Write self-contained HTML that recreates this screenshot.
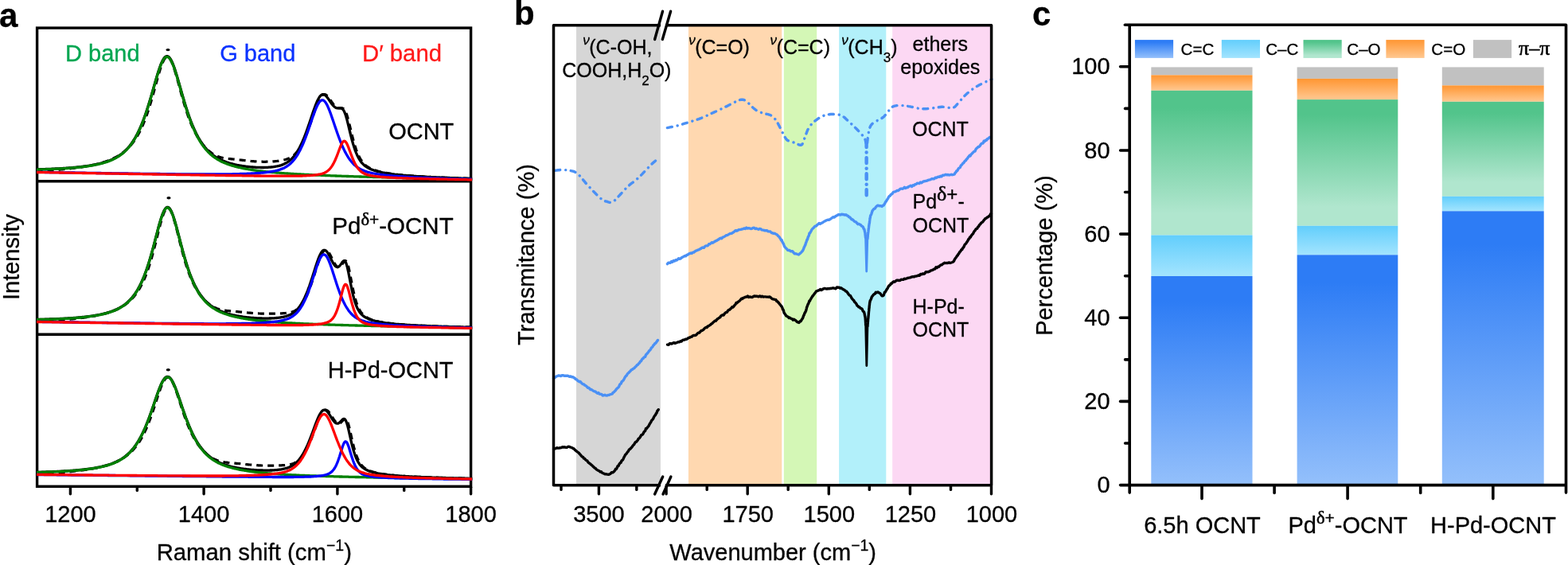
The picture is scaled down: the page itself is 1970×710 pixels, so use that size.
<!DOCTYPE html>
<html lang="en"><head><meta charset="utf-8"><title>Figure</title>
<style>
html,body{margin:0;padding:0;background:#fff;}
body{width:1970px;height:710px;overflow:hidden;}
svg{display:block;font-family:"Liberation Sans", sans-serif;}
svg text{fill:currentColor;stroke:currentColor;stroke-width:0.3px;stroke-linejoin:round;}

</style></head><body>
<svg width="1970" height="710" viewBox="0 0 1970 710">
<rect width="1970" height="710" fill="#fff"/>
<g id="panel-a">
<clipPath id="clipA"><rect x="46.0" y="35.1" width="547.3" height="576.1999999999999"/></clipPath>
<rect x="46.6" y="35.1" width="545.0" height="576.1999999999999" fill="none" stroke="#000" stroke-width="3.4"/>
<line x1="46.6" x2="591.6" y1="227.8" y2="227.8" stroke="#000" stroke-width="3.4"/>
<line x1="46.6" x2="591.6" y1="420.3" y2="420.3" stroke="#000" stroke-width="3.4"/>
<g clip-path="url(#clipA)">
<path d="M45.6,214.7 L46.6,214.7 L47.6,214.6 L48.6,214.6 L49.6,214.6 L50.6,214.5 L51.6,214.5 L52.6,214.5 L53.6,214.4 L54.6,214.4 L55.6,214.3 L56.6,214.3 L57.6,214.3 L58.6,214.2 L59.6,214.2 L60.6,214.1 L61.6,214.0 L62.6,214.0 L63.6,213.9 L64.6,213.9 L65.6,213.8 L66.6,213.7 L67.6,213.7 L68.6,213.6 L69.6,213.5 L70.6,213.5 L71.6,213.4 L72.6,213.3 L73.6,213.2 L74.6,213.1 L75.6,213.1 L76.6,213.0 L77.6,212.9 L78.6,212.8 L79.6,212.7 L80.6,212.6 L81.6,212.5 L82.6,212.4 L83.6,212.3 L84.6,212.2 L85.6,212.1 L86.6,212.0 L87.6,211.9 L88.6,211.8 L89.6,211.6 L90.6,211.5 L91.6,211.4 L92.6,211.3 L93.6,211.2 L94.6,211.0 L95.6,210.9 L96.6,210.8 L97.6,210.6 L98.6,210.5 L99.6,210.4 L100.6,210.2 L101.6,210.1 L102.6,209.9 L103.6,209.8 L104.6,209.6 L105.6,209.4 L106.6,209.3 L107.6,209.1 L108.6,208.9 L109.6,208.8 L110.6,208.6 L111.6,208.4 L112.6,208.2 L113.6,208.0 L114.6,207.8 L115.6,207.6 L116.6,207.4 L117.6,207.2 L118.6,207.0 L119.6,206.7 L120.6,206.5 L121.6,206.3 L122.6,206.0 L123.6,205.8 L124.6,205.5 L125.6,205.2 L126.6,204.9 L127.6,204.7 L128.6,204.4 L129.6,204.1 L130.6,203.7 L131.6,203.4 L132.6,203.1 L133.6,202.7 L134.6,202.4 L135.6,202.0 L136.6,201.6 L137.6,201.2 L138.6,200.8 L139.6,200.4 L140.6,200.0 L141.6,199.5 L142.6,199.0 L143.6,198.5 L144.6,198.0 L145.6,197.5 L146.6,197.0 L147.6,196.4 L148.6,195.8 L149.6,195.2 L150.6,194.6 L151.6,193.9 L152.6,193.2 L153.6,192.5 L154.6,191.7 L155.6,190.9 L156.6,190.1 L157.6,189.3 L158.6,188.4 L159.6,187.5 L160.6,186.5 L161.6,185.5 L162.6,184.4 L163.6,183.3 L164.6,182.2 L165.6,181.0 L166.6,179.7 L167.6,178.4 L168.6,177.0 L169.6,175.5 L170.6,174.0 L171.6,172.4 L172.6,170.8 L173.6,169.0 L174.6,167.2 L175.6,165.3 L176.6,163.3 L177.6,161.3 L178.6,159.1 L179.6,156.8 L180.6,154.4 L181.6,151.9 L182.6,149.4 L183.6,146.7 L184.6,143.9 L185.6,140.9 L186.6,137.9 L187.6,134.8 L188.6,131.6 L189.6,128.2 L190.6,124.8 L191.6,121.3 L192.6,117.8 L193.6,114.1 L194.6,110.5 L195.6,106.8 L196.6,103.2 L197.6,99.5 L198.6,96.0 L199.6,92.5 L200.6,89.2 L201.6,86.1 L202.6,83.1 L203.6,80.5 L204.6,78.1 L205.6,76.0 L206.6,74.3 L207.6,73.0 L208.6,72.1 L209.6,71.7 L210.6,71.6 L211.6,72.0 L212.6,72.9 L213.6,74.1 L214.6,75.7 L215.6,77.7 L216.6,80.1 L217.6,82.7 L218.6,85.6 L219.6,88.7 L220.6,92.0 L221.6,95.5 L222.6,99.0 L223.6,102.7 L224.6,106.4 L225.6,110.0 L226.6,113.7 L227.6,117.4 L228.6,121.0 L229.6,124.5 L230.6,127.9 L231.6,131.3 L232.6,134.6 L233.6,137.7 L234.6,140.8 L235.6,143.8 L236.6,146.6 L237.6,149.3 L238.6,152.0 L239.6,154.5 L240.6,156.9 L241.6,159.2 L242.6,161.4 L243.6,163.5 L244.6,165.6 L245.6,167.5 L246.6,169.3 L247.6,171.1 L248.6,172.8 L249.6,174.4 L250.6,176.0 L251.6,177.4 L252.6,178.8 L253.6,180.2 L254.6,181.4 L255.6,182.7 L256.6,183.8 L257.6,184.9 L258.6,186.0 L259.6,187.0 L260.6,188.0 L261.6,188.9 L262.6,189.7 L263.6,190.6 L264.6,191.3 L265.6,192.1 L266.6,192.8 L267.6,193.4 L268.6,194.0 L269.6,194.6 L270.6,195.1 L271.6,195.6 L272.6,196.0 L273.6,196.5 L274.6,196.8 L275.6,197.2 L276.6,197.5 L277.6,197.8 L278.6,198.0 L279.6,198.3 L280.6,198.5 L281.6,198.7 L282.6,198.9 L283.6,199.0 L284.6,199.2 L285.6,199.3 L286.6,199.4 L287.6,199.5 L288.6,199.6 L289.6,199.7 L290.6,199.8 L291.6,199.9 L292.6,200.0 L293.6,200.1 L294.6,200.2 L295.6,200.3 L296.6,200.4 L297.6,200.5 L298.6,200.6 L299.6,200.7 L300.6,200.9 L301.6,201.0 L302.6,201.1 L303.6,201.2 L304.6,201.3 L305.6,201.4 L306.6,201.5 L307.6,201.6 L308.6,201.7 L309.6,201.9 L310.6,202.0 L311.6,202.1 L312.6,202.2 L313.6,202.3 L314.6,202.4 L315.6,202.5 L316.6,202.6 L317.6,202.6 L318.6,202.7 L319.6,202.8 L320.6,202.9 L321.6,202.9 L322.6,203.0 L323.6,203.0 L324.6,203.1 L325.6,203.1 L326.6,203.2 L327.6,203.2 L328.6,203.2 L329.6,203.2 L330.6,203.3 L331.6,203.3 L332.6,203.3 L333.6,203.3 L334.6,203.2 L335.6,203.2 L336.6,203.2 L337.6,203.2 L338.6,203.1 L339.6,203.1 L340.6,203.0 L341.6,203.0 L342.6,202.9 L343.6,202.8 L344.6,202.8 L345.6,202.7 L346.6,202.6 L347.6,202.5 L348.6,202.4 L349.6,202.3 L350.6,202.1 L351.6,202.0 L352.6,201.8 L353.6,201.7 L354.6,201.5 L355.6,201.3 L356.6,201.0 L357.6,200.8 L358.6,200.5 L359.6,200.2 L360.6,199.9 L361.6,199.5 L362.6,199.1 L363.6,198.6 L364.6,198.1 L365.6,197.6 L366.6,196.9 L367.6,196.2 L368.6,195.5 L369.6,194.6 L370.6,193.7 L371.6,192.7 L372.6,191.6 L373.6,190.4 L374.6,189.1 L375.6,187.7 L376.6,186.2 L377.6,184.6 L378.6,182.8 L379.6,181.0 L380.6,179.0 L381.6,176.9 L382.6,174.7 L383.6,172.4 L384.6,170.0 L385.6,167.5 L386.6,164.8 L387.6,162.1 L388.6,159.3 L389.6,156.5 L390.6,153.6 L391.6,150.6 L392.6,147.6 L393.6,144.7 L394.6,141.7 L395.6,138.8 L396.6,136.0 L397.6,133.3 L398.6,130.7 L399.6,128.3 L400.6,126.1 L401.6,124.1 L402.6,122.4 L403.6,121.0 L404.6,119.9 L405.6,119.1 L406.6,118.7 L407.6,118.5 L408.6,118.7 L409.6,119.2 L410.6,120.0 L411.6,120.9 L412.6,122.1 L413.6,123.5 L414.6,124.9 L415.6,126.4 L416.6,127.9 L417.6,129.3 L418.6,130.7 L419.6,131.9 L420.6,133.1 L421.6,134.0 L422.6,134.7 L423.6,135.3 L424.6,135.6 L425.6,135.8 L426.6,135.9 L427.6,135.8 L428.6,135.8 L429.6,135.8 L430.6,136.1 L431.6,136.6 L432.6,137.6 L433.6,139.1 L434.6,141.2 L435.6,143.8 L436.6,147.0 L437.6,150.7 L438.6,154.6 L439.6,158.7 L440.6,162.9 L441.6,167.1 L442.6,171.1 L443.6,175.0 L444.6,178.6 L445.6,182.1 L446.6,185.2 L447.6,188.2 L448.6,190.9 L449.6,193.3 L450.6,195.6 L451.6,197.6 L452.6,199.4 L453.6,201.0 L454.6,202.5 L455.6,203.8 L456.6,205.0 L457.6,206.1 L458.6,207.0 L459.6,207.9 L460.6,208.7 L461.6,209.4 L462.6,210.1 L463.6,210.6 L464.6,211.2 L465.6,211.7 L466.6,212.2 L467.6,212.6 L468.6,213.0 L469.6,213.4 L470.6,213.8 L471.6,214.1 L472.6,214.4 L473.6,214.7 L474.6,215.0 L475.6,215.3 L476.6,215.5 L477.6,215.8 L478.6,216.0 L479.6,216.3 L480.6,216.5 L481.6,216.7 L482.6,216.9 L483.6,217.1 L484.6,217.3 L485.6,217.4 L486.6,217.6 L487.6,217.8 L488.6,217.9 L489.6,218.1 L490.6,218.2 L491.6,218.4 L492.6,218.5 L493.6,218.7 L494.6,218.8 L495.6,218.9 L496.6,219.0 L497.6,219.2 L498.6,219.3 L499.6,219.4 L500.6,219.5 L501.6,219.6 L502.6,219.7 L503.6,219.8 L504.6,219.9 L505.6,220.0 L506.6,220.1 L507.6,220.2 L508.6,220.3 L509.6,220.4 L510.6,220.5 L511.6,220.5 L512.6,220.6 L513.6,220.7 L514.6,220.8 L515.6,220.9 L516.6,220.9 L517.6,221.0 L518.6,221.1 L519.6,221.2 L520.6,221.2 L521.6,221.3 L522.6,221.4 L523.6,221.4 L524.6,221.5 L525.6,221.6 L526.6,221.6 L527.6,221.7 L528.6,221.7 L529.6,221.8 L530.6,221.9 L531.6,221.9 L532.6,222.0 L533.6,222.0 L534.6,222.1 L535.6,222.1 L536.6,222.2 L537.6,222.3 L538.6,222.3 L539.6,222.4 L540.6,222.4 L541.6,222.5 L542.6,222.5 L543.6,222.6 L544.6,222.6 L545.6,222.7 L546.6,222.7 L547.6,222.7 L548.6,222.8 L549.6,222.8 L550.6,222.9 L551.6,222.9 L552.6,223.0 L553.6,223.0 L554.6,223.1 L555.6,223.1 L556.6,223.1 L557.6,223.2 L558.6,223.2 L559.6,223.3 L560.6,223.3 L561.6,223.3 L562.6,223.4 L563.6,223.4 L564.6,223.5 L565.6,223.5 L566.6,223.5 L567.6,223.6 L568.6,223.6 L569.6,223.6 L570.6,223.7 L571.6,223.7 L572.6,223.8 L573.6,223.8 L574.6,223.8 L575.6,223.9 L576.6,223.9 L577.6,223.9 L578.6,224.0 L579.6,224.0 L580.6,224.0 L581.6,224.1 L582.6,224.1 L583.6,224.1 L584.6,224.2 L585.6,224.2 L586.6,224.2 L587.6,224.3 L588.6,224.3 L589.6,224.3 L590.6,224.4 L591.6,224.4 L592.6,224.4 L593.6,224.5" fill="none" stroke="#000" stroke-width="3.2" stroke-dasharray="8 6" stroke-linejoin="round"/>
<path d="M45.6,212.9 L46.6,212.8 L47.6,212.8 L48.6,212.8 L49.6,212.8 L50.6,212.7 L51.6,212.7 L52.6,212.7 L53.6,212.6 L54.6,212.6 L55.6,212.6 L56.6,212.6 L57.6,212.5 L58.6,212.5 L59.6,212.5 L60.6,212.4 L61.6,212.4 L62.6,212.3 L63.6,212.3 L64.6,212.3 L65.6,212.2 L66.6,212.2 L67.6,212.1 L68.6,212.1 L69.6,212.0 L70.6,212.0 L71.6,211.9 L72.6,211.9 L73.6,211.8 L74.6,211.8 L75.6,211.7 L76.6,211.7 L77.6,211.6 L78.6,211.6 L79.6,211.5 L80.6,211.4 L81.6,211.4 L82.6,211.3 L83.6,211.2 L84.6,211.2 L85.6,211.1 L86.6,211.0 L87.6,210.9 L88.6,210.9 L89.6,210.8 L90.6,210.7 L91.6,210.6 L92.6,210.5 L93.6,210.4 L94.6,210.3 L95.6,210.2 L96.6,210.1 L97.6,210.0 L98.6,209.9 L99.6,209.8 L100.6,209.7 L101.6,209.6 L102.6,209.5 L103.6,209.4 L104.6,209.2 L105.6,209.1 L106.6,209.0 L107.6,208.8 L108.6,208.7 L109.6,208.6 L110.6,208.4 L111.6,208.3 L112.6,208.1 L113.6,207.9 L114.6,207.8 L115.6,207.6 L116.6,207.4 L117.6,207.2 L118.6,207.0 L119.6,206.8 L120.6,206.6 L121.6,206.4 L122.6,206.2 L123.6,206.0 L124.6,205.7 L125.6,205.5 L126.6,205.2 L127.6,205.0 L128.6,204.7 L129.6,204.4 L130.6,204.1 L131.6,203.8 L132.6,203.5 L133.6,203.2 L134.6,202.9 L135.6,202.5 L136.6,202.1 L137.6,201.8 L138.6,201.4 L139.6,200.9 L140.6,200.5 L141.6,200.1 L142.6,199.6 L143.6,199.1 L144.6,198.6 L145.6,198.0 L146.6,197.5 L147.6,196.9 L148.6,196.3 L149.6,195.6 L150.6,194.9 L151.6,194.2 L152.6,193.5 L153.6,192.7 L154.6,191.9 L155.6,191.0 L156.6,190.1 L157.6,189.2 L158.6,188.2 L159.6,187.1 L160.6,186.0 L161.6,184.9 L162.6,183.7 L163.6,182.4 L164.6,181.1 L165.6,179.7 L166.6,178.3 L167.6,176.7 L168.6,175.1 L169.6,173.5 L170.6,171.7 L171.6,169.9 L172.6,168.0 L173.6,166.0 L174.6,163.9 L175.6,161.7 L176.6,159.5 L177.6,157.1 L178.6,154.7 L179.6,152.2 L180.6,149.5 L181.6,146.8 L182.6,144.0 L183.6,141.1 L184.6,138.1 L185.6,135.0 L186.6,131.8 L187.6,128.6 L188.6,125.2 L189.6,121.9 L190.6,118.4 L191.6,115.0 L192.6,111.5 L193.6,108.0 L194.6,104.5 L195.6,101.0 L196.6,97.6 L197.6,94.3 L198.6,91.0 L199.6,87.9 L200.6,85.0 L201.6,82.2 L202.6,79.7 L203.6,77.5 L204.6,75.5 L205.6,73.8 L206.6,72.5 L207.6,71.5 L208.6,70.8 L209.6,70.6 L210.6,70.7 L211.6,71.2 L212.6,72.1 L213.6,73.3 L214.6,74.9 L215.6,76.7 L216.6,78.9 L217.6,81.4 L218.6,84.0 L219.6,86.9 L220.6,90.0 L221.6,93.2 L222.6,96.5 L223.6,99.9 L224.6,103.4 L225.6,106.9 L226.6,110.4 L227.6,113.9 L228.6,117.4 L229.6,120.9 L230.6,124.3 L231.6,127.7 L232.6,131.0 L233.6,134.2 L234.6,137.3 L235.6,140.4 L236.6,143.3 L237.6,146.2 L238.6,149.0 L239.6,151.7 L240.6,154.3 L241.6,156.8 L242.6,159.2 L243.6,161.5 L244.6,163.7 L245.6,165.8 L246.6,167.9 L247.6,169.8 L248.6,171.7 L249.6,173.5 L250.6,175.2 L251.6,176.8 L252.6,178.4 L253.6,179.9 L254.6,181.3 L255.6,182.7 L256.6,184.0 L257.6,185.2 L258.6,186.4 L259.6,187.6 L260.6,188.6 L261.6,189.7 L262.6,190.6 L263.6,191.6 L264.6,192.5 L265.6,193.3 L266.6,194.1 L267.6,194.9 L268.6,195.6 L269.6,196.3 L270.6,197.0 L271.6,197.6 L272.6,198.2 L273.6,198.8 L274.6,199.4 L275.6,199.9 L276.6,200.4 L277.6,200.9 L278.6,201.4 L279.6,201.8 L280.6,202.2 L281.6,202.6 L282.6,203.0 L283.6,203.4 L284.6,203.8 L285.6,204.1 L286.6,204.4 L287.6,204.8 L288.6,205.1 L289.6,205.4 L290.6,205.6 L291.6,205.9 L292.6,206.2 L293.6,206.4 L294.6,206.7 L295.6,206.9 L296.6,207.1 L297.6,207.3 L298.6,207.5 L299.6,207.7 L300.6,207.9 L301.6,208.1 L302.6,208.2 L303.6,208.4 L304.6,208.6 L305.6,208.7 L306.6,208.9 L307.6,209.0 L308.6,209.1 L309.6,209.3 L310.6,209.4 L311.6,209.5 L312.6,209.6 L313.6,209.7 L314.6,209.8 L315.6,209.9 L316.6,210.0 L317.6,210.0 L318.6,210.1 L319.6,210.2 L320.6,210.2 L321.6,210.3 L322.6,210.3 L323.6,210.4 L324.6,210.4 L325.6,210.4 L326.6,210.4 L327.6,210.5 L328.6,210.5 L329.6,210.5 L330.6,210.5 L331.6,210.5 L332.6,210.4 L333.6,210.4 L334.6,210.4 L335.6,210.3 L336.6,210.3 L337.6,210.2 L338.6,210.2 L339.6,210.1 L340.6,210.0 L341.6,209.9 L342.6,209.8 L343.6,209.7 L344.6,209.5 L345.6,209.4 L346.6,209.2 L347.6,209.0 L348.6,208.8 L349.6,208.6 L350.6,208.4 L351.6,208.1 L352.6,207.8 L353.6,207.5 L354.6,207.1 L355.6,206.7 L356.6,206.3 L357.6,205.8 L358.6,205.3 L359.6,204.8 L360.6,204.2 L361.6,203.5 L362.6,202.8 L363.6,202.1 L364.6,201.2 L365.6,200.3 L366.6,199.4 L367.6,198.3 L368.6,197.2 L369.6,196.0 L370.6,194.7 L371.6,193.3 L372.6,191.9 L373.6,190.3 L374.6,188.6 L375.6,186.9 L376.6,185.0 L377.6,183.0 L378.6,180.9 L379.6,178.8 L380.6,176.5 L381.6,174.1 L382.6,171.6 L383.6,169.0 L384.6,166.4 L385.6,163.6 L386.6,160.8 L387.6,157.9 L388.6,155.0 L389.6,152.0 L390.6,149.0 L391.6,146.0 L392.6,143.0 L393.6,140.1 L394.6,137.2 L395.6,134.5 L396.6,131.8 L397.6,129.3 L398.6,127.0 L399.6,125.0 L400.6,123.2 L401.6,121.6 L402.6,120.4 L403.6,119.5 L404.6,118.9 L405.6,118.6 L406.6,118.7 L407.6,119.1 L408.6,119.7 L409.6,120.6 L410.6,121.7 L411.6,123.0 L412.6,124.4 L413.6,125.8 L414.6,127.3 L415.6,128.8 L416.6,130.2 L417.6,131.5 L418.6,132.7 L419.6,133.7 L420.6,134.5 L421.6,135.2 L422.6,135.6 L423.6,135.8 L424.6,135.9 L425.6,135.9 L426.6,135.9 L427.6,135.9 L428.6,136.0 L429.6,136.4 L430.6,137.2 L431.6,138.5 L432.6,140.3 L433.6,142.8 L434.6,145.8 L435.6,149.2 L436.6,153.1 L437.6,157.1 L438.6,161.3 L439.6,165.5 L440.6,169.5 L441.6,173.5 L442.6,177.2 L443.6,180.8 L444.6,184.0 L445.6,187.1 L446.6,189.9 L447.6,192.4 L448.6,194.7 L449.6,196.8 L450.6,198.7 L451.6,200.4 L452.6,202.0 L453.6,203.4 L454.6,204.6 L455.6,205.7 L456.6,206.7 L457.6,207.6 L458.6,208.4 L459.6,209.2 L460.6,209.8 L461.6,210.5 L462.6,211.0 L463.6,211.5 L464.6,212.0 L465.6,212.5 L466.6,212.9 L467.6,213.3 L468.6,213.7 L469.6,214.0 L470.6,214.3 L471.6,214.6 L472.6,214.9 L473.6,215.2 L474.6,215.5 L475.6,215.7 L476.6,216.0 L477.6,216.2 L478.6,216.4 L479.6,216.6 L480.6,216.8 L481.6,217.0 L482.6,217.2 L483.6,217.4 L484.6,217.6 L485.6,217.7 L486.6,217.9 L487.6,218.1 L488.6,218.2 L489.6,218.3 L490.6,218.5 L491.6,218.6 L492.6,218.8 L493.6,218.9 L494.6,219.0 L495.6,219.1 L496.6,219.3 L497.6,219.4 L498.6,219.5 L499.6,219.6 L500.6,219.7 L501.6,219.8 L502.6,219.9 L503.6,220.0 L504.6,220.1 L505.6,220.2 L506.6,220.3 L507.6,220.4 L508.6,220.4 L509.6,220.5 L510.6,220.6 L511.6,220.7 L512.6,220.8 L513.6,220.9 L514.6,220.9 L515.6,221.0 L516.6,221.1 L517.6,221.2 L518.6,221.2 L519.6,221.3 L520.6,221.4 L521.6,221.4 L522.6,221.5 L523.6,221.6 L524.6,221.6 L525.6,221.7 L526.6,221.7 L527.6,221.8 L528.6,221.9 L529.6,221.9 L530.6,222.0 L531.6,222.0 L532.6,222.1 L533.6,222.1 L534.6,222.2 L535.6,222.2 L536.6,222.3 L537.6,222.4 L538.6,222.4 L539.6,222.5 L540.6,222.5 L541.6,222.6 L542.6,222.6 L543.6,222.6 L544.6,222.7 L545.6,222.7 L546.6,222.8 L547.6,222.8 L548.6,222.9 L549.6,222.9 L550.6,223.0 L551.6,223.0 L552.6,223.0 L553.6,223.1 L554.6,223.1 L555.6,223.2 L556.6,223.2 L557.6,223.3 L558.6,223.3 L559.6,223.3 L560.6,223.4 L561.6,223.4 L562.6,223.5 L563.6,223.5 L564.6,223.5 L565.6,223.6 L566.6,223.6 L567.6,223.6 L568.6,223.7 L569.6,223.7 L570.6,223.7 L571.6,223.8 L572.6,223.8 L573.6,223.9 L574.6,223.9 L575.6,223.9 L576.6,224.0 L577.6,224.0 L578.6,224.0 L579.6,224.1 L580.6,224.1 L581.6,224.1 L582.6,224.2 L583.6,224.2 L584.6,224.2 L585.6,224.3 L586.6,224.3 L587.6,224.3 L588.6,224.4 L589.6,224.4 L590.6,224.4 L591.6,224.4 L592.6,224.5 L593.6,224.5" fill="none" stroke="#000" stroke-width="3.3" stroke-linejoin="round"/>
<path d="M45.6,213.1 L46.6,213.1 L47.6,213.1 L48.6,213.0 L49.6,213.0 L50.6,213.0 L51.6,212.9 L52.6,212.9 L53.6,212.9 L54.6,212.9 L55.6,212.8 L56.6,212.8 L57.6,212.8 L58.6,212.7 L59.6,212.7 L60.6,212.7 L61.6,212.6 L62.6,212.6 L63.6,212.6 L64.6,212.5 L65.6,212.5 L66.6,212.4 L67.6,212.4 L68.6,212.4 L69.6,212.3 L70.6,212.3 L71.6,212.2 L72.6,212.2 L73.6,212.1 L74.6,212.1 L75.6,212.0 L76.6,212.0 L77.6,211.9 L78.6,211.8 L79.6,211.8 L80.6,211.7 L81.6,211.7 L82.6,211.6 L83.6,211.5 L84.6,211.5 L85.6,211.4 L86.6,211.3 L87.6,211.2 L88.6,211.2 L89.6,211.1 L90.6,211.0 L91.6,210.9 L92.6,210.8 L93.6,210.7 L94.6,210.6 L95.6,210.6 L96.6,210.5 L97.6,210.4 L98.6,210.3 L99.6,210.1 L100.6,210.0 L101.6,209.9 L102.6,209.8 L103.6,209.7 L104.6,209.6 L105.6,209.4 L106.6,209.3 L107.6,209.2 L108.6,209.0 L109.6,208.9 L110.6,208.8 L111.6,208.6 L112.6,208.4 L113.6,208.3 L114.6,208.1 L115.6,207.9 L116.6,207.8 L117.6,207.6 L118.6,207.4 L119.6,207.2 L120.6,207.0 L121.6,206.8 L122.6,206.6 L123.6,206.4 L124.6,206.1 L125.6,205.9 L126.6,205.6 L127.6,205.4 L128.6,205.1 L129.6,204.8 L130.6,204.5 L131.6,204.2 L132.6,203.9 L133.6,203.6 L134.6,203.3 L135.6,202.9 L136.6,202.6 L137.6,202.2 L138.6,201.8 L139.6,201.4 L140.6,200.9 L141.6,200.5 L142.6,200.0 L143.6,199.5 L144.6,199.0 L145.6,198.5 L146.6,197.9 L147.6,197.3 L148.6,196.7 L149.6,196.1 L150.6,195.4 L151.6,194.7 L152.6,193.9 L153.6,193.2 L154.6,192.4 L155.6,191.5 L156.6,190.6 L157.6,189.7 L158.6,188.7 L159.6,187.6 L160.6,186.5 L161.6,185.4 L162.6,184.2 L163.6,182.9 L164.6,181.6 L165.6,180.2 L166.6,178.8 L167.6,177.3 L168.6,175.7 L169.6,174.0 L170.6,172.3 L171.6,170.4 L172.6,168.5 L173.6,166.5 L174.6,164.5 L175.6,162.3 L176.6,160.1 L177.6,157.7 L178.6,155.3 L179.6,152.7 L180.6,150.1 L181.6,147.4 L182.6,144.6 L183.6,141.7 L184.6,138.7 L185.6,135.6 L186.6,132.4 L187.6,129.2 L188.6,125.9 L189.6,122.5 L190.6,119.1 L191.6,115.6 L192.6,112.1 L193.6,108.6 L194.6,105.1 L195.6,101.7 L196.6,98.3 L197.6,94.9 L198.6,91.7 L199.6,88.6 L200.6,85.7 L201.6,83.0 L202.6,80.4 L203.6,78.2 L204.6,76.2 L205.6,74.5 L206.6,73.2 L207.6,72.2 L208.6,71.6 L209.6,71.3 L210.6,71.5 L211.6,72.0 L212.6,72.9 L213.6,74.1 L214.6,75.7 L215.6,77.6 L216.6,79.7 L217.6,82.2 L218.6,84.9 L219.6,87.8 L220.6,90.8 L221.6,94.0 L222.6,97.4 L223.6,100.8 L224.6,104.3 L225.6,107.8 L226.6,111.3 L227.6,114.8 L228.6,118.4 L229.6,121.8 L230.6,125.3 L231.6,128.6 L232.6,131.9 L233.6,135.2 L234.6,138.3 L235.6,141.4 L236.6,144.4 L237.6,147.3 L238.6,150.0 L239.6,152.7 L240.6,155.3 L241.6,157.9 L242.6,160.3 L243.6,162.6 L244.6,164.8 L245.6,167.0 L246.6,169.0 L247.6,171.0 L248.6,172.9 L249.6,174.7 L250.6,176.4 L251.6,178.1 L252.6,179.7 L253.6,181.2 L254.6,182.6 L255.6,184.0 L256.6,185.3 L257.6,186.6 L258.6,187.8 L259.6,188.9 L260.6,190.0 L261.6,191.1 L262.6,192.1 L263.6,193.0 L264.6,193.9 L265.6,194.8 L266.6,195.6 L267.6,196.4 L268.6,197.2 L269.6,197.9 L270.6,198.6 L271.6,199.2 L272.6,199.9 L273.6,200.5 L274.6,201.1 L275.6,201.6 L276.6,202.2 L277.6,202.7 L278.6,203.2 L279.6,203.6 L280.6,204.1 L281.6,204.5 L282.6,204.9 L283.6,205.3 L284.6,205.7 L285.6,206.1 L286.6,206.5 L287.6,206.8 L288.6,207.2 L289.6,207.5 L290.6,207.8 L291.6,208.1 L292.6,208.4 L293.6,208.7 L294.6,209.0 L295.6,209.3 L296.6,209.5 L297.6,209.8 L298.6,210.0 L299.6,210.3 L300.6,210.5 L301.6,210.7 L302.6,210.9 L303.6,211.1 L304.6,211.4 L305.6,211.6 L306.6,211.8 L307.6,212.0 L308.6,212.1 L309.6,212.3 L310.6,212.5 L311.6,212.7 L312.6,212.8 L313.6,213.0 L314.6,213.2 L315.6,213.3 L316.6,213.5 L317.6,213.6 L318.6,213.8 L319.6,213.9 L320.6,214.1 L321.6,214.2 L322.6,214.3 L323.6,214.5 L324.6,214.6 L325.6,214.7 L326.6,214.9 L327.6,215.0 L328.6,215.1 L329.6,215.2 L330.6,215.3 L331.6,215.5 L332.6,215.6 L333.6,215.7 L334.6,215.8 L335.6,215.9 L336.6,216.0 L337.6,216.1 L338.6,216.2 L339.6,216.3 L340.6,216.4 L341.6,216.5 L342.6,216.6 L343.6,216.6 L344.6,216.7 L345.6,216.8 L346.6,216.9 L347.6,217.0 L348.6,217.1 L349.6,217.2 L350.6,217.2 L351.6,217.3 L352.6,217.4 L353.6,217.5 L354.6,217.6 L355.6,217.6 L356.6,217.7 L357.6,217.8 L358.6,217.8 L359.6,217.9 L360.6,218.0 L361.6,218.0 L362.6,218.1 L363.6,218.2 L364.6,218.2 L365.6,218.3 L366.6,218.4 L367.6,218.4 L368.6,218.5 L369.6,218.6 L370.6,218.6 L371.6,218.7 L372.6,218.7 L373.6,218.8 L374.6,218.9 L375.6,218.9 L376.6,219.0 L377.6,219.0 L378.6,219.1 L379.6,219.1 L380.6,219.2 L381.6,219.2 L382.6,219.3 L383.6,219.3 L384.6,219.4 L385.6,219.4 L386.6,219.5 L387.6,219.5 L388.6,219.6 L389.6,219.6 L390.6,219.7 L391.6,219.7 L392.6,219.8 L393.6,219.8 L394.6,219.9 L395.6,219.9 L396.6,220.0 L397.6,220.0 L398.6,220.1 L399.6,220.1 L400.6,220.1 L401.6,220.2 L402.6,220.2 L403.6,220.3 L404.6,220.3 L405.6,220.4 L406.6,220.4 L407.6,220.4 L408.6,220.5 L409.6,220.5 L410.6,220.6 L411.6,220.6 L412.6,220.6 L413.6,220.7 L414.6,220.7 L415.6,220.8 L416.6,220.8 L417.6,220.8 L418.6,220.9 L419.6,220.9 L420.6,220.9 L421.6,221.0 L422.6,221.0 L423.6,221.1 L424.6,221.1 L425.6,221.1 L426.6,221.2 L427.6,221.2 L428.6,221.2 L429.6,221.3 L430.6,221.3 L431.6,221.3 L432.6,221.4 L433.6,221.4 L434.6,221.4 L435.6,221.5 L436.6,221.5 L437.6,221.5 L438.6,221.6 L439.6,221.6 L440.6,221.6 L441.6,221.7 L442.6,221.7 L443.6,221.7 L444.6,221.8 L445.6,221.8 L446.6,221.8 L447.6,221.9 L448.6,221.9 L449.6,221.9 L450.6,221.9 L451.6,222.0 L452.6,222.0 L453.6,222.0 L454.6,222.1 L455.6,222.1 L456.6,222.1 L457.6,222.2 L458.6,222.2 L459.6,222.2 L460.6,222.2 L461.6,222.3 L462.6,222.3 L463.6,222.3 L464.6,222.4 L465.6,222.4 L466.6,222.4 L467.6,222.4 L468.6,222.5 L469.6,222.5 L470.6,222.5 L471.6,222.6 L472.6,222.6 L473.6,222.6 L474.6,222.6 L475.6,222.7 L476.6,222.7 L477.6,222.7 L478.6,222.7 L479.6,222.8 L480.6,222.8 L481.6,222.8 L482.6,222.9 L483.6,222.9 L484.6,222.9 L485.6,222.9 L486.6,223.0 L487.6,223.0 L488.6,223.0 L489.6,223.0 L490.6,223.1 L491.6,223.1 L492.6,223.1 L493.6,223.1 L494.6,223.2 L495.6,223.2 L496.6,223.2 L497.6,223.2 L498.6,223.3 L499.6,223.3 L500.6,223.3 L501.6,223.3 L502.6,223.4 L503.6,223.4 L504.6,223.4 L505.6,223.4 L506.6,223.5 L507.6,223.5 L508.6,223.5 L509.6,223.5 L510.6,223.6 L511.6,223.6 L512.6,223.6 L513.6,223.6 L514.6,223.7 L515.6,223.7 L516.6,223.7 L517.6,223.7 L518.6,223.8 L519.6,223.8 L520.6,223.8 L521.6,223.8 L522.6,223.8 L523.6,223.9 L524.6,223.9 L525.6,223.9 L526.6,223.9 L527.6,224.0 L528.6,224.0 L529.6,224.0 L530.6,224.0 L531.6,224.1 L532.6,224.1 L533.6,224.1 L534.6,224.1 L535.6,224.1 L536.6,224.2 L537.6,224.2 L538.6,224.2 L539.6,224.2 L540.6,224.3 L541.6,224.3 L542.6,224.3 L543.6,224.3 L544.6,224.3 L545.6,224.4 L546.6,224.4 L547.6,224.4 L548.6,224.4 L549.6,224.5 L550.6,224.5 L551.6,224.5 L552.6,224.5 L553.6,224.5 L554.6,224.6 L555.6,224.6 L556.6,224.6 L557.6,224.6 L558.6,224.7 L559.6,224.7 L560.6,224.7 L561.6,224.7 L562.6,224.7 L563.6,224.8 L564.6,224.8 L565.6,224.8 L566.6,224.8 L567.6,224.9 L568.6,224.9 L569.6,224.9 L570.6,224.9 L571.6,224.9 L572.6,225.0 L573.6,225.0 L574.6,225.0 L575.6,225.0 L576.6,225.0 L577.6,225.1 L578.6,225.1 L579.6,225.1 L580.6,225.1 L581.6,225.2 L582.6,225.2 L583.6,225.2 L584.6,225.2 L585.6,225.2 L586.6,225.3 L587.6,225.3 L588.6,225.3 L589.6,225.3 L590.6,225.3 L591.6,225.4 L592.6,225.4 L593.6,225.4" fill="none" stroke="#008000" stroke-width="3.3" stroke-linejoin="round"/>
<path d="M45.6,216.3 L46.6,216.3 L47.6,216.3 L48.6,216.3 L49.6,216.3 L50.6,216.4 L51.6,216.4 L52.6,216.4 L53.6,216.4 L54.6,216.4 L55.6,216.4 L56.6,216.5 L57.6,216.5 L58.6,216.5 L59.6,216.5 L60.6,216.5 L61.6,216.5 L62.6,216.6 L63.6,216.6 L64.6,216.6 L65.6,216.6 L66.6,216.6 L67.6,216.6 L68.6,216.6 L69.6,216.7 L70.6,216.7 L71.6,216.7 L72.6,216.7 L73.6,216.7 L74.6,216.7 L75.6,216.8 L76.6,216.8 L77.6,216.8 L78.6,216.8 L79.6,216.8 L80.6,216.8 L81.6,216.9 L82.6,216.9 L83.6,216.9 L84.6,216.9 L85.6,216.9 L86.6,216.9 L87.6,216.9 L88.6,217.0 L89.6,217.0 L90.6,217.0 L91.6,217.0 L92.6,217.0 L93.6,217.0 L94.6,217.1 L95.6,217.1 L96.6,217.1 L97.6,217.1 L98.6,217.1 L99.6,217.1 L100.6,217.2 L101.6,217.2 L102.6,217.2 L103.6,217.2 L104.6,217.2 L105.6,217.2 L106.6,217.2 L107.6,217.3 L108.6,217.3 L109.6,217.3 L110.6,217.3 L111.6,217.3 L112.6,217.3 L113.6,217.4 L114.6,217.4 L115.6,217.4 L116.6,217.4 L117.6,217.4 L118.6,217.4 L119.6,217.4 L120.6,217.5 L121.6,217.5 L122.6,217.5 L123.6,217.5 L124.6,217.5 L125.6,217.5 L126.6,217.5 L127.6,217.6 L128.6,217.6 L129.6,217.6 L130.6,217.6 L131.6,217.6 L132.6,217.6 L133.6,217.7 L134.6,217.7 L135.6,217.7 L136.6,217.7 L137.6,217.7 L138.6,217.7 L139.6,217.7 L140.6,217.8 L141.6,217.8 L142.6,217.8 L143.6,217.8 L144.6,217.8 L145.6,217.8 L146.6,217.8 L147.6,217.9 L148.6,217.9 L149.6,217.9 L150.6,217.9 L151.6,217.9 L152.6,217.9 L153.6,217.9 L154.6,218.0 L155.6,218.0 L156.6,218.0 L157.6,218.0 L158.6,218.0 L159.6,218.0 L160.6,218.0 L161.6,218.1 L162.6,218.1 L163.6,218.1 L164.6,218.1 L165.6,218.1 L166.6,218.1 L167.6,218.1 L168.6,218.1 L169.6,218.2 L170.6,218.2 L171.6,218.2 L172.6,218.2 L173.6,218.2 L174.6,218.2 L175.6,218.2 L176.6,218.3 L177.6,218.3 L178.6,218.3 L179.6,218.3 L180.6,218.3 L181.6,218.3 L182.6,218.3 L183.6,218.3 L184.6,218.4 L185.6,218.4 L186.6,218.4 L187.6,218.4 L188.6,218.4 L189.6,218.4 L190.6,218.4 L191.6,218.4 L192.6,218.5 L193.6,218.5 L194.6,218.5 L195.6,218.5 L196.6,218.5 L197.6,218.5 L198.6,218.5 L199.6,218.5 L200.6,218.5 L201.6,218.6 L202.6,218.6 L203.6,218.6 L204.6,218.6 L205.6,218.6 L206.6,218.6 L207.6,218.6 L208.6,218.6 L209.6,218.6 L210.6,218.7 L211.6,218.7 L212.6,218.7 L213.6,218.7 L214.6,218.7 L215.6,218.7 L216.6,218.7 L217.6,218.7 L218.6,218.7 L219.6,218.7 L220.6,218.8 L221.6,218.8 L222.6,218.8 L223.6,218.8 L224.6,218.8 L225.6,218.8 L226.6,218.8 L227.6,218.8 L228.6,218.8 L229.6,218.8 L230.6,218.8 L231.6,218.8 L232.6,218.9 L233.6,218.9 L234.6,218.9 L235.6,218.9 L236.6,218.9 L237.6,218.9 L238.6,218.9 L239.6,218.9 L240.6,218.9 L241.6,218.9 L242.6,218.9 L243.6,218.9 L244.6,218.9 L245.6,218.9 L246.6,218.9 L247.6,218.9 L248.6,218.9 L249.6,218.9 L250.6,218.9 L251.6,219.0 L252.6,219.0 L253.6,219.0 L254.6,219.0 L255.6,219.0 L256.6,219.0 L257.6,219.0 L258.6,219.0 L259.6,219.0 L260.6,219.0 L261.6,219.0 L262.6,219.0 L263.6,219.0 L264.6,219.0 L265.6,219.0 L266.6,219.0 L267.6,219.0 L268.6,219.0 L269.6,219.0 L270.6,219.0 L271.6,218.9 L272.6,218.9 L273.6,218.9 L274.6,218.9 L275.6,218.9 L276.6,218.9 L277.6,218.9 L278.6,218.9 L279.6,218.9 L280.6,218.9 L281.6,218.9 L282.6,218.9 L283.6,218.9 L284.6,218.9 L285.6,218.8 L286.6,218.8 L287.6,218.8 L288.6,218.8 L289.6,218.8 L290.6,218.8 L291.6,218.8 L292.6,218.7 L293.6,218.7 L294.6,218.7 L295.6,218.7 L296.6,218.7 L297.6,218.6 L298.6,218.6 L299.6,218.6 L300.6,218.6 L301.6,218.5 L302.6,218.5 L303.6,218.5 L304.6,218.4 L305.6,218.4 L306.6,218.4 L307.6,218.3 L308.6,218.3 L309.6,218.3 L310.6,218.2 L311.6,218.2 L312.6,218.1 L313.6,218.1 L314.6,218.1 L315.6,218.0 L316.6,218.0 L317.6,217.9 L318.6,217.8 L319.6,217.8 L320.6,217.7 L321.6,217.7 L322.6,217.6 L323.6,217.5 L324.6,217.5 L325.6,217.4 L326.6,217.3 L327.6,217.2 L328.6,217.1 L329.6,217.0 L330.6,217.0 L331.6,216.9 L332.6,216.8 L333.6,216.6 L334.6,216.5 L335.6,216.4 L336.6,216.3 L337.6,216.2 L338.6,216.0 L339.6,215.9 L340.6,215.7 L341.6,215.5 L342.6,215.4 L343.6,215.2 L344.6,215.0 L345.6,214.8 L346.6,214.5 L347.6,214.3 L348.6,214.1 L349.6,213.8 L350.6,213.5 L351.6,213.2 L352.6,212.8 L353.6,212.4 L354.6,212.0 L355.6,211.6 L356.6,211.2 L357.6,210.7 L358.6,210.1 L359.6,209.5 L360.6,208.9 L361.6,208.2 L362.6,207.5 L363.6,206.7 L364.6,205.8 L365.6,204.9 L366.6,203.9 L367.6,202.9 L368.6,201.7 L369.6,200.5 L370.6,199.2 L371.6,197.8 L372.6,196.3 L373.6,194.8 L374.6,193.1 L375.6,191.3 L376.6,189.5 L377.6,187.5 L378.6,185.4 L379.6,183.3 L380.6,181.0 L381.6,178.6 L382.6,176.2 L383.6,173.6 L384.6,171.0 L385.6,168.3 L386.6,165.5 L387.6,162.6 L388.6,159.7 L389.6,156.8 L390.6,153.9 L391.6,151.0 L392.6,148.0 L393.6,145.2 L394.6,142.4 L395.6,139.7 L396.6,137.2 L397.6,134.8 L398.6,132.7 L399.6,130.8 L400.6,129.1 L401.6,127.8 L402.6,126.8 L403.6,126.1 L404.6,125.8 L405.6,125.8 L406.6,126.2 L407.6,127.0 L408.6,128.1 L409.6,129.6 L410.6,131.3 L411.6,133.3 L412.6,135.6 L413.6,138.0 L414.6,140.6 L415.6,143.3 L416.6,146.2 L417.6,149.1 L418.6,152.0 L419.6,155.0 L420.6,158.0 L421.6,160.9 L422.6,163.8 L423.6,166.7 L424.6,169.5 L425.6,172.2 L426.6,174.9 L427.6,177.5 L428.6,179.9 L429.6,182.3 L430.6,184.6 L431.6,186.8 L432.6,188.9 L433.6,190.9 L434.6,192.7 L435.6,194.5 L436.6,196.2 L437.6,197.8 L438.6,199.3 L439.6,200.7 L440.6,202.0 L441.6,203.2 L442.6,204.4 L443.6,205.5 L444.6,206.5 L445.6,207.4 L446.6,208.3 L447.6,209.1 L448.6,209.9 L449.6,210.6 L450.6,211.2 L451.6,211.8 L452.6,212.4 L453.6,212.9 L454.6,213.4 L455.6,213.9 L456.6,214.3 L457.6,214.7 L458.6,215.1 L459.6,215.4 L460.6,215.8 L461.6,216.1 L462.6,216.4 L463.6,216.6 L464.6,216.9 L465.6,217.1 L466.6,217.4 L467.6,217.6 L468.6,217.8 L469.6,218.0 L470.6,218.2 L471.6,218.4 L472.6,218.5 L473.6,218.7 L474.6,218.9 L475.6,219.0 L476.6,219.2 L477.6,219.3 L478.6,219.4 L479.6,219.6 L480.6,219.7 L481.6,219.8 L482.6,219.9 L483.6,220.1 L484.6,220.2 L485.6,220.3 L486.6,220.4 L487.6,220.5 L488.6,220.6 L489.6,220.7 L490.6,220.8 L491.6,220.9 L492.6,221.0 L493.6,221.1 L494.6,221.1 L495.6,221.2 L496.6,221.3 L497.6,221.4 L498.6,221.5 L499.6,221.5 L500.6,221.6 L501.6,221.7 L502.6,221.8 L503.6,221.8 L504.6,221.9 L505.6,222.0 L506.6,222.0 L507.6,222.1 L508.6,222.2 L509.6,222.2 L510.6,222.3 L511.6,222.3 L512.6,222.4 L513.6,222.4 L514.6,222.5 L515.6,222.6 L516.6,222.6 L517.6,222.7 L518.6,222.7 L519.6,222.8 L520.6,222.8 L521.6,222.9 L522.6,222.9 L523.6,223.0 L524.6,223.0 L525.6,223.1 L526.6,223.1 L527.6,223.1 L528.6,223.2 L529.6,223.2 L530.6,223.3 L531.6,223.3 L532.6,223.4 L533.6,223.4 L534.6,223.4 L535.6,223.5 L536.6,223.5 L537.6,223.6 L538.6,223.6 L539.6,223.6 L540.6,223.7 L541.6,223.7 L542.6,223.8 L543.6,223.8 L544.6,223.8 L545.6,223.9 L546.6,223.9 L547.6,223.9 L548.6,224.0 L549.6,224.0 L550.6,224.0 L551.6,224.1 L552.6,224.1 L553.6,224.1 L554.6,224.2 L555.6,224.2 L556.6,224.2 L557.6,224.3 L558.6,224.3 L559.6,224.3 L560.6,224.4 L561.6,224.4 L562.6,224.4 L563.6,224.5 L564.6,224.5 L565.6,224.5 L566.6,224.6 L567.6,224.6 L568.6,224.6 L569.6,224.6 L570.6,224.7 L571.6,224.7 L572.6,224.7 L573.6,224.8 L574.6,224.8 L575.6,224.8 L576.6,224.8 L577.6,224.9 L578.6,224.9 L579.6,224.9 L580.6,224.9 L581.6,225.0 L582.6,225.0 L583.6,225.0 L584.6,225.1 L585.6,225.1 L586.6,225.1 L587.6,225.1 L588.6,225.2 L589.6,225.2 L590.6,225.2 L591.6,225.2 L592.6,225.3 L593.6,225.3" fill="none" stroke="#0000ff" stroke-width="3.3" stroke-linejoin="round"/>
<path d="M45.6,216.5 L46.6,216.5 L47.6,216.5 L48.6,216.5 L49.6,216.5 L50.6,216.5 L51.6,216.6 L52.6,216.6 L53.6,216.6 L54.6,216.6 L55.6,216.6 L56.6,216.6 L57.6,216.7 L58.6,216.7 L59.6,216.7 L60.6,216.7 L61.6,216.7 L62.6,216.8 L63.6,216.8 L64.6,216.8 L65.6,216.8 L66.6,216.8 L67.6,216.8 L68.6,216.9 L69.6,216.9 L70.6,216.9 L71.6,216.9 L72.6,216.9 L73.6,216.9 L74.6,217.0 L75.6,217.0 L76.6,217.0 L77.6,217.0 L78.6,217.0 L79.6,217.0 L80.6,217.1 L81.6,217.1 L82.6,217.1 L83.6,217.1 L84.6,217.1 L85.6,217.1 L86.6,217.2 L87.6,217.2 L88.6,217.2 L89.6,217.2 L90.6,217.2 L91.6,217.3 L92.6,217.3 L93.6,217.3 L94.6,217.3 L95.6,217.3 L96.6,217.3 L97.6,217.4 L98.6,217.4 L99.6,217.4 L100.6,217.4 L101.6,217.4 L102.6,217.4 L103.6,217.5 L104.6,217.5 L105.6,217.5 L106.6,217.5 L107.6,217.5 L108.6,217.5 L109.6,217.6 L110.6,217.6 L111.6,217.6 L112.6,217.6 L113.6,217.6 L114.6,217.6 L115.6,217.7 L116.6,217.7 L117.6,217.7 L118.6,217.7 L119.6,217.7 L120.6,217.7 L121.6,217.8 L122.6,217.8 L123.6,217.8 L124.6,217.8 L125.6,217.8 L126.6,217.9 L127.6,217.9 L128.6,217.9 L129.6,217.9 L130.6,217.9 L131.6,217.9 L132.6,218.0 L133.6,218.0 L134.6,218.0 L135.6,218.0 L136.6,218.0 L137.6,218.0 L138.6,218.1 L139.6,218.1 L140.6,218.1 L141.6,218.1 L142.6,218.1 L143.6,218.1 L144.6,218.2 L145.6,218.2 L146.6,218.2 L147.6,218.2 L148.6,218.2 L149.6,218.2 L150.6,218.3 L151.6,218.3 L152.6,218.3 L153.6,218.3 L154.6,218.3 L155.6,218.3 L156.6,218.4 L157.6,218.4 L158.6,218.4 L159.6,218.4 L160.6,218.4 L161.6,218.5 L162.6,218.5 L163.6,218.5 L164.6,218.5 L165.6,218.5 L166.6,218.5 L167.6,218.6 L168.6,218.6 L169.6,218.6 L170.6,218.6 L171.6,218.6 L172.6,218.6 L173.6,218.7 L174.6,218.7 L175.6,218.7 L176.6,218.7 L177.6,218.7 L178.6,218.7 L179.6,218.8 L180.6,218.8 L181.6,218.8 L182.6,218.8 L183.6,218.8 L184.6,218.8 L185.6,218.9 L186.6,218.9 L187.6,218.9 L188.6,218.9 L189.6,218.9 L190.6,218.9 L191.6,219.0 L192.6,219.0 L193.6,219.0 L194.6,219.0 L195.6,219.0 L196.6,219.0 L197.6,219.1 L198.6,219.1 L199.6,219.1 L200.6,219.1 L201.6,219.1 L202.6,219.1 L203.6,219.2 L204.6,219.2 L205.6,219.2 L206.6,219.2 L207.6,219.2 L208.6,219.2 L209.6,219.3 L210.6,219.3 L211.6,219.3 L212.6,219.3 L213.6,219.3 L214.6,219.3 L215.6,219.4 L216.6,219.4 L217.6,219.4 L218.6,219.4 L219.6,219.4 L220.6,219.4 L221.6,219.5 L222.6,219.5 L223.6,219.5 L224.6,219.5 L225.6,219.5 L226.6,219.5 L227.6,219.6 L228.6,219.6 L229.6,219.6 L230.6,219.6 L231.6,219.6 L232.6,219.6 L233.6,219.7 L234.6,219.7 L235.6,219.7 L236.6,219.7 L237.6,219.7 L238.6,219.7 L239.6,219.8 L240.6,219.8 L241.6,219.8 L242.6,219.8 L243.6,219.8 L244.6,219.8 L245.6,219.9 L246.6,219.9 L247.6,219.9 L248.6,219.9 L249.6,219.9 L250.6,219.9 L251.6,220.0 L252.6,220.0 L253.6,220.0 L254.6,220.0 L255.6,220.0 L256.6,220.0 L257.6,220.1 L258.6,220.1 L259.6,220.1 L260.6,220.1 L261.6,220.1 L262.6,220.1 L263.6,220.1 L264.6,220.2 L265.6,220.2 L266.6,220.2 L267.6,220.2 L268.6,220.2 L269.6,220.2 L270.6,220.3 L271.6,220.3 L272.6,220.3 L273.6,220.3 L274.6,220.3 L275.6,220.3 L276.6,220.3 L277.6,220.4 L278.6,220.4 L279.6,220.4 L280.6,220.4 L281.6,220.4 L282.6,220.4 L283.6,220.5 L284.6,220.5 L285.6,220.5 L286.6,220.5 L287.6,220.5 L288.6,220.5 L289.6,220.5 L290.6,220.6 L291.6,220.6 L292.6,220.6 L293.6,220.6 L294.6,220.6 L295.6,220.6 L296.6,220.6 L297.6,220.7 L298.6,220.7 L299.6,220.7 L300.6,220.7 L301.6,220.7 L302.6,220.7 L303.6,220.7 L304.6,220.8 L305.6,220.8 L306.6,220.8 L307.6,220.8 L308.6,220.8 L309.6,220.8 L310.6,220.8 L311.6,220.9 L312.6,220.9 L313.6,220.9 L314.6,220.9 L315.6,220.9 L316.6,220.9 L317.6,220.9 L318.6,220.9 L319.6,221.0 L320.6,221.0 L321.6,221.0 L322.6,221.0 L323.6,221.0 L324.6,221.0 L325.6,221.0 L326.6,221.0 L327.6,221.0 L328.6,221.1 L329.6,221.1 L330.6,221.1 L331.6,221.1 L332.6,221.1 L333.6,221.1 L334.6,221.1 L335.6,221.1 L336.6,221.1 L337.6,221.1 L338.6,221.2 L339.6,221.2 L340.6,221.2 L341.6,221.2 L342.6,221.2 L343.6,221.2 L344.6,221.2 L345.6,221.2 L346.6,221.2 L347.6,221.2 L348.6,221.2 L349.6,221.2 L350.6,221.2 L351.6,221.2 L352.6,221.2 L353.6,221.2 L354.6,221.2 L355.6,221.2 L356.6,221.2 L357.6,221.2 L358.6,221.2 L359.6,221.2 L360.6,221.2 L361.6,221.2 L362.6,221.2 L363.6,221.2 L364.6,221.2 L365.6,221.2 L366.6,221.2 L367.6,221.2 L368.6,221.2 L369.6,221.2 L370.6,221.2 L371.6,221.2 L372.6,221.1 L373.6,221.1 L374.6,221.1 L375.6,221.1 L376.6,221.1 L377.6,221.0 L378.6,221.0 L379.6,221.0 L380.6,220.9 L381.6,220.9 L382.6,220.9 L383.6,220.8 L384.6,220.8 L385.6,220.7 L386.6,220.7 L387.6,220.6 L388.6,220.6 L389.6,220.5 L390.6,220.4 L391.6,220.4 L392.6,220.3 L393.6,220.2 L394.6,220.1 L395.6,220.0 L396.6,219.8 L397.6,219.7 L398.6,219.6 L399.6,219.4 L400.6,219.2 L401.6,219.0 L402.6,218.8 L403.6,218.6 L404.6,218.3 L405.6,218.0 L406.6,217.6 L407.6,217.2 L408.6,216.7 L409.6,216.2 L410.6,215.5 L411.6,214.8 L412.6,214.0 L413.6,213.1 L414.6,212.0 L415.6,210.8 L416.6,209.4 L417.6,207.9 L418.6,206.2 L419.6,204.3 L420.6,202.3 L421.6,200.0 L422.6,197.6 L423.6,195.1 L424.6,192.5 L425.6,189.8 L426.6,187.1 L427.6,184.5 L428.6,182.1 L429.6,180.1 L430.6,178.5 L431.6,177.6 L432.6,177.2 L433.6,177.6 L434.6,178.6 L435.6,180.2 L436.6,182.3 L437.6,184.7 L438.6,187.3 L439.6,190.0 L440.6,192.7 L441.6,195.4 L442.6,198.0 L443.6,200.4 L444.6,202.7 L445.6,204.8 L446.6,206.7 L447.6,208.4 L448.6,210.0 L449.6,211.4 L450.6,212.6 L451.6,213.7 L452.6,214.7 L453.6,215.6 L454.6,216.3 L455.6,217.0 L456.6,217.5 L457.6,218.1 L458.6,218.5 L459.6,218.9 L460.6,219.3 L461.6,219.6 L462.6,219.9 L463.6,220.1 L464.6,220.3 L465.6,220.6 L466.6,220.8 L467.6,220.9 L468.6,221.1 L469.6,221.3 L470.6,221.4 L471.6,221.5 L472.6,221.7 L473.6,221.8 L474.6,221.9 L475.6,222.0 L476.6,222.1 L477.6,222.2 L478.6,222.3 L479.6,222.4 L480.6,222.5 L481.6,222.5 L482.6,222.6 L483.6,222.7 L484.6,222.8 L485.6,222.8 L486.6,222.9 L487.6,222.9 L488.6,223.0 L489.6,223.1 L490.6,223.1 L491.6,223.2 L492.6,223.2 L493.6,223.3 L494.6,223.3 L495.6,223.4 L496.6,223.4 L497.6,223.5 L498.6,223.5 L499.6,223.6 L500.6,223.6 L501.6,223.6 L502.6,223.7 L503.6,223.7 L504.6,223.7 L505.6,223.8 L506.6,223.8 L507.6,223.9 L508.6,223.9 L509.6,223.9 L510.6,224.0 L511.6,224.0 L512.6,224.0 L513.6,224.1 L514.6,224.1 L515.6,224.1 L516.6,224.1 L517.6,224.2 L518.6,224.2 L519.6,224.2 L520.6,224.3 L521.6,224.3 L522.6,224.3 L523.6,224.4 L524.6,224.4 L525.6,224.4 L526.6,224.4 L527.6,224.5 L528.6,224.5 L529.6,224.5 L530.6,224.5 L531.6,224.6 L532.6,224.6 L533.6,224.6 L534.6,224.6 L535.6,224.7 L536.6,224.7 L537.6,224.7 L538.6,224.7 L539.6,224.8 L540.6,224.8 L541.6,224.8 L542.6,224.8 L543.6,224.9 L544.6,224.9 L545.6,224.9 L546.6,224.9 L547.6,224.9 L548.6,225.0 L549.6,225.0 L550.6,225.0 L551.6,225.0 L552.6,225.1 L553.6,225.1 L554.6,225.1 L555.6,225.1 L556.6,225.1 L557.6,225.2 L558.6,225.2 L559.6,225.2 L560.6,225.2 L561.6,225.2 L562.6,225.3 L563.6,225.3 L564.6,225.3 L565.6,225.3 L566.6,225.3 L567.6,225.4 L568.6,225.4 L569.6,225.4 L570.6,225.4 L571.6,225.5 L572.6,225.5 L573.6,225.5 L574.6,225.5 L575.6,225.5 L576.6,225.6 L577.6,225.6 L578.6,225.6 L579.6,225.6 L580.6,225.6 L581.6,225.7 L582.6,225.7 L583.6,225.7 L584.6,225.7 L585.6,225.7 L586.6,225.7 L587.6,225.8 L588.6,225.8 L589.6,225.8 L590.6,225.8 L591.6,225.8 L592.6,225.9 L593.6,225.9" fill="none" stroke="#ff0000" stroke-width="3.3" stroke-linejoin="round"/>
<ellipse cx="211" cy="62.6" rx="2.6" ry="1.7" fill="#000"/>
<path d="M45.6,403.5 L46.6,403.5 L47.6,403.5 L48.6,403.4 L49.6,403.4 L50.6,403.4 L51.6,403.4 L52.6,403.3 L53.6,403.3 L54.6,403.3 L55.6,403.2 L56.6,403.2 L57.6,403.2 L58.6,403.1 L59.6,403.1 L60.6,403.0 L61.6,403.0 L62.6,402.9 L63.6,402.9 L64.6,402.8 L65.6,402.8 L66.6,402.7 L67.6,402.7 L68.6,402.6 L69.6,402.5 L70.6,402.5 L71.6,402.4 L72.6,402.4 L73.6,402.3 L74.6,402.2 L75.6,402.1 L76.6,402.1 L77.6,402.0 L78.6,401.9 L79.6,401.8 L80.6,401.8 L81.6,401.7 L82.6,401.6 L83.6,401.5 L84.6,401.4 L85.6,401.3 L86.6,401.3 L87.6,401.2 L88.6,401.1 L89.6,401.0 L90.6,400.9 L91.6,400.8 L92.6,400.7 L93.6,400.6 L94.6,400.5 L95.6,400.4 L96.6,400.2 L97.6,400.1 L98.6,400.0 L99.6,399.9 L100.6,399.8 L101.6,399.7 L102.6,399.5 L103.6,399.4 L104.6,399.3 L105.6,399.1 L106.6,399.0 L107.6,398.9 L108.6,398.7 L109.6,398.6 L110.6,398.4 L111.6,398.3 L112.6,398.1 L113.6,398.0 L114.6,397.8 L115.6,397.6 L116.6,397.5 L117.6,397.3 L118.6,397.1 L119.6,396.9 L120.6,396.7 L121.6,396.5 L122.6,396.3 L123.6,396.1 L124.6,395.9 L125.6,395.7 L126.6,395.5 L127.6,395.2 L128.6,395.0 L129.6,394.8 L130.6,394.5 L131.6,394.2 L132.6,394.0 L133.6,393.7 L134.6,393.4 L135.6,393.1 L136.6,392.8 L137.6,392.5 L138.6,392.1 L139.6,391.8 L140.6,391.4 L141.6,391.1 L142.6,390.7 L143.6,390.3 L144.6,389.9 L145.6,389.4 L146.6,389.0 L147.6,388.5 L148.6,388.0 L149.6,387.5 L150.6,387.0 L151.6,386.5 L152.6,385.9 L153.6,385.3 L154.6,384.7 L155.6,384.0 L156.6,383.3 L157.6,382.6 L158.6,381.9 L159.6,381.1 L160.6,380.3 L161.6,379.5 L162.6,378.6 L163.6,377.6 L164.6,376.7 L165.6,375.6 L166.6,374.6 L167.6,373.4 L168.6,372.3 L169.6,371.0 L170.6,369.7 L171.6,368.3 L172.6,366.9 L173.6,365.4 L174.6,363.8 L175.6,362.1 L176.6,360.3 L177.6,358.5 L178.6,356.5 L179.6,354.4 L180.6,352.3 L181.6,350.0 L182.6,347.6 L183.6,345.1 L184.6,342.4 L185.6,339.7 L186.6,336.8 L187.6,333.7 L188.6,330.6 L189.6,327.3 L190.6,323.8 L191.6,320.3 L192.6,316.6 L193.6,312.8 L194.6,308.9 L195.6,305.0 L196.6,301.0 L197.6,296.9 L198.6,292.9 L199.6,288.9 L200.6,285.0 L201.6,281.2 L202.6,277.7 L203.6,274.3 L204.6,271.2 L205.6,268.5 L206.6,266.1 L207.6,264.2 L208.6,262.8 L209.6,261.8 L210.6,261.4 L211.6,261.5 L212.6,262.2 L213.6,263.3 L214.6,265.0 L215.6,267.1 L216.6,269.6 L217.6,272.5 L218.6,275.7 L219.6,279.2 L220.6,282.9 L221.6,286.8 L222.6,290.7 L223.6,294.8 L224.6,298.8 L225.6,302.8 L226.6,306.9 L227.6,310.8 L228.6,314.7 L229.6,318.4 L230.6,322.1 L231.6,325.6 L232.6,329.0 L233.6,332.2 L234.6,335.4 L235.6,338.4 L236.6,341.2 L237.6,344.0 L238.6,346.6 L239.6,349.1 L240.6,351.4 L241.6,353.7 L242.6,355.8 L243.6,357.9 L244.6,359.8 L245.6,361.6 L246.6,363.4 L247.6,365.1 L248.6,366.6 L249.6,368.1 L250.6,369.6 L251.6,370.9 L252.6,372.2 L253.6,373.4 L254.6,374.6 L255.6,375.7 L256.6,376.8 L257.6,377.8 L258.6,378.7 L259.6,379.7 L260.6,380.5 L261.6,381.3 L262.6,382.1 L263.6,382.8 L264.6,383.5 L265.6,384.2 L266.6,384.8 L267.6,385.3 L268.6,385.9 L269.6,386.4 L270.6,386.8 L271.6,387.3 L272.6,387.7 L273.6,388.0 L274.6,388.4 L275.6,388.7 L276.6,388.9 L277.6,389.2 L278.6,389.4 L279.6,389.6 L280.6,389.8 L281.6,390.0 L282.6,390.1 L283.6,390.3 L284.6,390.4 L285.6,390.5 L286.6,390.6 L287.6,390.7 L288.6,390.8 L289.6,390.9 L290.6,391.0 L291.6,391.1 L292.6,391.2 L293.6,391.2 L294.6,391.3 L295.6,391.4 L296.6,391.5 L297.6,391.6 L298.6,391.7 L299.6,391.8 L300.6,391.9 L301.6,392.0 L302.6,392.1 L303.6,392.2 L304.6,392.3 L305.6,392.4 L306.6,392.5 L307.6,392.6 L308.6,392.7 L309.6,392.8 L310.6,392.9 L311.6,393.0 L312.6,393.1 L313.6,393.1 L314.6,393.2 L315.6,393.3 L316.6,393.4 L317.6,393.5 L318.6,393.6 L319.6,393.6 L320.6,393.7 L321.6,393.8 L322.6,393.8 L323.6,393.9 L324.6,393.9 L325.6,394.0 L326.6,394.0 L327.6,394.1 L328.6,394.1 L329.6,394.1 L330.6,394.2 L331.6,394.2 L332.6,394.2 L333.6,394.2 L334.6,394.2 L335.6,394.2 L336.6,394.2 L337.6,394.2 L338.6,394.2 L339.6,394.2 L340.6,394.2 L341.6,394.2 L342.6,394.2 L343.6,394.2 L344.6,394.1 L345.6,394.1 L346.6,394.1 L347.6,394.1 L348.6,394.0 L349.6,394.0 L350.6,394.0 L351.6,393.9 L352.6,393.9 L353.6,393.8 L354.6,393.8 L355.6,393.7 L356.6,393.6 L357.6,393.6 L358.6,393.5 L359.6,393.4 L360.6,393.3 L361.6,393.1 L362.6,393.0 L363.6,392.8 L364.6,392.6 L365.6,392.3 L366.6,392.0 L367.6,391.7 L368.6,391.3 L369.6,390.9 L370.6,390.4 L371.6,389.8 L372.6,389.2 L373.6,388.4 L374.6,387.6 L375.6,386.7 L376.6,385.7 L377.6,384.6 L378.6,383.3 L379.6,382.0 L380.6,380.5 L381.6,378.9 L382.6,377.1 L383.6,375.3 L384.6,373.3 L385.6,371.1 L386.6,368.8 L387.6,366.4 L388.6,363.9 L389.6,361.2 L390.6,358.5 L391.6,355.6 L392.6,352.6 L393.6,349.6 L394.6,346.4 L395.6,343.3 L396.6,340.1 L397.6,337.0 L398.6,333.9 L399.6,330.8 L400.6,327.9 L401.6,325.2 L402.6,322.7 L403.6,320.4 L404.6,318.5 L405.6,316.8 L406.6,315.6 L407.6,314.8 L408.6,314.4 L409.6,314.4 L410.6,314.8 L411.6,315.6 L412.6,316.7 L413.6,318.2 L414.6,319.8 L415.6,321.7 L416.6,323.7 L417.6,325.7 L418.6,327.7 L419.6,329.6 L420.6,331.4 L421.6,332.9 L422.6,334.1 L423.6,335.0 L424.6,335.6 L425.6,335.7 L426.6,335.5 L427.6,334.8 L428.6,333.8 L429.6,332.5 L430.6,331.1 L431.6,329.6 L432.6,328.4 L433.6,327.7 L434.6,327.8 L435.6,328.9 L436.6,331.1 L437.6,334.4 L438.6,338.7 L439.6,343.5 L440.6,348.7 L441.6,353.9 L442.6,359.0 L443.6,363.8 L444.6,368.3 L445.6,372.4 L446.6,376.2 L447.6,379.5 L448.6,382.4 L449.6,385.0 L450.6,387.3 L451.6,389.2 L452.6,390.9 L453.6,392.4 L454.6,393.7 L455.6,394.8 L456.6,395.8 L457.6,396.7 L458.6,397.5 L459.6,398.2 L460.6,398.8 L461.6,399.3 L462.6,399.9 L463.6,400.3 L464.6,400.8 L465.6,401.2 L466.6,401.5 L467.6,401.9 L468.6,402.2 L469.6,402.5 L470.6,402.8 L471.6,403.1 L472.6,403.4 L473.6,403.6 L474.6,403.8 L475.6,404.0 L476.6,404.3 L477.6,404.5 L478.6,404.6 L479.6,404.8 L480.6,405.0 L481.6,405.2 L482.6,405.3 L483.6,405.5 L484.6,405.6 L485.6,405.8 L486.6,405.9 L487.6,406.0 L488.6,406.2 L489.6,406.3 L490.6,406.4 L491.6,406.5 L492.6,406.6 L493.6,406.7 L494.6,406.8 L495.6,407.0 L496.6,407.0 L497.6,407.1 L498.6,407.2 L499.6,407.3 L500.6,407.4 L501.6,407.5 L502.6,407.6 L503.6,407.7 L504.6,407.7 L505.6,407.8 L506.6,407.9 L507.6,408.0 L508.6,408.0 L509.6,408.1 L510.6,408.2 L511.6,408.2 L512.6,408.3 L513.6,408.4 L514.6,408.4 L515.6,408.5 L516.6,408.6 L517.6,408.6 L518.6,408.7 L519.6,408.7 L520.6,408.8 L521.6,408.8 L522.6,408.9 L523.6,408.9 L524.6,409.0 L525.6,409.0 L526.6,409.1 L527.6,409.1 L528.6,409.2 L529.6,409.2 L530.6,409.3 L531.6,409.3 L532.6,409.4 L533.6,409.4 L534.6,409.5 L535.6,409.5 L536.6,409.5 L537.6,409.6 L538.6,409.6 L539.6,409.7 L540.6,409.7 L541.6,409.7 L542.6,409.8 L543.6,409.8 L544.6,409.9 L545.6,409.9 L546.6,409.9 L547.6,410.0 L548.6,410.0 L549.6,410.0 L550.6,410.1 L551.6,410.1 L552.6,410.1 L553.6,410.2 L554.6,410.2 L555.6,410.2 L556.6,410.3 L557.6,410.3 L558.6,410.3 L559.6,410.4 L560.6,410.4 L561.6,410.4 L562.6,410.5 L563.6,410.5 L564.6,410.5 L565.6,410.6 L566.6,410.6 L567.6,410.6 L568.6,410.7 L569.6,410.7 L570.6,410.7 L571.6,410.7 L572.6,410.8 L573.6,410.8 L574.6,410.8 L575.6,410.9 L576.6,410.9 L577.6,410.9 L578.6,410.9 L579.6,411.0 L580.6,411.0 L581.6,411.0 L582.6,411.0 L583.6,411.1 L584.6,411.1 L585.6,411.1 L586.6,411.2 L587.6,411.2 L588.6,411.2 L589.6,411.2 L590.6,411.3 L591.6,411.3 L592.6,411.3 L593.6,411.3" fill="none" stroke="#000" stroke-width="3.2" stroke-dasharray="8 6" stroke-linejoin="round"/>
<path d="M45.6,401.5 L46.6,401.5 L47.6,401.4 L48.6,401.4 L49.6,401.4 L50.6,401.4 L51.6,401.4 L52.6,401.3 L53.6,401.3 L54.6,401.3 L55.6,401.3 L56.6,401.2 L57.6,401.2 L58.6,401.2 L59.6,401.1 L60.6,401.1 L61.6,401.1 L62.6,401.0 L63.6,401.0 L64.6,401.0 L65.6,400.9 L66.6,400.9 L67.6,400.9 L68.6,400.8 L69.6,400.8 L70.6,400.8 L71.6,400.7 L72.6,400.7 L73.6,400.6 L74.6,400.6 L75.6,400.5 L76.6,400.5 L77.6,400.4 L78.6,400.4 L79.6,400.3 L80.6,400.3 L81.6,400.2 L82.6,400.2 L83.6,400.1 L84.6,400.1 L85.6,400.0 L86.6,399.9 L87.6,399.9 L88.6,399.8 L89.6,399.7 L90.6,399.7 L91.6,399.6 L92.6,399.5 L93.6,399.4 L94.6,399.4 L95.6,399.3 L96.6,399.2 L97.6,399.1 L98.6,399.0 L99.6,398.9 L100.6,398.8 L101.6,398.7 L102.6,398.6 L103.6,398.5 L104.6,398.4 L105.6,398.3 L106.6,398.2 L107.6,398.1 L108.6,398.0 L109.6,397.9 L110.6,397.7 L111.6,397.6 L112.6,397.5 L113.6,397.3 L114.6,397.2 L115.6,397.1 L116.6,396.9 L117.6,396.7 L118.6,396.6 L119.6,396.4 L120.6,396.2 L121.6,396.1 L122.6,395.9 L123.6,395.7 L124.6,395.5 L125.6,395.3 L126.6,395.1 L127.6,394.9 L128.6,394.6 L129.6,394.4 L130.6,394.2 L131.6,393.9 L132.6,393.6 L133.6,393.4 L134.6,393.1 L135.6,392.8 L136.6,392.5 L137.6,392.2 L138.6,391.8 L139.6,391.5 L140.6,391.2 L141.6,390.8 L142.6,390.4 L143.6,390.0 L144.6,389.6 L145.6,389.1 L146.6,388.7 L147.6,388.2 L148.6,387.7 L149.6,387.2 L150.6,386.6 L151.6,386.1 L152.6,385.5 L153.6,384.8 L154.6,384.2 L155.6,383.5 L156.6,382.8 L157.6,382.0 L158.6,381.2 L159.6,380.4 L160.6,379.5 L161.6,378.5 L162.6,377.6 L163.6,376.5 L164.6,375.5 L165.6,374.3 L166.6,373.1 L167.6,371.8 L168.6,370.5 L169.6,369.1 L170.6,367.6 L171.6,366.1 L172.6,364.5 L173.6,362.7 L174.6,360.9 L175.6,359.0 L176.6,357.1 L177.6,355.0 L178.6,352.8 L179.6,350.5 L180.6,348.1 L181.6,345.6 L182.6,342.9 L183.6,340.2 L184.6,337.3 L185.6,334.3 L186.6,331.2 L187.6,328.0 L188.6,324.7 L189.6,321.3 L190.6,317.8 L191.6,314.1 L192.6,310.4 L193.6,306.7 L194.6,302.8 L195.6,299.0 L196.6,295.1 L197.6,291.3 L198.6,287.5 L199.6,283.8 L200.6,280.3 L201.6,276.9 L202.6,273.7 L203.6,270.7 L204.6,268.1 L205.6,265.8 L206.6,263.8 L207.6,262.3 L208.6,261.2 L209.6,260.5 L210.6,260.4 L211.6,260.7 L212.6,261.4 L213.6,262.6 L214.6,264.3 L215.6,266.3 L216.6,268.7 L217.6,271.4 L218.6,274.4 L219.6,277.7 L220.6,281.2 L221.6,284.8 L222.6,288.5 L223.6,292.3 L224.6,296.2 L225.6,300.0 L226.6,303.9 L227.6,307.7 L228.6,311.5 L229.6,315.2 L230.6,318.8 L231.6,322.4 L232.6,325.8 L233.6,329.1 L234.6,332.3 L235.6,335.4 L236.6,338.4 L237.6,341.2 L238.6,344.0 L239.6,346.6 L240.6,349.1 L241.6,351.5 L242.6,353.8 L243.6,356.0 L244.6,358.1 L245.6,360.1 L246.6,361.9 L247.6,363.7 L248.6,365.5 L249.6,367.1 L250.6,368.6 L251.6,370.1 L252.6,371.5 L253.6,372.9 L254.6,374.1 L255.6,375.3 L256.6,376.5 L257.6,377.6 L258.6,378.6 L259.6,379.6 L260.6,380.5 L261.6,381.4 L262.6,382.2 L263.6,383.1 L264.6,383.8 L265.6,384.5 L266.6,385.2 L267.6,385.9 L268.6,386.5 L269.6,387.1 L270.6,387.7 L271.6,388.3 L272.6,388.8 L273.6,389.3 L274.6,389.8 L275.6,390.3 L276.6,390.7 L277.6,391.1 L278.6,391.5 L279.6,391.9 L280.6,392.3 L281.6,392.7 L282.6,393.0 L283.6,393.3 L284.6,393.6 L285.6,394.0 L286.6,394.3 L287.6,394.5 L288.6,394.8 L289.6,395.1 L290.6,395.3 L291.6,395.6 L292.6,395.8 L293.6,396.0 L294.6,396.2 L295.6,396.5 L296.6,396.7 L297.6,396.8 L298.6,397.0 L299.6,397.2 L300.6,397.4 L301.6,397.6 L302.6,397.7 L303.6,397.9 L304.6,398.0 L305.6,398.2 L306.6,398.3 L307.6,398.4 L308.6,398.6 L309.6,398.7 L310.6,398.8 L311.6,398.9 L312.6,399.0 L313.6,399.1 L314.6,399.2 L315.6,399.3 L316.6,399.4 L317.6,399.5 L318.6,399.5 L319.6,399.6 L320.6,399.7 L321.6,399.7 L322.6,399.8 L323.6,399.8 L324.6,399.9 L325.6,399.9 L326.6,400.0 L327.6,400.0 L328.6,400.0 L329.6,400.1 L330.6,400.1 L331.6,400.1 L332.6,400.1 L333.6,400.1 L334.6,400.1 L335.6,400.1 L336.6,400.1 L337.6,400.1 L338.6,400.0 L339.6,400.0 L340.6,400.0 L341.6,399.9 L342.6,399.9 L343.6,399.8 L344.6,399.8 L345.6,399.7 L346.6,399.6 L347.6,399.5 L348.6,399.4 L349.6,399.3 L350.6,399.2 L351.6,399.1 L352.6,398.9 L353.6,398.7 L354.6,398.6 L355.6,398.4 L356.6,398.2 L357.6,397.9 L358.6,397.7 L359.6,397.4 L360.6,397.0 L361.6,396.7 L362.6,396.3 L363.6,395.9 L364.6,395.4 L365.6,394.9 L366.6,394.4 L367.6,393.7 L368.6,393.1 L369.6,392.3 L370.6,391.5 L371.6,390.6 L372.6,389.7 L373.6,388.6 L374.6,387.5 L375.6,386.2 L376.6,384.9 L377.6,383.5 L378.6,381.9 L379.6,380.2 L380.6,378.4 L381.6,376.5 L382.6,374.5 L383.6,372.3 L384.6,370.0 L385.6,367.6 L386.6,365.1 L387.6,362.4 L388.6,359.7 L389.6,356.8 L390.6,353.8 L391.6,350.8 L392.6,347.7 L393.6,344.5 L394.6,341.4 L395.6,338.2 L396.6,335.0 L397.6,332.0 L398.6,329.0 L399.6,326.2 L400.6,323.6 L401.6,321.2 L402.6,319.2 L403.6,317.4 L404.6,316.0 L405.6,315.0 L406.6,314.4 L407.6,314.3 L408.6,314.5 L409.6,315.2 L410.6,316.2 L411.6,317.5 L412.6,319.1 L413.6,320.9 L414.6,322.8 L415.6,324.9 L416.6,326.9 L417.6,328.8 L418.6,330.6 L419.6,332.3 L420.6,333.6 L421.6,334.7 L422.6,335.3 L423.6,335.7 L424.6,335.6 L425.6,335.1 L426.6,334.2 L427.6,333.0 L428.6,331.6 L429.6,330.1 L430.6,328.8 L431.6,327.8 L432.6,327.6 L433.6,328.3 L434.6,330.0 L435.6,333.0 L436.6,336.8 L437.6,341.5 L438.6,346.5 L439.6,351.7 L440.6,356.9 L441.6,361.9 L442.6,366.5 L443.6,370.8 L444.6,374.7 L445.6,378.2 L446.6,381.2 L447.6,384.0 L448.6,386.4 L449.6,388.4 L450.6,390.2 L451.6,391.8 L452.6,393.2 L453.6,394.4 L454.6,395.4 L455.6,396.3 L456.6,397.1 L457.6,397.9 L458.6,398.5 L459.6,399.1 L460.6,399.6 L461.6,400.1 L462.6,400.6 L463.6,401.0 L464.6,401.4 L465.6,401.7 L466.6,402.1 L467.6,402.4 L468.6,402.7 L469.6,402.9 L470.6,403.2 L471.6,403.5 L472.6,403.7 L473.6,403.9 L474.6,404.1 L475.6,404.3 L476.6,404.5 L477.6,404.7 L478.6,404.9 L479.6,405.1 L480.6,405.2 L481.6,405.4 L482.6,405.5 L483.6,405.7 L484.6,405.8 L485.6,406.0 L486.6,406.1 L487.6,406.2 L488.6,406.3 L489.6,406.4 L490.6,406.6 L491.6,406.7 L492.6,406.8 L493.6,406.9 L494.6,407.0 L495.6,407.1 L496.6,407.2 L497.6,407.3 L498.6,407.3 L499.6,407.4 L500.6,407.5 L501.6,407.6 L502.6,407.7 L503.6,407.8 L504.6,407.8 L505.6,407.9 L506.6,408.0 L507.6,408.0 L508.6,408.1 L509.6,408.2 L510.6,408.2 L511.6,408.3 L512.6,408.4 L513.6,408.4 L514.6,408.5 L515.6,408.6 L516.6,408.6 L517.6,408.7 L518.6,408.7 L519.6,408.8 L520.6,408.8 L521.6,408.9 L522.6,408.9 L523.6,409.0 L524.6,409.0 L525.6,409.1 L526.6,409.1 L527.6,409.2 L528.6,409.2 L529.6,409.3 L530.6,409.3 L531.6,409.4 L532.6,409.4 L533.6,409.5 L534.6,409.5 L535.6,409.5 L536.6,409.6 L537.6,409.6 L538.6,409.7 L539.6,409.7 L540.6,409.7 L541.6,409.8 L542.6,409.8 L543.6,409.9 L544.6,409.9 L545.6,409.9 L546.6,410.0 L547.6,410.0 L548.6,410.0 L549.6,410.1 L550.6,410.1 L551.6,410.1 L552.6,410.2 L553.6,410.2 L554.6,410.2 L555.6,410.3 L556.6,410.3 L557.6,410.3 L558.6,410.4 L559.6,410.4 L560.6,410.4 L561.6,410.5 L562.6,410.5 L563.6,410.5 L564.6,410.6 L565.6,410.6 L566.6,410.6 L567.6,410.6 L568.6,410.7 L569.6,410.7 L570.6,410.7 L571.6,410.8 L572.6,410.8 L573.6,410.8 L574.6,410.8 L575.6,410.9 L576.6,410.9 L577.6,410.9 L578.6,411.0 L579.6,411.0 L580.6,411.0 L581.6,411.0 L582.6,411.1 L583.6,411.1 L584.6,411.1 L585.6,411.1 L586.6,411.2 L587.6,411.2 L588.6,411.2 L589.6,411.2 L590.6,411.3 L591.6,411.3 L592.6,411.3 L593.6,411.3" fill="none" stroke="#000" stroke-width="3.3" stroke-linejoin="round"/>
<path d="M45.6,401.6 L46.6,401.6 L47.6,401.6 L48.6,401.6 L49.6,401.6 L50.6,401.5 L51.6,401.5 L52.6,401.5 L53.6,401.5 L54.6,401.5 L55.6,401.4 L56.6,401.4 L57.6,401.4 L58.6,401.3 L59.6,401.3 L60.6,401.3 L61.6,401.3 L62.6,401.2 L63.6,401.2 L64.6,401.2 L65.6,401.1 L66.6,401.1 L67.6,401.1 L68.6,401.0 L69.6,401.0 L70.6,400.9 L71.6,400.9 L72.6,400.9 L73.6,400.8 L74.6,400.8 L75.6,400.7 L76.6,400.7 L77.6,400.6 L78.6,400.6 L79.6,400.5 L80.6,400.5 L81.6,400.4 L82.6,400.4 L83.6,400.3 L84.6,400.3 L85.6,400.2 L86.6,400.1 L87.6,400.1 L88.6,400.0 L89.6,399.9 L90.6,399.9 L91.6,399.8 L92.6,399.7 L93.6,399.7 L94.6,399.6 L95.6,399.5 L96.6,399.4 L97.6,399.3 L98.6,399.3 L99.6,399.2 L100.6,399.1 L101.6,399.0 L102.6,398.9 L103.6,398.8 L104.6,398.7 L105.6,398.6 L106.6,398.5 L107.6,398.3 L108.6,398.2 L109.6,398.1 L110.6,398.0 L111.6,397.9 L112.6,397.7 L113.6,397.6 L114.6,397.4 L115.6,397.3 L116.6,397.2 L117.6,397.0 L118.6,396.8 L119.6,396.7 L120.6,396.5 L121.6,396.3 L122.6,396.1 L123.6,396.0 L124.6,395.8 L125.6,395.6 L126.6,395.3 L127.6,395.1 L128.6,394.9 L129.6,394.7 L130.6,394.4 L131.6,394.2 L132.6,393.9 L133.6,393.7 L134.6,393.4 L135.6,393.1 L136.6,392.8 L137.6,392.5 L138.6,392.1 L139.6,391.8 L140.6,391.5 L141.6,391.1 L142.6,390.7 L143.6,390.3 L144.6,389.9 L145.6,389.5 L146.6,389.0 L147.6,388.5 L148.6,388.0 L149.6,387.5 L150.6,387.0 L151.6,386.4 L152.6,385.8 L153.6,385.2 L154.6,384.5 L155.6,383.8 L156.6,383.1 L157.6,382.3 L158.6,381.5 L159.6,380.7 L160.6,379.8 L161.6,378.9 L162.6,377.9 L163.6,376.9 L164.6,375.8 L165.6,374.7 L166.6,373.5 L167.6,372.2 L168.6,370.9 L169.6,369.5 L170.6,368.0 L171.6,366.5 L172.6,364.8 L173.6,363.1 L174.6,361.3 L175.6,359.4 L176.6,357.5 L177.6,355.4 L178.6,353.2 L179.6,350.9 L180.6,348.5 L181.6,346.0 L182.6,343.3 L183.6,340.6 L184.6,337.7 L185.6,334.8 L186.6,331.7 L187.6,328.5 L188.6,325.2 L189.6,321.7 L190.6,318.2 L191.6,314.6 L192.6,310.9 L193.6,307.1 L194.6,303.3 L195.6,299.5 L196.6,295.6 L197.6,291.8 L198.6,288.0 L199.6,284.3 L200.6,280.8 L201.6,277.4 L202.6,274.2 L203.6,271.2 L204.6,268.6 L205.6,266.3 L206.6,264.4 L207.6,262.8 L208.6,261.7 L209.6,261.1 L210.6,260.9 L211.6,261.2 L212.6,262.0 L213.6,263.2 L214.6,264.8 L215.6,266.9 L216.6,269.3 L217.6,272.0 L218.6,275.0 L219.6,278.3 L220.6,281.8 L221.6,285.4 L222.6,289.1 L223.6,292.9 L224.6,296.8 L225.6,300.7 L226.6,304.5 L227.6,308.4 L228.6,312.2 L229.6,315.9 L230.6,319.5 L231.6,323.0 L232.6,326.5 L233.6,329.8 L234.6,333.0 L235.6,336.1 L236.6,339.1 L237.6,342.0 L238.6,344.7 L239.6,347.3 L240.6,349.9 L241.6,352.3 L242.6,354.6 L243.6,356.8 L244.6,358.9 L245.6,360.9 L246.6,362.8 L247.6,364.6 L248.6,366.3 L249.6,367.9 L250.6,369.5 L251.6,371.0 L252.6,372.4 L253.6,373.7 L254.6,375.0 L255.6,376.2 L256.6,377.4 L257.6,378.5 L258.6,379.5 L259.6,380.5 L260.6,381.5 L261.6,382.4 L262.6,383.2 L263.6,384.1 L264.6,384.8 L265.6,385.6 L266.6,386.3 L267.6,387.0 L268.6,387.6 L269.6,388.2 L270.6,388.8 L271.6,389.4 L272.6,389.9 L273.6,390.5 L274.6,391.0 L275.6,391.5 L276.6,391.9 L277.6,392.4 L278.6,392.8 L279.6,393.2 L280.6,393.6 L281.6,394.0 L282.6,394.3 L283.6,394.7 L284.6,395.0 L285.6,395.3 L286.6,395.7 L287.6,396.0 L288.6,396.3 L289.6,396.6 L290.6,396.8 L291.6,397.1 L292.6,397.4 L293.6,397.6 L294.6,397.9 L295.6,398.1 L296.6,398.3 L297.6,398.5 L298.6,398.8 L299.6,399.0 L300.6,399.2 L301.6,399.4 L302.6,399.6 L303.6,399.8 L304.6,399.9 L305.6,400.1 L306.6,400.3 L307.6,400.5 L308.6,400.6 L309.6,400.8 L310.6,400.9 L311.6,401.1 L312.6,401.3 L313.6,401.4 L314.6,401.5 L315.6,401.7 L316.6,401.8 L317.6,401.9 L318.6,402.1 L319.6,402.2 L320.6,402.3 L321.6,402.4 L322.6,402.6 L323.6,402.7 L324.6,402.8 L325.6,402.9 L326.6,403.0 L327.6,403.1 L328.6,403.2 L329.6,403.3 L330.6,403.4 L331.6,403.5 L332.6,403.6 L333.6,403.7 L334.6,403.8 L335.6,403.9 L336.6,404.0 L337.6,404.1 L338.6,404.1 L339.6,404.2 L340.6,404.3 L341.6,404.4 L342.6,404.5 L343.6,404.6 L344.6,404.6 L345.6,404.7 L346.6,404.8 L347.6,404.9 L348.6,404.9 L349.6,405.0 L350.6,405.1 L351.6,405.1 L352.6,405.2 L353.6,405.3 L354.6,405.3 L355.6,405.4 L356.6,405.5 L357.6,405.5 L358.6,405.6 L359.6,405.6 L360.6,405.7 L361.6,405.8 L362.6,405.8 L363.6,405.9 L364.6,405.9 L365.6,406.0 L366.6,406.0 L367.6,406.1 L368.6,406.1 L369.6,406.2 L370.6,406.2 L371.6,406.3 L372.6,406.4 L373.6,406.4 L374.6,406.4 L375.6,406.5 L376.6,406.5 L377.6,406.6 L378.6,406.6 L379.6,406.7 L380.6,406.7 L381.6,406.8 L382.6,406.8 L383.6,406.9 L384.6,406.9 L385.6,407.0 L386.6,407.0 L387.6,407.0 L388.6,407.1 L389.6,407.1 L390.6,407.2 L391.6,407.2 L392.6,407.2 L393.6,407.3 L394.6,407.3 L395.6,407.4 L396.6,407.4 L397.6,407.4 L398.6,407.5 L399.6,407.5 L400.6,407.5 L401.6,407.6 L402.6,407.6 L403.6,407.7 L404.6,407.7 L405.6,407.7 L406.6,407.8 L407.6,407.8 L408.6,407.8 L409.6,407.9 L410.6,407.9 L411.6,407.9 L412.6,408.0 L413.6,408.0 L414.6,408.0 L415.6,408.1 L416.6,408.1 L417.6,408.1 L418.6,408.2 L419.6,408.2 L420.6,408.2 L421.6,408.3 L422.6,408.3 L423.6,408.3 L424.6,408.4 L425.6,408.4 L426.6,408.4 L427.6,408.4 L428.6,408.5 L429.6,408.5 L430.6,408.5 L431.6,408.6 L432.6,408.6 L433.6,408.6 L434.6,408.6 L435.6,408.7 L436.6,408.7 L437.6,408.7 L438.6,408.8 L439.6,408.8 L440.6,408.8 L441.6,408.8 L442.6,408.9 L443.6,408.9 L444.6,408.9 L445.6,408.9 L446.6,409.0 L447.6,409.0 L448.6,409.0 L449.6,409.1 L450.6,409.1 L451.6,409.1 L452.6,409.1 L453.6,409.2 L454.6,409.2 L455.6,409.2 L456.6,409.2 L457.6,409.3 L458.6,409.3 L459.6,409.3 L460.6,409.3 L461.6,409.4 L462.6,409.4 L463.6,409.4 L464.6,409.4 L465.6,409.4 L466.6,409.5 L467.6,409.5 L468.6,409.5 L469.6,409.5 L470.6,409.6 L471.6,409.6 L472.6,409.6 L473.6,409.6 L474.6,409.7 L475.6,409.7 L476.6,409.7 L477.6,409.7 L478.6,409.8 L479.6,409.8 L480.6,409.8 L481.6,409.8 L482.6,409.8 L483.6,409.9 L484.6,409.9 L485.6,409.9 L486.6,409.9 L487.6,410.0 L488.6,410.0 L489.6,410.0 L490.6,410.0 L491.6,410.0 L492.6,410.1 L493.6,410.1 L494.6,410.1 L495.6,410.1 L496.6,410.1 L497.6,410.2 L498.6,410.2 L499.6,410.2 L500.6,410.2 L501.6,410.3 L502.6,410.3 L503.6,410.3 L504.6,410.3 L505.6,410.3 L506.6,410.4 L507.6,410.4 L508.6,410.4 L509.6,410.4 L510.6,410.4 L511.6,410.5 L512.6,410.5 L513.6,410.5 L514.6,410.5 L515.6,410.5 L516.6,410.6 L517.6,410.6 L518.6,410.6 L519.6,410.6 L520.6,410.6 L521.6,410.7 L522.6,410.7 L523.6,410.7 L524.6,410.7 L525.6,410.7 L526.6,410.8 L527.6,410.8 L528.6,410.8 L529.6,410.8 L530.6,410.8 L531.6,410.9 L532.6,410.9 L533.6,410.9 L534.6,410.9 L535.6,410.9 L536.6,411.0 L537.6,411.0 L538.6,411.0 L539.6,411.0 L540.6,411.0 L541.6,411.1 L542.6,411.1 L543.6,411.1 L544.6,411.1 L545.6,411.1 L546.6,411.1 L547.6,411.2 L548.6,411.2 L549.6,411.2 L550.6,411.2 L551.6,411.2 L552.6,411.3 L553.6,411.3 L554.6,411.3 L555.6,411.3 L556.6,411.3 L557.6,411.3 L558.6,411.4 L559.6,411.4 L560.6,411.4 L561.6,411.4 L562.6,411.4 L563.6,411.5 L564.6,411.5 L565.6,411.5 L566.6,411.5 L567.6,411.5 L568.6,411.6 L569.6,411.6 L570.6,411.6 L571.6,411.6 L572.6,411.6 L573.6,411.6 L574.6,411.7 L575.6,411.7 L576.6,411.7 L577.6,411.7 L578.6,411.7 L579.6,411.7 L580.6,411.8 L581.6,411.8 L582.6,411.8 L583.6,411.8 L584.6,411.8 L585.6,411.9 L586.6,411.9 L587.6,411.9 L588.6,411.9 L589.6,411.9 L590.6,411.9 L591.6,412.0 L592.6,412.0 L593.6,412.0" fill="none" stroke="#008000" stroke-width="3.3" stroke-linejoin="round"/>
<path d="M45.6,404.3 L46.6,404.4 L47.6,404.4 L48.6,404.4 L49.6,404.4 L50.6,404.4 L51.6,404.4 L52.6,404.4 L53.6,404.5 L54.6,404.5 L55.6,404.5 L56.6,404.5 L57.6,404.5 L58.6,404.5 L59.6,404.5 L60.6,404.5 L61.6,404.6 L62.6,404.6 L63.6,404.6 L64.6,404.6 L65.6,404.6 L66.6,404.6 L67.6,404.6 L68.6,404.7 L69.6,404.7 L70.6,404.7 L71.6,404.7 L72.6,404.7 L73.6,404.7 L74.6,404.7 L75.6,404.8 L76.6,404.8 L77.6,404.8 L78.6,404.8 L79.6,404.8 L80.6,404.8 L81.6,404.8 L82.6,404.8 L83.6,404.9 L84.6,404.9 L85.6,404.9 L86.6,404.9 L87.6,404.9 L88.6,404.9 L89.6,404.9 L90.6,405.0 L91.6,405.0 L92.6,405.0 L93.6,405.0 L94.6,405.0 L95.6,405.0 L96.6,405.0 L97.6,405.0 L98.6,405.1 L99.6,405.1 L100.6,405.1 L101.6,405.1 L102.6,405.1 L103.6,405.1 L104.6,405.1 L105.6,405.2 L106.6,405.2 L107.6,405.2 L108.6,405.2 L109.6,405.2 L110.6,405.2 L111.6,405.2 L112.6,405.2 L113.6,405.3 L114.6,405.3 L115.6,405.3 L116.6,405.3 L117.6,405.3 L118.6,405.3 L119.6,405.3 L120.6,405.4 L121.6,405.4 L122.6,405.4 L123.6,405.4 L124.6,405.4 L125.6,405.4 L126.6,405.4 L127.6,405.4 L128.6,405.5 L129.6,405.5 L130.6,405.5 L131.6,405.5 L132.6,405.5 L133.6,405.5 L134.6,405.5 L135.6,405.5 L136.6,405.6 L137.6,405.6 L138.6,405.6 L139.6,405.6 L140.6,405.6 L141.6,405.6 L142.6,405.6 L143.6,405.7 L144.6,405.7 L145.6,405.7 L146.6,405.7 L147.6,405.7 L148.6,405.7 L149.6,405.7 L150.6,405.7 L151.6,405.8 L152.6,405.8 L153.6,405.8 L154.6,405.8 L155.6,405.8 L156.6,405.8 L157.6,405.8 L158.6,405.8 L159.6,405.8 L160.6,405.9 L161.6,405.9 L162.6,405.9 L163.6,405.9 L164.6,405.9 L165.6,405.9 L166.6,405.9 L167.6,405.9 L168.6,406.0 L169.6,406.0 L170.6,406.0 L171.6,406.0 L172.6,406.0 L173.6,406.0 L174.6,406.0 L175.6,406.0 L176.6,406.1 L177.6,406.1 L178.6,406.1 L179.6,406.1 L180.6,406.1 L181.6,406.1 L182.6,406.1 L183.6,406.1 L184.6,406.1 L185.6,406.2 L186.6,406.2 L187.6,406.2 L188.6,406.2 L189.6,406.2 L190.6,406.2 L191.6,406.2 L192.6,406.2 L193.6,406.2 L194.6,406.3 L195.6,406.3 L196.6,406.3 L197.6,406.3 L198.6,406.3 L199.6,406.3 L200.6,406.3 L201.6,406.3 L202.6,406.3 L203.6,406.3 L204.6,406.4 L205.6,406.4 L206.6,406.4 L207.6,406.4 L208.6,406.4 L209.6,406.4 L210.6,406.4 L211.6,406.4 L212.6,406.4 L213.6,406.4 L214.6,406.5 L215.6,406.5 L216.6,406.5 L217.6,406.5 L218.6,406.5 L219.6,406.5 L220.6,406.5 L221.6,406.5 L222.6,406.5 L223.6,406.5 L224.6,406.5 L225.6,406.6 L226.6,406.6 L227.6,406.6 L228.6,406.6 L229.6,406.6 L230.6,406.6 L231.6,406.6 L232.6,406.6 L233.6,406.6 L234.6,406.6 L235.6,406.6 L236.6,406.6 L237.6,406.6 L238.6,406.7 L239.6,406.7 L240.6,406.7 L241.6,406.7 L242.6,406.7 L243.6,406.7 L244.6,406.7 L245.6,406.7 L246.6,406.7 L247.6,406.7 L248.6,406.7 L249.6,406.7 L250.6,406.7 L251.6,406.7 L252.6,406.7 L253.6,406.7 L254.6,406.7 L255.6,406.7 L256.6,406.8 L257.6,406.8 L258.6,406.8 L259.6,406.8 L260.6,406.8 L261.6,406.8 L262.6,406.8 L263.6,406.8 L264.6,406.8 L265.6,406.8 L266.6,406.8 L267.6,406.8 L268.6,406.8 L269.6,406.8 L270.6,406.8 L271.6,406.8 L272.6,406.8 L273.6,406.8 L274.6,406.8 L275.6,406.8 L276.6,406.8 L277.6,406.8 L278.6,406.8 L279.6,406.8 L280.6,406.8 L281.6,406.8 L282.6,406.8 L283.6,406.8 L284.6,406.7 L285.6,406.7 L286.6,406.7 L287.6,406.7 L288.6,406.7 L289.6,406.7 L290.6,406.7 L291.6,406.7 L292.6,406.7 L293.6,406.7 L294.6,406.7 L295.6,406.7 L296.6,406.6 L297.6,406.6 L298.6,406.6 L299.6,406.6 L300.6,406.6 L301.6,406.6 L302.6,406.6 L303.6,406.5 L304.6,406.5 L305.6,406.5 L306.6,406.5 L307.6,406.5 L308.6,406.4 L309.6,406.4 L310.6,406.4 L311.6,406.4 L312.6,406.3 L313.6,406.3 L314.6,406.3 L315.6,406.3 L316.6,406.2 L317.6,406.2 L318.6,406.2 L319.6,406.1 L320.6,406.1 L321.6,406.0 L322.6,406.0 L323.6,406.0 L324.6,405.9 L325.6,405.9 L326.6,405.8 L327.6,405.8 L328.6,405.7 L329.6,405.6 L330.6,405.6 L331.6,405.5 L332.6,405.5 L333.6,405.4 L334.6,405.3 L335.6,405.2 L336.6,405.2 L337.6,405.1 L338.6,405.0 L339.6,404.9 L340.6,404.8 L341.6,404.7 L342.6,404.6 L343.6,404.5 L344.6,404.4 L345.6,404.2 L346.6,404.1 L347.6,404.0 L348.6,403.8 L349.6,403.7 L350.6,403.5 L351.6,403.3 L352.6,403.1 L353.6,402.9 L354.6,402.7 L355.6,402.5 L356.6,402.2 L357.6,401.9 L358.6,401.6 L359.6,401.3 L360.6,401.0 L361.6,400.6 L362.6,400.2 L363.6,399.7 L364.6,399.2 L365.6,398.7 L366.6,398.1 L367.6,397.5 L368.6,396.8 L369.6,396.0 L370.6,395.2 L371.6,394.3 L372.6,393.3 L373.6,392.3 L374.6,391.1 L375.6,389.9 L376.6,388.5 L377.6,387.1 L378.6,385.5 L379.6,383.8 L380.6,382.1 L381.6,380.1 L382.6,378.1 L383.6,376.0 L384.6,373.7 L385.6,371.3 L386.6,368.8 L387.6,366.1 L388.6,363.4 L389.6,360.6 L390.6,357.6 L391.6,354.6 L392.6,351.6 L393.6,348.5 L394.6,345.3 L395.6,342.2 L396.6,339.2 L397.6,336.2 L398.6,333.3 L399.6,330.6 L400.6,328.1 L401.6,325.8 L402.6,323.9 L403.6,322.3 L404.6,321.0 L405.6,320.2 L406.6,319.8 L407.6,319.9 L408.6,320.4 L409.6,321.3 L410.6,322.7 L411.6,324.4 L412.6,326.4 L413.6,328.8 L414.6,331.3 L415.6,334.1 L416.6,337.1 L417.6,340.1 L418.6,343.2 L419.6,346.3 L420.6,349.5 L421.6,352.6 L422.6,355.7 L423.6,358.7 L424.6,361.7 L425.6,364.5 L426.6,367.3 L427.6,369.9 L428.6,372.4 L429.6,374.8 L430.6,377.1 L431.6,379.3 L432.6,381.3 L433.6,383.2 L434.6,385.0 L435.6,386.7 L436.6,388.2 L437.6,389.7 L438.6,391.1 L439.6,392.3 L440.6,393.5 L441.6,394.5 L442.6,395.5 L443.6,396.5 L444.6,397.3 L445.6,398.1 L446.6,398.8 L447.6,399.4 L448.6,400.0 L449.6,400.6 L450.6,401.1 L451.6,401.6 L452.6,402.0 L453.6,402.4 L454.6,402.8 L455.6,403.1 L456.6,403.4 L457.6,403.7 L458.6,404.0 L459.6,404.3 L460.6,404.5 L461.6,404.8 L462.6,405.0 L463.6,405.2 L464.6,405.4 L465.6,405.6 L466.6,405.7 L467.6,405.9 L468.6,406.1 L469.6,406.2 L470.6,406.4 L471.6,406.5 L472.6,406.6 L473.6,406.8 L474.6,406.9 L475.6,407.0 L476.6,407.1 L477.6,407.2 L478.6,407.4 L479.6,407.5 L480.6,407.6 L481.6,407.7 L482.6,407.8 L483.6,407.8 L484.6,407.9 L485.6,408.0 L486.6,408.1 L487.6,408.2 L488.6,408.3 L489.6,408.3 L490.6,408.4 L491.6,408.5 L492.6,408.6 L493.6,408.6 L494.6,408.7 L495.6,408.8 L496.6,408.8 L497.6,408.9 L498.6,409.0 L499.6,409.0 L500.6,409.1 L501.6,409.1 L502.6,409.2 L503.6,409.2 L504.6,409.3 L505.6,409.3 L506.6,409.4 L507.6,409.4 L508.6,409.5 L509.6,409.5 L510.6,409.6 L511.6,409.6 L512.6,409.7 L513.6,409.7 L514.6,409.8 L515.6,409.8 L516.6,409.9 L517.6,409.9 L518.6,409.9 L519.6,410.0 L520.6,410.0 L521.6,410.1 L522.6,410.1 L523.6,410.1 L524.6,410.2 L525.6,410.2 L526.6,410.2 L527.6,410.3 L528.6,410.3 L529.6,410.3 L530.6,410.4 L531.6,410.4 L532.6,410.5 L533.6,410.5 L534.6,410.5 L535.6,410.5 L536.6,410.6 L537.6,410.6 L538.6,410.6 L539.6,410.7 L540.6,410.7 L541.6,410.7 L542.6,410.8 L543.6,410.8 L544.6,410.8 L545.6,410.8 L546.6,410.9 L547.6,410.9 L548.6,410.9 L549.6,411.0 L550.6,411.0 L551.6,411.0 L552.6,411.0 L553.6,411.1 L554.6,411.1 L555.6,411.1 L556.6,411.1 L557.6,411.2 L558.6,411.2 L559.6,411.2 L560.6,411.2 L561.6,411.3 L562.6,411.3 L563.6,411.3 L564.6,411.3 L565.6,411.4 L566.6,411.4 L567.6,411.4 L568.6,411.4 L569.6,411.5 L570.6,411.5 L571.6,411.5 L572.6,411.5 L573.6,411.6 L574.6,411.6 L575.6,411.6 L576.6,411.6 L577.6,411.6 L578.6,411.7 L579.6,411.7 L580.6,411.7 L581.6,411.7 L582.6,411.8 L583.6,411.8 L584.6,411.8 L585.6,411.8 L586.6,411.8 L587.6,411.9 L588.6,411.9 L589.6,411.9 L590.6,411.9 L591.6,411.9 L592.6,412.0 L593.6,412.0" fill="none" stroke="#0000ff" stroke-width="3.3" stroke-linejoin="round"/>
<path d="M45.6,404.5 L46.6,404.5 L47.6,404.5 L48.6,404.5 L49.6,404.5 L50.6,404.5 L51.6,404.6 L52.6,404.6 L53.6,404.6 L54.6,404.6 L55.6,404.6 L56.6,404.6 L57.6,404.6 L58.6,404.7 L59.6,404.7 L60.6,404.7 L61.6,404.7 L62.6,404.7 L63.6,404.7 L64.6,404.7 L65.6,404.8 L66.6,404.8 L67.6,404.8 L68.6,404.8 L69.6,404.8 L70.6,404.8 L71.6,404.8 L72.6,404.9 L73.6,404.9 L74.6,404.9 L75.6,404.9 L76.6,404.9 L77.6,404.9 L78.6,404.9 L79.6,405.0 L80.6,405.0 L81.6,405.0 L82.6,405.0 L83.6,405.0 L84.6,405.0 L85.6,405.0 L86.6,405.1 L87.6,405.1 L88.6,405.1 L89.6,405.1 L90.6,405.1 L91.6,405.1 L92.6,405.2 L93.6,405.2 L94.6,405.2 L95.6,405.2 L96.6,405.2 L97.6,405.2 L98.6,405.2 L99.6,405.3 L100.6,405.3 L101.6,405.3 L102.6,405.3 L103.6,405.3 L104.6,405.3 L105.6,405.3 L106.6,405.4 L107.6,405.4 L108.6,405.4 L109.6,405.4 L110.6,405.4 L111.6,405.4 L112.6,405.4 L113.6,405.5 L114.6,405.5 L115.6,405.5 L116.6,405.5 L117.6,405.5 L118.6,405.5 L119.6,405.5 L120.6,405.6 L121.6,405.6 L122.6,405.6 L123.6,405.6 L124.6,405.6 L125.6,405.6 L126.6,405.6 L127.6,405.7 L128.6,405.7 L129.6,405.7 L130.6,405.7 L131.6,405.7 L132.6,405.7 L133.6,405.7 L134.6,405.8 L135.6,405.8 L136.6,405.8 L137.6,405.8 L138.6,405.8 L139.6,405.8 L140.6,405.8 L141.6,405.9 L142.6,405.9 L143.6,405.9 L144.6,405.9 L145.6,405.9 L146.6,405.9 L147.6,405.9 L148.6,406.0 L149.6,406.0 L150.6,406.0 L151.6,406.0 L152.6,406.0 L153.6,406.0 L154.6,406.0 L155.6,406.1 L156.6,406.1 L157.6,406.1 L158.6,406.1 L159.6,406.1 L160.6,406.1 L161.6,406.2 L162.6,406.2 L163.6,406.2 L164.6,406.2 L165.6,406.2 L166.6,406.2 L167.6,406.2 L168.6,406.3 L169.6,406.3 L170.6,406.3 L171.6,406.3 L172.6,406.3 L173.6,406.3 L174.6,406.3 L175.6,406.4 L176.6,406.4 L177.6,406.4 L178.6,406.4 L179.6,406.4 L180.6,406.4 L181.6,406.4 L182.6,406.5 L183.6,406.5 L184.6,406.5 L185.6,406.5 L186.6,406.5 L187.6,406.5 L188.6,406.5 L189.6,406.6 L190.6,406.6 L191.6,406.6 L192.6,406.6 L193.6,406.6 L194.6,406.6 L195.6,406.6 L196.6,406.7 L197.6,406.7 L198.6,406.7 L199.6,406.7 L200.6,406.7 L201.6,406.7 L202.6,406.7 L203.6,406.8 L204.6,406.8 L205.6,406.8 L206.6,406.8 L207.6,406.8 L208.6,406.8 L209.6,406.8 L210.6,406.9 L211.6,406.9 L212.6,406.9 L213.6,406.9 L214.6,406.9 L215.6,406.9 L216.6,406.9 L217.6,407.0 L218.6,407.0 L219.6,407.0 L220.6,407.0 L221.6,407.0 L222.6,407.0 L223.6,407.0 L224.6,407.0 L225.6,407.1 L226.6,407.1 L227.6,407.1 L228.6,407.1 L229.6,407.1 L230.6,407.1 L231.6,407.1 L232.6,407.2 L233.6,407.2 L234.6,407.2 L235.6,407.2 L236.6,407.2 L237.6,407.2 L238.6,407.2 L239.6,407.3 L240.6,407.3 L241.6,407.3 L242.6,407.3 L243.6,407.3 L244.6,407.3 L245.6,407.3 L246.6,407.4 L247.6,407.4 L248.6,407.4 L249.6,407.4 L250.6,407.4 L251.6,407.4 L252.6,407.4 L253.6,407.5 L254.6,407.5 L255.6,407.5 L256.6,407.5 L257.6,407.5 L258.6,407.5 L259.6,407.5 L260.6,407.5 L261.6,407.6 L262.6,407.6 L263.6,407.6 L264.6,407.6 L265.6,407.6 L266.6,407.6 L267.6,407.6 L268.6,407.7 L269.6,407.7 L270.6,407.7 L271.6,407.7 L272.6,407.7 L273.6,407.7 L274.6,407.7 L275.6,407.8 L276.6,407.8 L277.6,407.8 L278.6,407.8 L279.6,407.8 L280.6,407.8 L281.6,407.8 L282.6,407.8 L283.6,407.9 L284.6,407.9 L285.6,407.9 L286.6,407.9 L287.6,407.9 L288.6,407.9 L289.6,407.9 L290.6,407.9 L291.6,408.0 L292.6,408.0 L293.6,408.0 L294.6,408.0 L295.6,408.0 L296.6,408.0 L297.6,408.0 L298.6,408.0 L299.6,408.1 L300.6,408.1 L301.6,408.1 L302.6,408.1 L303.6,408.1 L304.6,408.1 L305.6,408.1 L306.6,408.1 L307.6,408.2 L308.6,408.2 L309.6,408.2 L310.6,408.2 L311.6,408.2 L312.6,408.2 L313.6,408.2 L314.6,408.2 L315.6,408.3 L316.6,408.3 L317.6,408.3 L318.6,408.3 L319.6,408.3 L320.6,408.3 L321.6,408.3 L322.6,408.3 L323.6,408.3 L324.6,408.3 L325.6,408.4 L326.6,408.4 L327.6,408.4 L328.6,408.4 L329.6,408.4 L330.6,408.4 L331.6,408.4 L332.6,408.4 L333.6,408.4 L334.6,408.4 L335.6,408.5 L336.6,408.5 L337.6,408.5 L338.6,408.5 L339.6,408.5 L340.6,408.5 L341.6,408.5 L342.6,408.5 L343.6,408.5 L344.6,408.5 L345.6,408.5 L346.6,408.5 L347.6,408.5 L348.6,408.6 L349.6,408.6 L350.6,408.6 L351.6,408.6 L352.6,408.6 L353.6,408.6 L354.6,408.6 L355.6,408.6 L356.6,408.6 L357.6,408.6 L358.6,408.6 L359.6,408.6 L360.6,408.6 L361.6,408.6 L362.6,408.6 L363.6,408.6 L364.6,408.6 L365.6,408.6 L366.6,408.6 L367.6,408.6 L368.6,408.6 L369.6,408.6 L370.6,408.6 L371.6,408.6 L372.6,408.6 L373.6,408.6 L374.6,408.5 L375.6,408.5 L376.6,408.5 L377.6,408.5 L378.6,408.5 L379.6,408.5 L380.6,408.5 L381.6,408.4 L382.6,408.4 L383.6,408.4 L384.6,408.4 L385.6,408.3 L386.6,408.3 L387.6,408.3 L388.6,408.2 L389.6,408.2 L390.6,408.1 L391.6,408.1 L392.6,408.0 L393.6,408.0 L394.6,407.9 L395.6,407.8 L396.6,407.8 L397.6,407.7 L398.6,407.6 L399.6,407.5 L400.6,407.4 L401.6,407.2 L402.6,407.1 L403.6,407.0 L404.6,406.8 L405.6,406.6 L406.6,406.4 L407.6,406.2 L408.6,405.9 L409.6,405.6 L410.6,405.3 L411.6,404.9 L412.6,404.5 L413.6,403.9 L414.6,403.3 L415.6,402.6 L416.6,401.7 L417.6,400.7 L418.6,399.4 L419.6,398.0 L420.6,396.3 L421.6,394.3 L422.6,392.0 L423.6,389.4 L424.6,386.5 L425.6,383.2 L426.6,379.7 L427.6,375.9 L428.6,371.9 L429.6,368.0 L430.6,364.3 L431.6,361.1 L432.6,358.7 L433.6,357.4 L434.6,357.3 L435.6,358.4 L436.6,360.7 L437.6,363.8 L438.6,367.4 L439.6,371.3 L440.6,375.3 L441.6,379.1 L442.6,382.8 L443.6,386.1 L444.6,389.2 L445.6,391.9 L446.6,394.2 L447.6,396.3 L448.6,398.1 L449.6,399.6 L450.6,400.9 L451.6,402.0 L452.6,403.0 L453.6,403.8 L454.6,404.4 L455.6,405.0 L456.6,405.5 L457.6,405.9 L458.6,406.3 L459.6,406.6 L460.6,406.9 L461.6,407.2 L462.6,407.4 L463.6,407.6 L464.6,407.8 L465.6,408.0 L466.6,408.2 L467.6,408.3 L468.6,408.5 L469.6,408.6 L470.6,408.7 L471.6,408.8 L472.6,408.9 L473.6,409.0 L474.6,409.1 L475.6,409.2 L476.6,409.3 L477.6,409.4 L478.6,409.5 L479.6,409.5 L480.6,409.6 L481.6,409.7 L482.6,409.7 L483.6,409.8 L484.6,409.9 L485.6,409.9 L486.6,410.0 L487.6,410.0 L488.6,410.1 L489.6,410.1 L490.6,410.2 L491.6,410.2 L492.6,410.2 L493.6,410.3 L494.6,410.3 L495.6,410.4 L496.6,410.4 L497.6,410.4 L498.6,410.5 L499.6,410.5 L500.6,410.5 L501.6,410.6 L502.6,410.6 L503.6,410.6 L504.6,410.7 L505.6,410.7 L506.6,410.7 L507.6,410.8 L508.6,410.8 L509.6,410.8 L510.6,410.8 L511.6,410.9 L512.6,410.9 L513.6,410.9 L514.6,410.9 L515.6,411.0 L516.6,411.0 L517.6,411.0 L518.6,411.0 L519.6,411.1 L520.6,411.1 L521.6,411.1 L522.6,411.1 L523.6,411.2 L524.6,411.2 L525.6,411.2 L526.6,411.2 L527.6,411.2 L528.6,411.3 L529.6,411.3 L530.6,411.3 L531.6,411.3 L532.6,411.3 L533.6,411.4 L534.6,411.4 L535.6,411.4 L536.6,411.4 L537.6,411.4 L538.6,411.5 L539.6,411.5 L540.6,411.5 L541.6,411.5 L542.6,411.5 L543.6,411.6 L544.6,411.6 L545.6,411.6 L546.6,411.6 L547.6,411.6 L548.6,411.7 L549.6,411.7 L550.6,411.7 L551.6,411.7 L552.6,411.7 L553.6,411.7 L554.6,411.8 L555.6,411.8 L556.6,411.8 L557.6,411.8 L558.6,411.8 L559.6,411.9 L560.6,411.9 L561.6,411.9 L562.6,411.9 L563.6,411.9 L564.6,411.9 L565.6,412.0 L566.6,412.0 L567.6,412.0 L568.6,412.0 L569.6,412.0 L570.6,412.0 L571.6,412.1 L572.6,412.1 L573.6,412.1 L574.6,412.1 L575.6,412.1 L576.6,412.1 L577.6,412.2 L578.6,412.2 L579.6,412.2 L580.6,412.2 L581.6,412.2 L582.6,412.2 L583.6,412.3 L584.6,412.3 L585.6,412.3 L586.6,412.3 L587.6,412.3 L588.6,412.3 L589.6,412.4 L590.6,412.4 L591.6,412.4 L592.6,412.4 L593.6,412.4" fill="none" stroke="#ff0000" stroke-width="3.3" stroke-linejoin="round"/>
<ellipse cx="212" cy="248.8" rx="2.6" ry="1.7" fill="#000"/>
<path d="M45.6,595.4 L46.6,595.3 L47.6,595.3 L48.6,595.3 L49.6,595.3 L50.6,595.2 L51.6,595.2 L52.6,595.2 L53.6,595.1 L54.6,595.1 L55.6,595.0 L56.6,595.0 L57.6,595.0 L58.6,594.9 L59.6,594.9 L60.6,594.8 L61.6,594.8 L62.6,594.7 L63.6,594.6 L64.6,594.6 L65.6,594.5 L66.6,594.5 L67.6,594.4 L68.6,594.3 L69.6,594.3 L70.6,594.2 L71.6,594.1 L72.6,594.1 L73.6,594.0 L74.6,593.9 L75.6,593.8 L76.6,593.8 L77.6,593.7 L78.6,593.6 L79.6,593.5 L80.6,593.4 L81.6,593.3 L82.6,593.3 L83.6,593.2 L84.6,593.1 L85.6,593.0 L86.6,592.9 L87.6,592.8 L88.6,592.7 L89.6,592.6 L90.6,592.5 L91.6,592.4 L92.6,592.2 L93.6,592.1 L94.6,592.0 L95.6,591.9 L96.6,591.8 L97.6,591.7 L98.6,591.6 L99.6,591.4 L100.6,591.3 L101.6,591.2 L102.6,591.0 L103.6,590.9 L104.6,590.8 L105.6,590.6 L106.6,590.5 L107.6,590.3 L108.6,590.2 L109.6,590.0 L110.6,589.9 L111.6,589.7 L112.6,589.6 L113.6,589.4 L114.6,589.2 L115.6,589.0 L116.6,588.9 L117.6,588.7 L118.6,588.5 L119.6,588.3 L120.6,588.1 L121.6,587.9 L122.6,587.7 L123.6,587.5 L124.6,587.2 L125.6,587.0 L126.6,586.8 L127.6,586.5 L128.6,586.3 L129.6,586.0 L130.6,585.8 L131.6,585.5 L132.6,585.2 L133.6,584.9 L134.6,584.6 L135.6,584.3 L136.6,584.0 L137.6,583.7 L138.6,583.3 L139.6,583.0 L140.6,582.6 L141.6,582.3 L142.6,581.9 L143.6,581.5 L144.6,581.0 L145.6,580.6 L146.6,580.1 L147.6,579.7 L148.6,579.2 L149.6,578.7 L150.6,578.2 L151.6,577.6 L152.6,577.0 L153.6,576.5 L154.6,575.8 L155.6,575.2 L156.6,574.5 L157.6,573.8 L158.6,573.1 L159.6,572.3 L160.6,571.5 L161.6,570.7 L162.6,569.9 L163.6,568.9 L164.6,568.0 L165.6,567.0 L166.6,566.0 L167.6,564.9 L168.6,563.8 L169.6,562.6 L170.6,561.4 L171.6,560.1 L172.6,558.7 L173.6,557.3 L174.6,555.8 L175.6,554.3 L176.6,552.7 L177.6,551.0 L178.6,549.2 L179.6,547.3 L180.6,545.4 L181.6,543.4 L182.6,541.2 L183.6,539.0 L184.6,536.7 L185.6,534.4 L186.6,531.9 L187.6,529.3 L188.6,526.6 L189.6,523.9 L190.6,521.1 L191.6,518.2 L192.6,515.2 L193.6,512.2 L194.6,509.2 L195.6,506.1 L196.6,503.0 L197.6,499.9 L198.6,496.9 L199.6,493.9 L200.6,491.1 L201.6,488.3 L202.6,485.7 L203.6,483.3 L204.6,481.1 L205.6,479.2 L206.6,477.6 L207.6,476.2 L208.6,475.2 L209.6,474.6 L210.6,474.3 L211.6,474.4 L212.6,474.8 L213.6,475.6 L214.6,476.8 L215.6,478.2 L216.6,480.0 L217.6,482.1 L218.6,484.3 L219.6,486.8 L220.6,489.5 L221.6,492.3 L222.6,495.2 L223.6,498.3 L224.6,501.3 L225.6,504.4 L226.6,507.5 L227.6,510.6 L228.6,513.6 L229.6,516.6 L230.6,519.6 L231.6,522.5 L232.6,525.3 L233.6,528.0 L234.6,530.6 L235.6,533.2 L236.6,535.6 L237.6,538.0 L238.6,540.2 L239.6,542.4 L240.6,544.5 L241.6,546.5 L242.6,548.4 L243.6,550.2 L244.6,552.0 L245.6,553.7 L246.6,555.3 L247.6,556.8 L248.6,558.3 L249.6,559.7 L250.6,561.0 L251.6,562.3 L252.6,563.5 L253.6,564.7 L254.6,565.8 L255.6,566.8 L256.6,567.8 L257.6,568.8 L258.6,569.7 L259.6,570.6 L260.6,571.4 L261.6,572.2 L262.6,573.0 L263.6,573.7 L264.6,574.3 L265.6,575.0 L266.6,575.6 L267.6,576.1 L268.6,576.6 L269.6,577.1 L270.6,577.6 L271.6,578.0 L272.6,578.4 L273.6,578.8 L274.6,579.1 L275.6,579.4 L276.6,579.7 L277.6,579.9 L278.6,580.1 L279.6,580.4 L280.6,580.5 L281.6,580.7 L282.6,580.9 L283.6,581.0 L284.6,581.1 L285.6,581.2 L286.6,581.4 L287.6,581.5 L288.6,581.6 L289.6,581.6 L290.6,581.7 L291.6,581.8 L292.6,581.9 L293.6,582.0 L294.6,582.1 L295.6,582.2 L296.6,582.3 L297.6,582.4 L298.6,582.5 L299.6,582.5 L300.6,582.6 L301.6,582.7 L302.6,582.8 L303.6,582.9 L304.6,583.0 L305.6,583.1 L306.6,583.3 L307.6,583.4 L308.6,583.5 L309.6,583.6 L310.6,583.7 L311.6,583.8 L312.6,583.9 L313.6,584.0 L314.6,584.0 L315.6,584.1 L316.6,584.2 L317.6,584.3 L318.6,584.4 L319.6,584.5 L320.6,584.5 L321.6,584.6 L322.6,584.7 L323.6,584.7 L324.6,584.8 L325.6,584.8 L326.6,584.9 L327.6,584.9 L328.6,585.0 L329.6,585.0 L330.6,585.0 L331.6,585.1 L332.6,585.1 L333.6,585.1 L334.6,585.1 L335.6,585.1 L336.6,585.1 L337.6,585.1 L338.6,585.1 L339.6,585.1 L340.6,585.1 L341.6,585.1 L342.6,585.1 L343.6,585.1 L344.6,585.1 L345.6,585.0 L346.6,585.0 L347.6,585.0 L348.6,585.0 L349.6,584.9 L350.6,584.9 L351.6,584.9 L352.6,584.8 L353.6,584.8 L354.6,584.7 L355.6,584.7 L356.6,584.6 L357.6,584.6 L358.6,584.5 L359.6,584.4 L360.6,584.3 L361.6,584.1 L362.6,584.0 L363.6,583.8 L364.6,583.6 L365.6,583.4 L366.6,583.1 L367.6,582.8 L368.6,582.4 L369.6,582.0 L370.6,581.5 L371.6,581.0 L372.6,580.4 L373.6,579.7 L374.6,578.9 L375.6,578.1 L376.6,577.1 L377.6,576.1 L378.6,574.9 L379.6,573.7 L380.6,572.4 L381.6,570.9 L382.6,569.3 L383.6,567.6 L384.6,565.8 L385.6,563.9 L386.6,561.9 L387.6,559.8 L388.6,557.5 L389.6,555.2 L390.6,552.8 L391.6,550.3 L392.6,547.7 L393.6,545.0 L394.6,542.3 L395.6,539.6 L396.6,536.9 L397.6,534.2 L398.6,531.6 L399.6,529.0 L400.6,526.6 L401.6,524.3 L402.6,522.2 L403.6,520.3 L404.6,518.6 L405.6,517.3 L406.6,516.3 L407.6,515.6 L408.6,515.2 L409.6,515.2 L410.6,515.5 L411.6,516.1 L412.6,517.0 L413.6,518.2 L414.6,519.5 L415.6,521.0 L416.6,522.6 L417.6,524.2 L418.6,525.9 L419.6,527.4 L420.6,528.8 L421.6,530.0 L422.6,531.0 L423.6,531.7 L424.6,532.1 L425.6,532.2 L426.6,532.0 L427.6,531.5 L428.6,530.7 L429.6,529.7 L430.6,528.6 L431.6,527.5 L432.6,526.7 L433.6,526.3 L434.6,526.6 L435.6,527.7 L436.6,529.7 L437.6,532.6 L438.6,536.2 L439.6,540.4 L440.6,544.8 L441.6,549.3 L442.6,553.7 L443.6,557.9 L444.6,561.9 L445.6,565.5 L446.6,568.8 L447.6,571.8 L448.6,574.5 L449.6,576.8 L450.6,578.9 L451.6,580.7 L452.6,582.3 L453.6,583.7 L454.6,584.9 L455.6,586.0 L456.6,587.0 L457.6,587.8 L458.6,588.5 L459.6,589.2 L460.6,589.8 L461.6,590.3 L462.6,590.8 L463.6,591.2 L464.6,591.7 L465.6,592.0 L466.6,592.4 L467.6,592.7 L468.6,593.0 L469.6,593.3 L470.6,593.6 L471.6,593.8 L472.6,594.1 L473.6,594.3 L474.6,594.5 L475.6,594.7 L476.6,594.9 L477.6,595.1 L478.6,595.3 L479.6,595.5 L480.6,595.6 L481.6,595.8 L482.6,595.9 L483.6,596.1 L484.6,596.2 L485.6,596.3 L486.6,596.5 L487.6,596.6 L488.6,596.7 L489.6,596.8 L490.6,596.9 L491.6,597.0 L492.6,597.1 L493.6,597.2 L494.6,597.3 L495.6,597.4 L496.6,597.5 L497.6,597.6 L498.6,597.7 L499.6,597.8 L500.6,597.8 L501.6,597.9 L502.6,598.0 L503.6,598.1 L504.6,598.1 L505.6,598.2 L506.6,598.3 L507.6,598.3 L508.6,598.4 L509.6,598.5 L510.6,598.5 L511.6,598.6 L512.6,598.7 L513.6,598.7 L514.6,598.8 L515.6,598.8 L516.6,598.9 L517.6,598.9 L518.6,599.0 L519.6,599.0 L520.6,599.1 L521.6,599.1 L522.6,599.2 L523.6,599.2 L524.6,599.3 L525.6,599.3 L526.6,599.4 L527.6,599.4 L528.6,599.5 L529.6,599.5 L530.6,599.5 L531.6,599.6 L532.6,599.6 L533.6,599.7 L534.6,599.7 L535.6,599.7 L536.6,599.8 L537.6,599.8 L538.6,599.8 L539.6,599.9 L540.6,599.9 L541.6,600.0 L542.6,600.0 L543.6,600.0 L544.6,600.1 L545.6,600.1 L546.6,600.1 L547.6,600.2 L548.6,600.2 L549.6,600.2 L550.6,600.2 L551.6,600.3 L552.6,600.3 L553.6,600.3 L554.6,600.4 L555.6,600.4 L556.6,600.4 L557.6,600.5 L558.6,600.5 L559.6,600.5 L560.6,600.5 L561.6,600.6 L562.6,600.6 L563.6,600.6 L564.6,600.6 L565.6,600.7 L566.6,600.7 L567.6,600.7 L568.6,600.8 L569.6,600.8 L570.6,600.8 L571.6,600.8 L572.6,600.9 L573.6,600.9 L574.6,600.9 L575.6,600.9 L576.6,600.9 L577.6,601.0 L578.6,601.0 L579.6,601.0 L580.6,601.0 L581.6,601.1 L582.6,601.1 L583.6,601.1 L584.6,601.1 L585.6,601.2 L586.6,601.2 L587.6,601.2 L588.6,601.2 L589.6,601.2 L590.6,601.3 L591.6,601.3 L592.6,601.3 L593.6,601.3" fill="none" stroke="#000" stroke-width="3.2" stroke-dasharray="8 6" stroke-linejoin="round"/>
<path d="M45.6,593.4 L46.6,593.4 L47.6,593.4 L48.6,593.3 L49.6,593.3 L50.6,593.3 L51.6,593.3 L52.6,593.2 L53.6,593.2 L54.6,593.2 L55.6,593.1 L56.6,593.1 L57.6,593.1 L58.6,593.0 L59.6,593.0 L60.6,593.0 L61.6,592.9 L62.6,592.9 L63.6,592.9 L64.6,592.8 L65.6,592.8 L66.6,592.7 L67.6,592.7 L68.6,592.7 L69.6,592.6 L70.6,592.6 L71.6,592.5 L72.6,592.5 L73.6,592.4 L74.6,592.4 L75.6,592.3 L76.6,592.3 L77.6,592.2 L78.6,592.2 L79.6,592.1 L80.6,592.0 L81.6,592.0 L82.6,591.9 L83.6,591.9 L84.6,591.8 L85.6,591.7 L86.6,591.7 L87.6,591.6 L88.6,591.5 L89.6,591.5 L90.6,591.4 L91.6,591.3 L92.6,591.2 L93.6,591.1 L94.6,591.1 L95.6,591.0 L96.6,590.9 L97.6,590.8 L98.6,590.7 L99.6,590.6 L100.6,590.5 L101.6,590.4 L102.6,590.3 L103.6,590.2 L104.6,590.1 L105.6,590.0 L106.6,589.9 L107.6,589.7 L108.6,589.6 L109.6,589.5 L110.6,589.4 L111.6,589.2 L112.6,589.1 L113.6,588.9 L114.6,588.8 L115.6,588.6 L116.6,588.5 L117.6,588.3 L118.6,588.2 L119.6,588.0 L120.6,587.8 L121.6,587.6 L122.6,587.4 L123.6,587.2 L124.6,587.0 L125.6,586.8 L126.6,586.6 L127.6,586.4 L128.6,586.2 L129.6,585.9 L130.6,585.7 L131.6,585.4 L132.6,585.1 L133.6,584.9 L134.6,584.6 L135.6,584.3 L136.6,584.0 L137.6,583.6 L138.6,583.3 L139.6,583.0 L140.6,582.6 L141.6,582.2 L142.6,581.8 L143.6,581.4 L144.6,581.0 L145.6,580.5 L146.6,580.1 L147.6,579.6 L148.6,579.1 L149.6,578.5 L150.6,578.0 L151.6,577.4 L152.6,576.8 L153.6,576.1 L154.6,575.5 L155.6,574.8 L156.6,574.0 L157.6,573.2 L158.6,572.4 L159.6,571.6 L160.6,570.7 L161.6,569.8 L162.6,568.8 L163.6,567.8 L164.6,566.7 L165.6,565.6 L166.6,564.4 L167.6,563.2 L168.6,561.9 L169.6,560.6 L170.6,559.2 L171.6,557.7 L172.6,556.2 L173.6,554.6 L174.6,552.9 L175.6,551.1 L176.6,549.3 L177.6,547.4 L178.6,545.4 L179.6,543.4 L180.6,541.3 L181.6,539.1 L182.6,536.8 L183.6,534.4 L184.6,531.9 L185.6,529.4 L186.6,526.8 L187.6,524.1 L188.6,521.4 L189.6,518.6 L190.6,515.8 L191.6,512.9 L192.6,510.0 L193.6,507.0 L194.6,504.1 L195.6,501.1 L196.6,498.2 L197.6,495.3 L198.6,492.5 L199.6,489.8 L200.6,487.3 L201.6,484.8 L202.6,482.5 L203.6,480.5 L204.6,478.6 L205.6,477.0 L206.6,475.7 L207.6,474.6 L208.6,473.9 L209.6,473.4 L210.6,473.3 L211.6,473.5 L212.6,474.0 L213.6,474.8 L214.6,476.0 L215.6,477.4 L216.6,479.0 L217.6,480.9 L218.6,483.1 L219.6,485.4 L220.6,487.9 L221.6,490.5 L222.6,493.2 L223.6,496.1 L224.6,499.0 L225.6,501.9 L226.6,504.8 L227.6,507.8 L228.6,510.8 L229.6,513.7 L230.6,516.6 L231.6,519.4 L232.6,522.2 L233.6,525.0 L234.6,527.6 L235.6,530.2 L236.6,532.7 L237.6,535.2 L238.6,537.5 L239.6,539.8 L240.6,542.0 L241.6,544.2 L242.6,546.2 L243.6,548.2 L244.6,550.1 L245.6,551.9 L246.6,553.6 L247.6,555.3 L248.6,556.9 L249.6,558.4 L250.6,559.9 L251.6,561.3 L252.6,562.6 L253.6,563.9 L254.6,565.1 L255.6,566.3 L256.6,567.4 L257.6,568.5 L258.6,569.5 L259.6,570.5 L260.6,571.4 L261.6,572.3 L262.6,573.1 L263.6,573.9 L264.6,574.7 L265.6,575.4 L266.6,576.1 L267.6,576.8 L268.6,577.5 L269.6,578.1 L270.6,578.6 L271.6,579.2 L272.6,579.7 L273.6,580.3 L274.6,580.7 L275.6,581.2 L276.6,581.7 L277.6,582.1 L278.6,582.5 L279.6,582.9 L280.6,583.3 L281.6,583.6 L282.6,584.0 L283.6,584.3 L284.6,584.6 L285.6,584.9 L286.6,585.2 L287.6,585.5 L288.6,585.8 L289.6,586.1 L290.6,586.3 L291.6,586.6 L292.6,586.8 L293.6,587.0 L294.6,587.2 L295.6,587.4 L296.6,587.6 L297.6,587.8 L298.6,588.0 L299.6,588.2 L300.6,588.4 L301.6,588.5 L302.6,588.7 L303.6,588.8 L304.6,589.0 L305.6,589.1 L306.6,589.3 L307.6,589.4 L308.6,589.5 L309.6,589.6 L310.6,589.8 L311.6,589.9 L312.6,590.0 L313.6,590.1 L314.6,590.2 L315.6,590.3 L316.6,590.3 L317.6,590.4 L318.6,590.5 L319.6,590.6 L320.6,590.6 L321.6,590.7 L322.6,590.8 L323.6,590.8 L324.6,590.9 L325.6,590.9 L326.6,591.0 L327.6,591.0 L328.6,591.0 L329.6,591.0 L330.6,591.1 L331.6,591.1 L332.6,591.1 L333.6,591.1 L334.6,591.1 L335.6,591.1 L336.6,591.1 L337.6,591.1 L338.6,591.1 L339.6,591.0 L340.6,591.0 L341.6,591.0 L342.6,590.9 L343.6,590.9 L344.6,590.8 L345.6,590.7 L346.6,590.7 L347.6,590.6 L348.6,590.5 L349.6,590.4 L350.6,590.2 L351.6,590.1 L352.6,590.0 L353.6,589.8 L354.6,589.6 L355.6,589.4 L356.6,589.2 L357.6,589.0 L358.6,588.7 L359.6,588.4 L360.6,588.1 L361.6,587.8 L362.6,587.4 L363.6,587.0 L364.6,586.5 L365.6,586.1 L366.6,585.5 L367.6,584.9 L368.6,584.3 L369.6,583.6 L370.6,582.8 L371.6,581.9 L372.6,581.0 L373.6,580.0 L374.6,579.0 L375.6,577.8 L376.6,576.6 L377.6,575.2 L378.6,573.8 L379.6,572.2 L380.6,570.6 L381.6,568.9 L382.6,567.0 L383.6,565.1 L384.6,563.0 L385.6,560.9 L386.6,558.7 L387.6,556.3 L388.6,553.9 L389.6,551.4 L390.6,548.8 L391.6,546.2 L392.6,543.5 L393.6,540.8 L394.6,538.0 L395.6,535.3 L396.6,532.7 L397.6,530.1 L398.6,527.6 L399.6,525.2 L400.6,523.0 L401.6,521.0 L402.6,519.3 L403.6,517.8 L404.6,516.6 L405.6,515.8 L406.6,515.3 L407.6,515.1 L408.6,515.3 L409.6,515.8 L410.6,516.6 L411.6,517.7 L412.6,519.0 L413.6,520.4 L414.6,522.0 L415.6,523.6 L416.6,525.2 L417.6,526.8 L418.6,528.2 L419.6,529.5 L420.6,530.6 L421.6,531.4 L422.6,532.0 L423.6,532.2 L424.6,532.1 L425.6,531.7 L426.6,531.0 L427.6,530.1 L428.6,529.0 L429.6,527.9 L430.6,527.0 L431.6,526.4 L432.6,526.4 L433.6,527.1 L434.6,528.8 L435.6,531.3 L436.6,534.7 L437.6,538.7 L438.6,543.0 L439.6,547.5 L440.6,551.9 L441.6,556.3 L442.6,560.3 L443.6,564.1 L444.6,567.5 L445.6,570.6 L446.6,573.4 L447.6,575.9 L448.6,578.1 L449.6,580.0 L450.6,581.7 L451.6,583.2 L452.6,584.5 L453.6,585.6 L454.6,586.6 L455.6,587.5 L456.6,588.2 L457.6,588.9 L458.6,589.5 L459.6,590.1 L460.6,590.6 L461.6,591.1 L462.6,591.5 L463.6,591.9 L464.6,592.2 L465.6,592.6 L466.6,592.9 L467.6,593.2 L468.6,593.5 L469.6,593.7 L470.6,594.0 L471.6,594.2 L472.6,594.4 L473.6,594.6 L474.6,594.8 L475.6,595.0 L476.6,595.2 L477.6,595.4 L478.6,595.5 L479.6,595.7 L480.6,595.9 L481.6,596.0 L482.6,596.1 L483.6,596.3 L484.6,596.4 L485.6,596.5 L486.6,596.6 L487.6,596.8 L488.6,596.9 L489.6,597.0 L490.6,597.1 L491.6,597.2 L492.6,597.3 L493.6,597.4 L494.6,597.5 L495.6,597.6 L496.6,597.6 L497.6,597.7 L498.6,597.8 L499.6,597.9 L500.6,598.0 L501.6,598.0 L502.6,598.1 L503.6,598.2 L504.6,598.2 L505.6,598.3 L506.6,598.4 L507.6,598.4 L508.6,598.5 L509.6,598.6 L510.6,598.6 L511.6,598.7 L512.6,598.7 L513.6,598.8 L514.6,598.9 L515.6,598.9 L516.6,599.0 L517.6,599.0 L518.6,599.1 L519.6,599.1 L520.6,599.2 L521.6,599.2 L522.6,599.3 L523.6,599.3 L524.6,599.3 L525.6,599.4 L526.6,599.4 L527.6,599.5 L528.6,599.5 L529.6,599.6 L530.6,599.6 L531.6,599.6 L532.6,599.7 L533.6,599.7 L534.6,599.7 L535.6,599.8 L536.6,599.8 L537.6,599.9 L538.6,599.9 L539.6,599.9 L540.6,600.0 L541.6,600.0 L542.6,600.0 L543.6,600.1 L544.6,600.1 L545.6,600.1 L546.6,600.2 L547.6,600.2 L548.6,600.2 L549.6,600.3 L550.6,600.3 L551.6,600.3 L552.6,600.3 L553.6,600.4 L554.6,600.4 L555.6,600.4 L556.6,600.5 L557.6,600.5 L558.6,600.5 L559.6,600.5 L560.6,600.6 L561.6,600.6 L562.6,600.6 L563.6,600.7 L564.6,600.7 L565.6,600.7 L566.6,600.7 L567.6,600.8 L568.6,600.8 L569.6,600.8 L570.6,600.8 L571.6,600.9 L572.6,600.9 L573.6,600.9 L574.6,600.9 L575.6,601.0 L576.6,601.0 L577.6,601.0 L578.6,601.0 L579.6,601.0 L580.6,601.1 L581.6,601.1 L582.6,601.1 L583.6,601.1 L584.6,601.2 L585.6,601.2 L586.6,601.2 L587.6,601.2 L588.6,601.2 L589.6,601.3 L590.6,601.3 L591.6,601.3 L592.6,601.3 L593.6,601.3" fill="none" stroke="#000" stroke-width="3.3" stroke-linejoin="round"/>
<path d="M45.6,593.6 L46.6,593.5 L47.6,593.5 L48.6,593.5 L49.6,593.5 L50.6,593.4 L51.6,593.4 L52.6,593.4 L53.6,593.4 L54.6,593.3 L55.6,593.3 L56.6,593.3 L57.6,593.2 L58.6,593.2 L59.6,593.2 L60.6,593.1 L61.6,593.1 L62.6,593.1 L63.6,593.0 L64.6,593.0 L65.6,593.0 L66.6,592.9 L67.6,592.9 L68.6,592.8 L69.6,592.8 L70.6,592.7 L71.6,592.7 L72.6,592.7 L73.6,592.6 L74.6,592.6 L75.6,592.5 L76.6,592.5 L77.6,592.4 L78.6,592.4 L79.6,592.3 L80.6,592.2 L81.6,592.2 L82.6,592.1 L83.6,592.1 L84.6,592.0 L85.6,591.9 L86.6,591.9 L87.6,591.8 L88.6,591.7 L89.6,591.7 L90.6,591.6 L91.6,591.5 L92.6,591.4 L93.6,591.4 L94.6,591.3 L95.6,591.2 L96.6,591.1 L97.6,591.0 L98.6,590.9 L99.6,590.8 L100.6,590.7 L101.6,590.6 L102.6,590.5 L103.6,590.4 L104.6,590.3 L105.6,590.2 L106.6,590.1 L107.6,590.0 L108.6,589.8 L109.6,589.7 L110.6,589.6 L111.6,589.5 L112.6,589.3 L113.6,589.2 L114.6,589.0 L115.6,588.9 L116.6,588.7 L117.6,588.6 L118.6,588.4 L119.6,588.2 L120.6,588.1 L121.6,587.9 L122.6,587.7 L123.6,587.5 L124.6,587.3 L125.6,587.1 L126.6,586.9 L127.6,586.6 L128.6,586.4 L129.6,586.2 L130.6,585.9 L131.6,585.7 L132.6,585.4 L133.6,585.1 L134.6,584.8 L135.6,584.6 L136.6,584.2 L137.6,583.9 L138.6,583.6 L139.6,583.2 L140.6,582.9 L141.6,582.5 L142.6,582.1 L143.6,581.7 L144.6,581.3 L145.6,580.8 L146.6,580.4 L147.6,579.9 L148.6,579.4 L149.6,578.8 L150.6,578.3 L151.6,577.7 L152.6,577.1 L153.6,576.4 L154.6,575.8 L155.6,575.1 L156.6,574.3 L157.6,573.6 L158.6,572.8 L159.6,571.9 L160.6,571.0 L161.6,570.1 L162.6,569.1 L163.6,568.1 L164.6,567.1 L165.6,565.9 L166.6,564.8 L167.6,563.6 L168.6,562.3 L169.6,560.9 L170.6,559.5 L171.6,558.1 L172.6,556.5 L173.6,554.9 L174.6,553.3 L175.6,551.5 L176.6,549.7 L177.6,547.8 L178.6,545.8 L179.6,543.8 L180.6,541.7 L181.6,539.5 L182.6,537.2 L183.6,534.8 L184.6,532.4 L185.6,529.8 L186.6,527.2 L187.6,524.6 L188.6,521.8 L189.6,519.0 L190.6,516.2 L191.6,513.3 L192.6,510.4 L193.6,507.5 L194.6,504.5 L195.6,501.6 L196.6,498.7 L197.6,495.8 L198.6,493.0 L199.6,490.3 L200.6,487.7 L201.6,485.3 L202.6,483.0 L203.6,481.0 L204.6,479.1 L205.6,477.5 L206.6,476.2 L207.6,475.1 L208.6,474.4 L209.6,473.9 L210.6,473.8 L211.6,474.0 L212.6,474.5 L213.6,475.4 L214.6,476.5 L215.6,477.9 L216.6,479.6 L217.6,481.5 L218.6,483.6 L219.6,486.0 L220.6,488.5 L221.6,491.1 L222.6,493.8 L223.6,496.7 L224.6,499.6 L225.6,502.5 L226.6,505.5 L227.6,508.4 L228.6,511.4 L229.6,514.3 L230.6,517.2 L231.6,520.1 L232.6,522.9 L233.6,525.6 L234.6,528.3 L235.6,530.9 L236.6,533.4 L237.6,535.9 L238.6,538.2 L239.6,540.5 L240.6,542.8 L241.6,544.9 L242.6,546.9 L243.6,548.9 L244.6,550.8 L245.6,552.6 L246.6,554.4 L247.6,556.1 L248.6,557.7 L249.6,559.2 L250.6,560.7 L251.6,562.1 L252.6,563.5 L253.6,564.8 L254.6,566.0 L255.6,567.2 L256.6,568.3 L257.6,569.4 L258.6,570.4 L259.6,571.4 L260.6,572.3 L261.6,573.2 L262.6,574.1 L263.6,574.9 L264.6,575.7 L265.6,576.4 L266.6,577.1 L267.6,577.8 L268.6,578.5 L269.6,579.1 L270.6,579.7 L271.6,580.3 L272.6,580.8 L273.6,581.4 L274.6,581.9 L275.6,582.3 L276.6,582.8 L277.6,583.3 L278.6,583.7 L279.6,584.1 L280.6,584.5 L281.6,584.9 L282.6,585.2 L283.6,585.6 L284.6,585.9 L285.6,586.3 L286.6,586.6 L287.6,586.9 L288.6,587.2 L289.6,587.5 L290.6,587.7 L291.6,588.0 L292.6,588.3 L293.6,588.5 L294.6,588.8 L295.6,589.0 L296.6,589.2 L297.6,589.5 L298.6,589.7 L299.6,589.9 L300.6,590.1 L301.6,590.3 L302.6,590.5 L303.6,590.6 L304.6,590.8 L305.6,591.0 L306.6,591.2 L307.6,591.3 L308.6,591.5 L309.6,591.7 L310.6,591.8 L311.6,592.0 L312.6,592.1 L313.6,592.3 L314.6,592.4 L315.6,592.5 L316.6,592.7 L317.6,592.8 L318.6,592.9 L319.6,593.0 L320.6,593.2 L321.6,593.3 L322.6,593.4 L323.6,593.5 L324.6,593.6 L325.6,593.7 L326.6,593.8 L327.6,593.9 L328.6,594.0 L329.6,594.1 L330.6,594.2 L331.6,594.3 L332.6,594.4 L333.6,594.5 L334.6,594.6 L335.6,594.7 L336.6,594.8 L337.6,594.9 L338.6,595.0 L339.6,595.0 L340.6,595.1 L341.6,595.2 L342.6,595.3 L343.6,595.3 L344.6,595.4 L345.6,595.5 L346.6,595.6 L347.6,595.6 L348.6,595.7 L349.6,595.8 L350.6,595.8 L351.6,595.9 L352.6,596.0 L353.6,596.0 L354.6,596.1 L355.6,596.2 L356.6,596.2 L357.6,596.3 L358.6,596.3 L359.6,596.4 L360.6,596.4 L361.6,596.5 L362.6,596.6 L363.6,596.6 L364.6,596.7 L365.6,596.7 L366.6,596.8 L367.6,596.8 L368.6,596.9 L369.6,596.9 L370.6,597.0 L371.6,597.0 L372.6,597.1 L373.6,597.1 L374.6,597.2 L375.6,597.2 L376.6,597.3 L377.6,597.3 L378.6,597.3 L379.6,597.4 L380.6,597.4 L381.6,597.5 L382.6,597.5 L383.6,597.6 L384.6,597.6 L385.6,597.6 L386.6,597.7 L387.6,597.7 L388.6,597.7 L389.6,597.8 L390.6,597.8 L391.6,597.9 L392.6,597.9 L393.6,597.9 L394.6,598.0 L395.6,598.0 L396.6,598.0 L397.6,598.1 L398.6,598.1 L399.6,598.1 L400.6,598.2 L401.6,598.2 L402.6,598.3 L403.6,598.3 L404.6,598.3 L405.6,598.3 L406.6,598.4 L407.6,598.4 L408.6,598.4 L409.6,598.5 L410.6,598.5 L411.6,598.5 L412.6,598.6 L413.6,598.6 L414.6,598.6 L415.6,598.7 L416.6,598.7 L417.6,598.7 L418.6,598.7 L419.6,598.8 L420.6,598.8 L421.6,598.8 L422.6,598.9 L423.6,598.9 L424.6,598.9 L425.6,598.9 L426.6,599.0 L427.6,599.0 L428.6,599.0 L429.6,599.0 L430.6,599.1 L431.6,599.1 L432.6,599.1 L433.6,599.1 L434.6,599.2 L435.6,599.2 L436.6,599.2 L437.6,599.2 L438.6,599.3 L439.6,599.3 L440.6,599.3 L441.6,599.3 L442.6,599.4 L443.6,599.4 L444.6,599.4 L445.6,599.4 L446.6,599.5 L447.6,599.5 L448.6,599.5 L449.6,599.5 L450.6,599.5 L451.6,599.6 L452.6,599.6 L453.6,599.6 L454.6,599.6 L455.6,599.7 L456.6,599.7 L457.6,599.7 L458.6,599.7 L459.6,599.7 L460.6,599.8 L461.6,599.8 L462.6,599.8 L463.6,599.8 L464.6,599.9 L465.6,599.9 L466.6,599.9 L467.6,599.9 L468.6,599.9 L469.6,600.0 L470.6,600.0 L471.6,600.0 L472.6,600.0 L473.6,600.0 L474.6,600.1 L475.6,600.1 L476.6,600.1 L477.6,600.1 L478.6,600.1 L479.6,600.2 L480.6,600.2 L481.6,600.2 L482.6,600.2 L483.6,600.2 L484.6,600.2 L485.6,600.3 L486.6,600.3 L487.6,600.3 L488.6,600.3 L489.6,600.3 L490.6,600.4 L491.6,600.4 L492.6,600.4 L493.6,600.4 L494.6,600.4 L495.6,600.4 L496.6,600.5 L497.6,600.5 L498.6,600.5 L499.6,600.5 L500.6,600.5 L501.6,600.6 L502.6,600.6 L503.6,600.6 L504.6,600.6 L505.6,600.6 L506.6,600.6 L507.6,600.7 L508.6,600.7 L509.6,600.7 L510.6,600.7 L511.6,600.7 L512.6,600.7 L513.6,600.8 L514.6,600.8 L515.6,600.8 L516.6,600.8 L517.6,600.8 L518.6,600.8 L519.6,600.9 L520.6,600.9 L521.6,600.9 L522.6,600.9 L523.6,600.9 L524.6,600.9 L525.6,601.0 L526.6,601.0 L527.6,601.0 L528.6,601.0 L529.6,601.0 L530.6,601.0 L531.6,601.1 L532.6,601.1 L533.6,601.1 L534.6,601.1 L535.6,601.1 L536.6,601.1 L537.6,601.1 L538.6,601.2 L539.6,601.2 L540.6,601.2 L541.6,601.2 L542.6,601.2 L543.6,601.2 L544.6,601.3 L545.6,601.3 L546.6,601.3 L547.6,601.3 L548.6,601.3 L549.6,601.3 L550.6,601.3 L551.6,601.4 L552.6,601.4 L553.6,601.4 L554.6,601.4 L555.6,601.4 L556.6,601.4 L557.6,601.5 L558.6,601.5 L559.6,601.5 L560.6,601.5 L561.6,601.5 L562.6,601.5 L563.6,601.5 L564.6,601.6 L565.6,601.6 L566.6,601.6 L567.6,601.6 L568.6,601.6 L569.6,601.6 L570.6,601.6 L571.6,601.7 L572.6,601.7 L573.6,601.7 L574.6,601.7 L575.6,601.7 L576.6,601.7 L577.6,601.7 L578.6,601.8 L579.6,601.8 L580.6,601.8 L581.6,601.8 L582.6,601.8 L583.6,601.8 L584.6,601.8 L585.6,601.9 L586.6,601.9 L587.6,601.9 L588.6,601.9 L589.6,601.9 L590.6,601.9 L591.6,601.9 L592.6,602.0 L593.6,602.0" fill="none" stroke="#008000" stroke-width="3.3" stroke-linejoin="round"/>
<path d="M45.6,596.5 L46.6,596.5 L47.6,596.5 L48.6,596.5 L49.6,596.5 L50.6,596.5 L51.6,596.5 L52.6,596.5 L53.6,596.6 L54.6,596.6 L55.6,596.6 L56.6,596.6 L57.6,596.6 L58.6,596.6 L59.6,596.6 L60.6,596.6 L61.6,596.6 L62.6,596.7 L63.6,596.7 L64.6,596.7 L65.6,596.7 L66.6,596.7 L67.6,596.7 L68.6,596.7 L69.6,596.7 L70.6,596.7 L71.6,596.8 L72.6,596.8 L73.6,596.8 L74.6,596.8 L75.6,596.8 L76.6,596.8 L77.6,596.8 L78.6,596.8 L79.6,596.8 L80.6,596.9 L81.6,596.9 L82.6,596.9 L83.6,596.9 L84.6,596.9 L85.6,596.9 L86.6,596.9 L87.6,596.9 L88.6,596.9 L89.6,597.0 L90.6,597.0 L91.6,597.0 L92.6,597.0 L93.6,597.0 L94.6,597.0 L95.6,597.0 L96.6,597.0 L97.6,597.0 L98.6,597.0 L99.6,597.1 L100.6,597.1 L101.6,597.1 L102.6,597.1 L103.6,597.1 L104.6,597.1 L105.6,597.1 L106.6,597.1 L107.6,597.1 L108.6,597.2 L109.6,597.2 L110.6,597.2 L111.6,597.2 L112.6,597.2 L113.6,597.2 L114.6,597.2 L115.6,597.2 L116.6,597.2 L117.6,597.3 L118.6,597.3 L119.6,597.3 L120.6,597.3 L121.6,597.3 L122.6,597.3 L123.6,597.3 L124.6,597.3 L125.6,597.3 L126.6,597.4 L127.6,597.4 L128.6,597.4 L129.6,597.4 L130.6,597.4 L131.6,597.4 L132.6,597.4 L133.6,597.4 L134.6,597.4 L135.6,597.5 L136.6,597.5 L137.6,597.5 L138.6,597.5 L139.6,597.5 L140.6,597.5 L141.6,597.5 L142.6,597.5 L143.6,597.5 L144.6,597.5 L145.6,597.6 L146.6,597.6 L147.6,597.6 L148.6,597.6 L149.6,597.6 L150.6,597.6 L151.6,597.6 L152.6,597.6 L153.6,597.6 L154.6,597.7 L155.6,597.7 L156.6,597.7 L157.6,597.7 L158.6,597.7 L159.6,597.7 L160.6,597.7 L161.6,597.7 L162.6,597.7 L163.6,597.8 L164.6,597.8 L165.6,597.8 L166.6,597.8 L167.6,597.8 L168.6,597.8 L169.6,597.8 L170.6,597.8 L171.6,597.8 L172.6,597.8 L173.6,597.9 L174.6,597.9 L175.6,597.9 L176.6,597.9 L177.6,597.9 L178.6,597.9 L179.6,597.9 L180.6,597.9 L181.6,597.9 L182.6,598.0 L183.6,598.0 L184.6,598.0 L185.6,598.0 L186.6,598.0 L187.6,598.0 L188.6,598.0 L189.6,598.0 L190.6,598.0 L191.6,598.1 L192.6,598.1 L193.6,598.1 L194.6,598.1 L195.6,598.1 L196.6,598.1 L197.6,598.1 L198.6,598.1 L199.6,598.1 L200.6,598.1 L201.6,598.2 L202.6,598.2 L203.6,598.2 L204.6,598.2 L205.6,598.2 L206.6,598.2 L207.6,598.2 L208.6,598.2 L209.6,598.2 L210.6,598.3 L211.6,598.3 L212.6,598.3 L213.6,598.3 L214.6,598.3 L215.6,598.3 L216.6,598.3 L217.6,598.3 L218.6,598.3 L219.6,598.3 L220.6,598.4 L221.6,598.4 L222.6,598.4 L223.6,598.4 L224.6,598.4 L225.6,598.4 L226.6,598.4 L227.6,598.4 L228.6,598.4 L229.6,598.5 L230.6,598.5 L231.6,598.5 L232.6,598.5 L233.6,598.5 L234.6,598.5 L235.6,598.5 L236.6,598.5 L237.6,598.5 L238.6,598.5 L239.6,598.6 L240.6,598.6 L241.6,598.6 L242.6,598.6 L243.6,598.6 L244.6,598.6 L245.6,598.6 L246.6,598.6 L247.6,598.6 L248.6,598.6 L249.6,598.7 L250.6,598.7 L251.6,598.7 L252.6,598.7 L253.6,598.7 L254.6,598.7 L255.6,598.7 L256.6,598.7 L257.6,598.7 L258.6,598.7 L259.6,598.8 L260.6,598.8 L261.6,598.8 L262.6,598.8 L263.6,598.8 L264.6,598.8 L265.6,598.8 L266.6,598.8 L267.6,598.8 L268.6,598.8 L269.6,598.9 L270.6,598.9 L271.6,598.9 L272.6,598.9 L273.6,598.9 L274.6,598.9 L275.6,598.9 L276.6,598.9 L277.6,598.9 L278.6,598.9 L279.6,599.0 L280.6,599.0 L281.6,599.0 L282.6,599.0 L283.6,599.0 L284.6,599.0 L285.6,599.0 L286.6,599.0 L287.6,599.0 L288.6,599.0 L289.6,599.1 L290.6,599.1 L291.6,599.1 L292.6,599.1 L293.6,599.1 L294.6,599.1 L295.6,599.1 L296.6,599.1 L297.6,599.1 L298.6,599.1 L299.6,599.1 L300.6,599.2 L301.6,599.2 L302.6,599.2 L303.6,599.2 L304.6,599.2 L305.6,599.2 L306.6,599.2 L307.6,599.2 L308.6,599.2 L309.6,599.2 L310.6,599.2 L311.6,599.2 L312.6,599.3 L313.6,599.3 L314.6,599.3 L315.6,599.3 L316.6,599.3 L317.6,599.3 L318.6,599.3 L319.6,599.3 L320.6,599.3 L321.6,599.3 L322.6,599.3 L323.6,599.3 L324.6,599.3 L325.6,599.4 L326.6,599.4 L327.6,599.4 L328.6,599.4 L329.6,599.4 L330.6,599.4 L331.6,599.4 L332.6,599.4 L333.6,599.4 L334.6,599.4 L335.6,599.4 L336.6,599.4 L337.6,599.4 L338.6,599.4 L339.6,599.4 L340.6,599.4 L341.6,599.4 L342.6,599.5 L343.6,599.5 L344.6,599.5 L345.6,599.5 L346.6,599.5 L347.6,599.5 L348.6,599.5 L349.6,599.5 L350.6,599.5 L351.6,599.5 L352.6,599.5 L353.6,599.5 L354.6,599.5 L355.6,599.5 L356.6,599.5 L357.6,599.5 L358.6,599.5 L359.6,599.5 L360.6,599.5 L361.6,599.5 L362.6,599.5 L363.6,599.5 L364.6,599.5 L365.6,599.5 L366.6,599.5 L367.6,599.5 L368.6,599.5 L369.6,599.4 L370.6,599.4 L371.6,599.4 L372.6,599.4 L373.6,599.4 L374.6,599.4 L375.6,599.4 L376.6,599.4 L377.6,599.3 L378.6,599.3 L379.6,599.3 L380.6,599.3 L381.6,599.3 L382.6,599.2 L383.6,599.2 L384.6,599.2 L385.6,599.2 L386.6,599.1 L387.6,599.1 L388.6,599.1 L389.6,599.0 L390.6,599.0 L391.6,598.9 L392.6,598.9 L393.6,598.8 L394.6,598.7 L395.6,598.7 L396.6,598.6 L397.6,598.5 L398.6,598.4 L399.6,598.3 L400.6,598.2 L401.6,598.1 L402.6,598.0 L403.6,597.9 L404.6,597.7 L405.6,597.5 L406.6,597.3 L407.6,597.1 L408.6,596.9 L409.6,596.6 L410.6,596.3 L411.6,595.9 L412.6,595.5 L413.6,595.0 L414.6,594.4 L415.6,593.7 L416.6,592.9 L417.6,592.0 L418.6,590.8 L419.6,589.5 L420.6,588.0 L421.6,586.2 L422.6,584.2 L423.6,581.9 L424.6,579.3 L425.6,576.5 L426.6,573.5 L427.6,570.2 L428.6,566.9 L429.6,563.7 L430.6,560.6 L431.6,558.0 L432.6,556.0 L433.6,554.9 L434.6,554.9 L435.6,555.8 L436.6,557.6 L437.6,560.1 L438.6,563.1 L439.6,566.4 L440.6,569.7 L441.6,573.0 L442.6,576.1 L443.6,579.0 L444.6,581.6 L445.6,584.0 L446.6,586.1 L447.6,587.9 L448.6,589.5 L449.6,590.9 L450.6,592.1 L451.6,593.1 L452.6,594.0 L453.6,594.7 L454.6,595.4 L455.6,595.9 L456.6,596.3 L457.6,596.7 L458.6,597.1 L459.6,597.4 L460.6,597.7 L461.6,597.9 L462.6,598.1 L463.6,598.3 L464.6,598.5 L465.6,598.7 L466.6,598.8 L467.6,599.0 L468.6,599.1 L469.6,599.2 L470.6,599.3 L471.6,599.4 L472.6,599.5 L473.6,599.6 L474.6,599.7 L475.6,599.8 L476.6,599.8 L477.6,599.9 L478.6,600.0 L479.6,600.0 L480.6,600.1 L481.6,600.2 L482.6,600.2 L483.6,600.3 L484.6,600.3 L485.6,600.4 L486.6,600.4 L487.6,600.5 L488.6,600.5 L489.6,600.5 L490.6,600.6 L491.6,600.6 L492.6,600.7 L493.6,600.7 L494.6,600.7 L495.6,600.8 L496.6,600.8 L497.6,600.8 L498.6,600.9 L499.6,600.9 L500.6,600.9 L501.6,600.9 L502.6,601.0 L503.6,601.0 L504.6,601.0 L505.6,601.0 L506.6,601.1 L507.6,601.1 L508.6,601.1 L509.6,601.1 L510.6,601.2 L511.6,601.2 L512.6,601.2 L513.6,601.2 L514.6,601.3 L515.6,601.3 L516.6,601.3 L517.6,601.3 L518.6,601.3 L519.6,601.4 L520.6,601.4 L521.6,601.4 L522.6,601.4 L523.6,601.4 L524.6,601.4 L525.6,601.5 L526.6,601.5 L527.6,601.5 L528.6,601.5 L529.6,601.5 L530.6,601.6 L531.6,601.6 L532.6,601.6 L533.6,601.6 L534.6,601.6 L535.6,601.6 L536.6,601.6 L537.6,601.7 L538.6,601.7 L539.6,601.7 L540.6,601.7 L541.6,601.7 L542.6,601.7 L543.6,601.8 L544.6,601.8 L545.6,601.8 L546.6,601.8 L547.6,601.8 L548.6,601.8 L549.6,601.8 L550.6,601.9 L551.6,601.9 L552.6,601.9 L553.6,601.9 L554.6,601.9 L555.6,601.9 L556.6,601.9 L557.6,602.0 L558.6,602.0 L559.6,602.0 L560.6,602.0 L561.6,602.0 L562.6,602.0 L563.6,602.0 L564.6,602.1 L565.6,602.1 L566.6,602.1 L567.6,602.1 L568.6,602.1 L569.6,602.1 L570.6,602.1 L571.6,602.1 L572.6,602.2 L573.6,602.2 L574.6,602.2 L575.6,602.2 L576.6,602.2 L577.6,602.2 L578.6,602.2 L579.6,602.2 L580.6,602.3 L581.6,602.3 L582.6,602.3 L583.6,602.3 L584.6,602.3 L585.6,602.3 L586.6,602.3 L587.6,602.3 L588.6,602.4 L589.6,602.4 L590.6,602.4 L591.6,602.4 L592.6,602.4 L593.6,602.4" fill="none" stroke="#0000ff" stroke-width="3.3" stroke-linejoin="round"/>
<path d="M45.6,596.3 L46.6,596.4 L47.6,596.4 L48.6,596.4 L49.6,596.4 L50.6,596.4 L51.6,596.4 L52.6,596.4 L53.6,596.4 L54.6,596.4 L55.6,596.5 L56.6,596.5 L57.6,596.5 L58.6,596.5 L59.6,596.5 L60.6,596.5 L61.6,596.5 L62.6,596.5 L63.6,596.5 L64.6,596.5 L65.6,596.6 L66.6,596.6 L67.6,596.6 L68.6,596.6 L69.6,596.6 L70.6,596.6 L71.6,596.6 L72.6,596.6 L73.6,596.6 L74.6,596.6 L75.6,596.7 L76.6,596.7 L77.6,596.7 L78.6,596.7 L79.6,596.7 L80.6,596.7 L81.6,596.7 L82.6,596.7 L83.6,596.7 L84.6,596.7 L85.6,596.8 L86.6,596.8 L87.6,596.8 L88.6,596.8 L89.6,596.8 L90.6,596.8 L91.6,596.8 L92.6,596.8 L93.6,596.8 L94.6,596.8 L95.6,596.9 L96.6,596.9 L97.6,596.9 L98.6,596.9 L99.6,596.9 L100.6,596.9 L101.6,596.9 L102.6,596.9 L103.6,596.9 L104.6,596.9 L105.6,596.9 L106.6,597.0 L107.6,597.0 L108.6,597.0 L109.6,597.0 L110.6,597.0 L111.6,597.0 L112.6,597.0 L113.6,597.0 L114.6,597.0 L115.6,597.0 L116.6,597.1 L117.6,597.1 L118.6,597.1 L119.6,597.1 L120.6,597.1 L121.6,597.1 L122.6,597.1 L123.6,597.1 L124.6,597.1 L125.6,597.1 L126.6,597.1 L127.6,597.2 L128.6,597.2 L129.6,597.2 L130.6,597.2 L131.6,597.2 L132.6,597.2 L133.6,597.2 L134.6,597.2 L135.6,597.2 L136.6,597.2 L137.6,597.3 L138.6,597.3 L139.6,597.3 L140.6,597.3 L141.6,597.3 L142.6,597.3 L143.6,597.3 L144.6,597.3 L145.6,597.3 L146.6,597.3 L147.6,597.3 L148.6,597.4 L149.6,597.4 L150.6,597.4 L151.6,597.4 L152.6,597.4 L153.6,597.4 L154.6,597.4 L155.6,597.4 L156.6,597.4 L157.6,597.4 L158.6,597.4 L159.6,597.4 L160.6,597.5 L161.6,597.5 L162.6,597.5 L163.6,597.5 L164.6,597.5 L165.6,597.5 L166.6,597.5 L167.6,597.5 L168.6,597.5 L169.6,597.5 L170.6,597.5 L171.6,597.5 L172.6,597.6 L173.6,597.6 L174.6,597.6 L175.6,597.6 L176.6,597.6 L177.6,597.6 L178.6,597.6 L179.6,597.6 L180.6,597.6 L181.6,597.6 L182.6,597.6 L183.6,597.6 L184.6,597.7 L185.6,597.7 L186.6,597.7 L187.6,597.7 L188.6,597.7 L189.6,597.7 L190.6,597.7 L191.6,597.7 L192.6,597.7 L193.6,597.7 L194.6,597.7 L195.6,597.7 L196.6,597.7 L197.6,597.7 L198.6,597.8 L199.6,597.8 L200.6,597.8 L201.6,597.8 L202.6,597.8 L203.6,597.8 L204.6,597.8 L205.6,597.8 L206.6,597.8 L207.6,597.8 L208.6,597.8 L209.6,597.8 L210.6,597.8 L211.6,597.8 L212.6,597.8 L213.6,597.9 L214.6,597.9 L215.6,597.9 L216.6,597.9 L217.6,597.9 L218.6,597.9 L219.6,597.9 L220.6,597.9 L221.6,597.9 L222.6,597.9 L223.6,597.9 L224.6,597.9 L225.6,597.9 L226.6,597.9 L227.6,597.9 L228.6,597.9 L229.6,597.9 L230.6,597.9 L231.6,598.0 L232.6,598.0 L233.6,598.0 L234.6,598.0 L235.6,598.0 L236.6,598.0 L237.6,598.0 L238.6,598.0 L239.6,598.0 L240.6,598.0 L241.6,598.0 L242.6,598.0 L243.6,598.0 L244.6,598.0 L245.6,598.0 L246.6,598.0 L247.6,598.0 L248.6,598.0 L249.6,598.0 L250.6,598.0 L251.6,598.0 L252.6,598.0 L253.6,598.0 L254.6,598.0 L255.6,598.0 L256.6,598.0 L257.6,598.0 L258.6,598.0 L259.6,598.0 L260.6,598.0 L261.6,598.0 L262.6,598.0 L263.6,598.0 L264.6,598.0 L265.6,598.0 L266.6,598.0 L267.6,598.0 L268.6,598.0 L269.6,598.0 L270.6,598.0 L271.6,598.0 L272.6,598.0 L273.6,598.0 L274.6,598.0 L275.6,598.0 L276.6,598.0 L277.6,598.0 L278.6,598.0 L279.6,598.0 L280.6,598.0 L281.6,598.0 L282.6,597.9 L283.6,597.9 L284.6,597.9 L285.6,597.9 L286.6,597.9 L287.6,597.9 L288.6,597.9 L289.6,597.9 L290.6,597.9 L291.6,597.9 L292.6,597.9 L293.6,597.8 L294.6,597.8 L295.6,597.8 L296.6,597.8 L297.6,597.8 L298.6,597.8 L299.6,597.8 L300.6,597.7 L301.6,597.7 L302.6,597.7 L303.6,597.7 L304.6,597.7 L305.6,597.6 L306.6,597.6 L307.6,597.6 L308.6,597.6 L309.6,597.5 L310.6,597.5 L311.6,597.5 L312.6,597.5 L313.6,597.4 L314.6,597.4 L315.6,597.4 L316.6,597.3 L317.6,597.3 L318.6,597.3 L319.6,597.2 L320.6,597.2 L321.6,597.1 L322.6,597.1 L323.6,597.1 L324.6,597.0 L325.6,597.0 L326.6,596.9 L327.6,596.9 L328.6,596.8 L329.6,596.8 L330.6,596.7 L331.6,596.6 L332.6,596.6 L333.6,596.5 L334.6,596.4 L335.6,596.3 L336.6,596.3 L337.6,596.2 L338.6,596.1 L339.6,596.0 L340.6,595.9 L341.6,595.8 L342.6,595.7 L343.6,595.6 L344.6,595.5 L345.6,595.4 L346.6,595.2 L347.6,595.1 L348.6,594.9 L349.6,594.8 L350.6,594.6 L351.6,594.4 L352.6,594.3 L353.6,594.1 L354.6,593.8 L355.6,593.6 L356.6,593.4 L357.6,593.1 L358.6,592.8 L359.6,592.5 L360.6,592.1 L361.6,591.7 L362.6,591.3 L363.6,590.9 L364.6,590.4 L365.6,589.9 L366.6,589.3 L367.6,588.7 L368.6,588.0 L369.6,587.3 L370.6,586.5 L371.6,585.6 L372.6,584.7 L373.6,583.7 L374.6,582.6 L375.6,581.5 L376.6,580.2 L377.6,578.9 L378.6,577.4 L379.6,575.9 L380.6,574.3 L381.6,572.5 L382.6,570.7 L383.6,568.7 L384.6,566.7 L385.6,564.6 L386.6,562.3 L387.6,560.0 L388.6,557.6 L389.6,555.1 L390.6,552.6 L391.6,550.0 L392.6,547.3 L393.6,544.6 L394.6,542.0 L395.6,539.3 L396.6,536.7 L397.6,534.2 L398.6,531.8 L399.6,529.5 L400.6,527.4 L401.6,525.5 L402.6,523.9 L403.6,522.5 L404.6,521.5 L405.6,520.8 L406.6,520.5 L407.6,520.5 L408.6,521.0 L409.6,521.7 L410.6,522.8 L411.6,524.3 L412.6,526.0 L413.6,527.9 L414.6,530.1 L415.6,532.4 L416.6,534.9 L417.6,537.5 L418.6,540.1 L419.6,542.8 L420.6,545.5 L421.6,548.2 L422.6,550.8 L423.6,553.5 L424.6,556.0 L425.6,558.5 L426.6,560.9 L427.6,563.2 L428.6,565.5 L429.6,567.6 L430.6,569.7 L431.6,571.6 L432.6,573.4 L433.6,575.2 L434.6,576.8 L435.6,578.3 L436.6,579.8 L437.6,581.1 L438.6,582.4 L439.6,583.6 L440.6,584.7 L441.6,585.7 L442.6,586.6 L443.6,587.5 L444.6,588.3 L445.6,589.0 L446.6,589.7 L447.6,590.3 L448.6,590.9 L449.6,591.5 L450.6,591.9 L451.6,592.4 L452.6,592.8 L453.6,593.2 L454.6,593.6 L455.6,593.9 L456.6,594.2 L457.6,594.5 L458.6,594.8 L459.6,595.0 L460.6,595.3 L461.6,595.5 L462.6,595.7 L463.6,595.9 L464.6,596.1 L465.6,596.3 L466.6,596.4 L467.6,596.6 L468.6,596.7 L469.6,596.9 L470.6,597.0 L471.6,597.2 L472.6,597.3 L473.6,597.4 L474.6,597.5 L475.6,597.6 L476.6,597.7 L477.6,597.8 L478.6,597.9 L479.6,598.0 L480.6,598.1 L481.6,598.2 L482.6,598.3 L483.6,598.4 L484.6,598.5 L485.6,598.5 L486.6,598.6 L487.6,598.7 L488.6,598.8 L489.6,598.8 L490.6,598.9 L491.6,599.0 L492.6,599.0 L493.6,599.1 L494.6,599.2 L495.6,599.2 L496.6,599.3 L497.6,599.3 L498.6,599.4 L499.6,599.4 L500.6,599.5 L501.6,599.6 L502.6,599.6 L503.6,599.7 L504.6,599.7 L505.6,599.7 L506.6,599.8 L507.6,599.8 L508.6,599.9 L509.6,599.9 L510.6,600.0 L511.6,600.0 L512.6,600.0 L513.6,600.1 L514.6,600.1 L515.6,600.2 L516.6,600.2 L517.6,600.2 L518.6,600.3 L519.6,600.3 L520.6,600.3 L521.6,600.4 L522.6,600.4 L523.6,600.4 L524.6,600.5 L525.6,600.5 L526.6,600.5 L527.6,600.6 L528.6,600.6 L529.6,600.6 L530.6,600.7 L531.6,600.7 L532.6,600.7 L533.6,600.7 L534.6,600.8 L535.6,600.8 L536.6,600.8 L537.6,600.9 L538.6,600.9 L539.6,600.9 L540.6,600.9 L541.6,601.0 L542.6,601.0 L543.6,601.0 L544.6,601.0 L545.6,601.1 L546.6,601.1 L547.6,601.1 L548.6,601.1 L549.6,601.2 L550.6,601.2 L551.6,601.2 L552.6,601.2 L553.6,601.2 L554.6,601.3 L555.6,601.3 L556.6,601.3 L557.6,601.3 L558.6,601.4 L559.6,601.4 L560.6,601.4 L561.6,601.4 L562.6,601.4 L563.6,601.5 L564.6,601.5 L565.6,601.5 L566.6,601.5 L567.6,601.5 L568.6,601.6 L569.6,601.6 L570.6,601.6 L571.6,601.6 L572.6,601.6 L573.6,601.7 L574.6,601.7 L575.6,601.7 L576.6,601.7 L577.6,601.7 L578.6,601.7 L579.6,601.8 L580.6,601.8 L581.6,601.8 L582.6,601.8 L583.6,601.8 L584.6,601.9 L585.6,601.9 L586.6,601.9 L587.6,601.9 L588.6,601.9 L589.6,601.9 L590.6,602.0 L591.6,602.0 L592.6,602.0 L593.6,602.0" fill="none" stroke="#ff0000" stroke-width="3.3" stroke-linejoin="round"/>
<ellipse cx="211.3" cy="464.8" rx="2.6" ry="1.7" fill="#000"/>
</g>
<line x1="88.4" x2="88.4" y1="612.3" y2="620.8" stroke="#000" stroke-width="3.4" stroke-linecap="round"/>
<line x1="172.3" x2="172.3" y1="612.3" y2="616.4" stroke="#000" stroke-width="3.4" stroke-linecap="round"/>
<line x1="256.1" x2="256.1" y1="612.3" y2="620.8" stroke="#000" stroke-width="3.4" stroke-linecap="round"/>
<line x1="340.0" x2="340.0" y1="612.3" y2="616.4" stroke="#000" stroke-width="3.4" stroke-linecap="round"/>
<line x1="423.9" x2="423.9" y1="612.3" y2="620.8" stroke="#000" stroke-width="3.4" stroke-linecap="round"/>
<line x1="507.7" x2="507.7" y1="612.3" y2="616.4" stroke="#000" stroke-width="3.4" stroke-linecap="round"/>
<line x1="591.6" x2="591.6" y1="612.3" y2="620.8" stroke="#000" stroke-width="3.4" stroke-linecap="round"/>
<text x="88.4" y="655.9" font-size="29" text-anchor="middle">1200</text>
<text x="256.1" y="655.9" font-size="29" text-anchor="middle">1400</text>
<text x="423.9" y="655.9" font-size="29" text-anchor="middle">1600</text>
<text x="591.6" y="655.9" font-size="29" text-anchor="middle">1800</text>
<text x="319.3" y="703.7" font-size="29.3" text-anchor="middle">Raman shift (cm<tspan font-size="19.5" dy="-12">−1</tspan><tspan dy="12">)</tspan></text>
<text transform="translate(23.7,323) rotate(-90)" font-size="29" text-anchor="middle">Intensity</text>
<text x="82" y="76.5" font-size="29" style="color:#00a651">D band</text>
<text x="276.2" y="76.5" font-size="29" style="color:#0a32ff">G band</text>
<text x="455" y="76.5" font-size="29.3" style="color:#ff1a1a">D′ band</text>
<text x="570.3" y="175.4" font-size="29" text-anchor="end">OCNT</text>
<text x="569.7" y="294.3" font-size="29.5" text-anchor="end">Pd<tspan font-family='"Liberation Serif", serif' font-size="22.5" dy="-11.5" style="stroke-width:0.5px">δ</tspan><tspan font-size="21">+</tspan><tspan dy="11.5">-OCNT</tspan></text>
<text x="569.6" y="475" font-size="29" text-anchor="end">H-Pd-OCNT</text>
<text x="-1" y="33.5" font-size="42" font-weight="bold">a</text>
</g>
<g id="panel-b">
<rect x="724" y="31.8" width="105.9" height="577.9" fill="#d6d6d6"/>
<rect x="864.9" y="31.8" width="117.4" height="577.9" fill="#ffd8b0"/>
<rect x="984.8" y="31.8" width="41.4" height="577.9" fill="#d4f7b6"/>
<rect x="1054.1" y="31.8" width="59.2" height="577.9" fill="#b2f0fa"/>
<rect x="1121.2" y="31.8" width="124.4" height="577.9" fill="#fcd8f3"/>
<path d="M697.7,214.2 L698.5,214.1 L699.6,214.0 L701.0,213.8 L702.5,213.7 L704.0,213.5 L705.5,213.5 L707.0,213.5 L708.7,213.6 L710.4,213.6 L712.1,213.8 L713.8,214.0 L715.4,214.2 L716.9,214.5 L718.4,214.8 L719.8,215.2 L721.2,215.7 L722.5,216.2 L723.8,216.9 L725.0,217.7 L726.1,218.6 L727.1,219.6 L728.1,220.7 L729.1,221.9 L730.1,223.0 L731.2,224.2 L732.2,225.5 L733.3,226.8 L734.4,228.1 L735.4,229.5 L736.5,230.7 L737.6,231.9 L738.6,233.0 L739.6,234.2 L740.7,235.3 L741.7,236.4 L742.8,237.5 L743.8,238.6 L744.9,239.7 L745.9,240.8 L747.0,241.9 L748.1,243.0 L749.2,244.1 L750.4,245.3 L751.7,246.6 L753.1,247.9 L754.4,249.1 L755.7,250.2 L756.9,251.1 L758.0,251.8 L759.2,252.3 L760.2,252.7 L761.2,253.0 L762.2,253.2 L763.2,253.5 L764.1,253.8 L765.0,254.1 L765.8,254.3 L766.6,254.5 L767.4,254.5 L768.2,254.4 L769.0,254.1 L769.8,253.7 L770.6,253.2 L771.4,252.6 L772.2,251.9 L773.1,251.1 L774.0,250.3 L774.9,249.3 L775.8,248.3 L776.7,247.3 L777.7,246.2 L778.7,245.1 L779.7,244.0 L780.8,242.8 L781.9,241.5 L782.9,240.3 L784.0,239.1 L785.1,238.0 L786.2,236.9 L787.2,235.9 L788.3,234.9 L789.3,233.9 L790.4,233.0 L791.4,232.1 L792.4,231.2 L793.5,230.4 L794.5,229.7 L795.5,228.9 L796.6,228.1 L797.7,227.2 L798.8,226.2 L800.0,225.2 L801.2,224.2 L802.4,223.1 L803.6,221.9 L804.8,220.8 L806.0,219.6 L807.2,218.4 L808.3,217.2 L809.5,215.9 L810.7,214.7 L811.8,213.5 L812.9,212.3 L813.9,211.2 L815.0,210.1 L816.0,209.0 L817.1,207.9 L818.2,206.8 L819.4,205.6 L820.8,204.4 L822.3,203.2 L823.6,202.0 L824.7,201.1 L825.5,200.4" fill="none" stroke="#4a90f5" stroke-width="3.4" stroke-linejoin="round" stroke-linecap="round" stroke-dasharray="6 7 0.1 6.5"/>
<path d="M838.4,160.6 L839.8,160.3 L841.7,159.9 L844.0,159.5 L846.6,159.0 L849.1,158.4 L851.5,157.8 L853.8,157.2 L856.2,156.5 L858.6,155.7 L861.1,154.9 L863.5,154.2 L865.9,153.4 L868.3,152.7 L870.7,151.9 L873.1,151.2 L875.5,150.4 L877.9,149.6 L880.3,148.7 L882.7,147.7 L885.1,146.7 L887.4,145.6 L889.8,144.4 L892.2,143.3 L894.6,142.2 L897.0,141.1 L899.5,140.0 L901.9,138.8 L904.4,137.7 L906.7,136.6 L909.0,135.5 L911.2,134.4 L913.4,133.4 L915.5,132.3 L917.4,131.3 L919.3,130.4 L921.0,129.5 L922.5,128.7 L923.8,128.0 L925.0,127.4 L926.1,126.8 L927.1,126.3 L928.2,125.9 L929.3,125.6 L930.3,125.4 L931.3,125.2 L932.3,125.2 L933.2,125.3 L934.1,125.4 L934.9,125.7 L935.7,126.0 L936.5,126.4 L937.3,127.0 L938.0,127.6 L938.9,128.3 L939.8,129.1 L940.8,130.1 L941.7,131.1 L942.8,132.2 L943.8,133.3 L944.9,134.3 L946.0,135.3 L947.2,136.3 L948.4,137.2 L949.6,138.2 L950.8,139.0 L952.1,139.8 L953.4,140.4 L954.8,141.0 L956.2,141.4 L957.7,141.9 L959.1,142.3 L960.5,142.7 L961.9,143.1 L963.4,143.4 L964.9,143.7 L966.3,144.1 L967.6,144.5 L968.9,145.1 L970.0,145.9 L971.1,146.7 L972.1,147.7 L973.0,148.7 L973.9,149.8 L974.8,151.0 L975.7,152.2 L976.5,153.6 L977.3,155.0 L978.0,156.4 L978.8,157.9 L979.6,159.4 L980.4,161.0 L981.2,162.6 L982.0,164.3 L982.8,165.9 L983.6,167.5 L984.4,169.0 L985.2,170.4 L985.9,171.7 L986.6,173.0 L987.3,174.2 L988.2,175.3 L989.2,176.2 L990.4,176.9 L991.7,177.5 L993.1,177.9 L994.6,178.3 L996.1,178.7 L997.6,179.1 L999.1,179.7 L1000.8,180.5 L1002.4,181.4 L1004.0,182.0 L1005.5,182.3 L1006.7,182.2 L1007.7,181.5 L1008.4,180.4 L1009.0,178.9 L1009.6,177.3 L1010.1,175.5 L1010.8,173.8 L1011.5,172.0 L1012.3,169.9 L1013.0,167.8 L1013.8,165.6 L1014.6,163.6 L1015.5,161.8 L1016.4,160.3 L1017.3,158.9 L1018.2,157.7 L1019.2,156.5 L1020.3,155.4 L1021.5,154.2 L1022.9,152.9 L1024.4,151.6 L1026.1,150.3 L1027.8,149.1 L1029.5,148.0 L1031.1,147.0 L1032.7,146.2 L1034.3,145.6 L1035.9,145.0 L1037.6,144.6 L1039.1,144.2 L1040.7,143.9 L1042.2,143.7 L1043.7,143.5 L1045.2,143.5 L1046.7,143.5 L1048.2,143.6 L1049.6,143.7 L1051.0,143.8 L1052.4,144.0 L1053.8,144.1 L1055.2,144.4 L1056.6,144.9 L1058.0,145.5 L1059.4,146.4 L1060.7,147.4 L1062.1,148.6 L1063.4,150.0 L1064.8,151.3 L1066.3,152.7 L1067.8,154.1 L1069.4,155.5 L1071.0,157.0 L1072.7,158.6 L1074.3,160.2 L1075.9,161.8 L1077.6,163.5 L1079.4,165.4 L1081.1,167.3 L1082.8,169.2 L1084.3,171.0 L1085.5,172.6 L1086.4,174.1 L1087.0,175.4 L1087.3,176.7 L1087.6,177.9 L1087.8,178.8 L1088.0,179.5" fill="none" stroke="#4a90f5" stroke-width="3.4" stroke-linejoin="round" stroke-linecap="round" stroke-dasharray="6 7 0.1 6.5"/>
<path d="M1089.6,179.5 L1089.7,178.6 L1089.8,177.5 L1090.0,176.1 L1090.1,174.6 L1090.4,173.0 L1090.6,171.4 L1090.9,169.7 L1091.1,167.8 L1091.4,165.9 L1091.8,164.0 L1092.2,162.2 L1092.7,160.6 L1093.3,159.3 L1093.8,158.2 L1094.5,157.1 L1095.3,156.2 L1096.3,155.2 L1097.5,154.2 L1099.1,153.1 L1101.1,152.1 L1103.3,151.0 L1105.5,149.9 L1107.6,148.7 L1109.4,147.5 L1110.9,146.2 L1112.2,144.7 L1113.4,143.2 L1114.5,141.7 L1115.5,140.4 L1116.6,139.1 L1117.6,138.0 L1118.5,136.9 L1119.4,135.9 L1120.3,135.0 L1121.3,134.2 L1122.6,133.6 L1124.1,133.1 L1125.8,132.8 L1127.6,132.6 L1129.5,132.6 L1131.5,132.6 L1133.4,132.6 L1135.3,132.7 L1137.3,132.9 L1139.3,133.2 L1141.3,133.6 L1143.3,133.9 L1145.3,134.3 L1147.3,134.7 L1149.3,135.2 L1151.3,135.6 L1153.3,136.1 L1155.3,136.5 L1157.3,136.7 L1159.3,136.8 L1161.2,136.8 L1163.2,136.7 L1165.1,136.6 L1167.2,136.4 L1169.3,136.2 L1171.6,135.9 L1173.9,135.6 L1176.4,135.1 L1178.8,134.8 L1181.3,134.5 L1183.6,134.3 L1185.9,134.4 L1188.3,134.7 L1190.6,135.2 L1192.9,135.5 L1195.0,135.7 L1196.8,135.5 L1198.3,135.0 L1199.6,134.2 L1200.7,133.2 L1201.7,132.0 L1202.8,130.8 L1204.0,129.5 L1205.3,128.1 L1206.6,126.6 L1207.9,124.9 L1209.3,123.2 L1210.8,121.5 L1212.4,119.9 L1214.2,118.3 L1216.1,116.6 L1218.1,114.9 L1220.2,113.3 L1222.3,111.7 L1224.3,110.3 L1226.3,109.0 L1228.4,107.9 L1230.4,106.8 L1232.5,105.8 L1234.4,104.8 L1236.3,103.9 L1238.1,103.0 L1240.0,102.2 L1241.9,101.4 L1243.5,100.6 L1244.9,100.0 L1245.9,99.6" fill="none" stroke="#4a90f5" stroke-width="3.4" stroke-linejoin="round" stroke-linecap="round" stroke-dasharray="6 7 0.1 6.5"/>
<line x1="1088.6" y1="178" x2="1088.7" y2="247" stroke="#4a90f5" stroke-width="4.4" stroke-linecap="round" stroke-dasharray="7 6.5 0.1 6.5"/>
<path d="M695.6,475.4 L696.8,474.8 L698.0,473.8 L699.2,472.9 L700.5,472.5 L701.9,471.9 L703.2,472.2 L704.6,472.6 L706.0,471.7 L707.4,471.6 L708.8,472.2 L710.2,472.2 L711.6,472.3 L713.0,472.1 L714.4,472.8 L715.7,473.4 L717.1,472.9 L718.4,473.8 L719.7,473.7 L720.9,474.6 L722.1,475.1 L723.3,476.6 L724.5,476.9 L725.6,478.3 L726.8,479.0 L728.0,479.7 L729.1,479.4 L730.3,481.1 L731.4,482.1 L732.6,482.9 L733.7,483.0 L734.9,484.3 L736.1,484.8 L737.2,485.7 L738.4,487.3 L739.6,487.2 L740.7,488.3 L741.9,489.5 L743.1,489.5 L744.3,490.4 L745.6,491.2 L746.8,491.9 L748.0,492.0 L749.3,493.2 L750.6,494.3 L751.9,493.5 L753.2,495.1 L754.5,495.3 L755.8,495.4 L757.1,497.0 L758.5,496.8 L759.9,496.2 L761.2,496.9 L762.6,497.1 L764.0,496.4 L765.4,496.4 L766.7,495.6 L767.9,495.4 L769.1,495.0 L770.3,493.2 L771.4,492.7 L772.4,491.5 L773.4,490.7 L774.3,489.1 L775.2,488.3 L776.1,487.4 L776.9,486.8 L777.7,485.7 L778.5,483.5 L779.3,482.6 L780.2,482.1 L781.0,479.8 L781.8,479.3 L782.6,478.3 L783.3,477.8 L784.1,476.3 L784.9,474.7 L785.6,473.5 L786.4,472.4 L787.2,472.1 L788.1,470.1 L789.0,469.1 L790.0,468.4 L791.0,467.2 L792.1,466.2 L793.1,464.9 L794.2,464.5 L795.3,463.4 L796.3,463.2 L797.4,462.0 L798.4,460.8 L799.4,460.1 L800.4,458.7 L801.4,458.4 L802.4,456.9 L803.4,456.2 L804.4,454.3 L805.3,454.0 L806.3,452.1 L807.2,450.8 L808.0,450.5 L808.9,449.2 L809.8,448.6 L810.6,448.4 L811.5,445.9 L812.4,444.9 L813.2,444.2 L814.1,443.2 L815.0,441.8 L815.8,440.7 L816.7,440.0 L817.6,438.8 L818.4,437.0 L819.3,436.3 L820.2,435.3 L821.0,433.7 L821.9,433.2 L822.8,431.6 L823.7,431.4 L824.6,430.0 L825.5,428.9 L826.4,427.5" fill="none" stroke="#4a90f5" stroke-width="3.4" stroke-linejoin="round" stroke-linecap="round"/>
<path d="M838.5,331.7 L839.8,330.2 L841.1,330.1 L842.3,330.2 L843.6,328.5 L844.9,329.3 L846.2,327.5 L847.5,328.1 L848.7,326.8 L850.0,327.0 L851.3,326.1 L852.6,324.8 L853.9,325.4 L855.1,325.0 L856.4,323.7 L857.7,323.0 L858.9,322.5 L860.2,321.5 L861.5,321.9 L862.8,320.5 L864.0,320.2 L865.3,319.2 L866.6,318.7 L867.8,317.9 L869.1,318.4 L870.4,317.2 L871.7,317.1 L872.9,316.1 L874.2,315.2 L875.5,314.8 L876.8,314.1 L878.0,313.8 L879.3,313.0 L880.6,312.4 L881.8,311.3 L883.1,311.0 L884.3,311.4 L885.6,309.7 L886.8,308.9 L888.0,308.9 L889.3,308.7 L890.5,306.8 L891.7,306.7 L893.0,305.9 L894.2,304.7 L895.5,305.2 L896.7,304.2 L898.0,303.6 L899.2,302.6 L900.4,302.5 L901.7,301.4 L902.9,300.9 L904.2,299.8 L905.4,299.1 L906.7,299.7 L907.9,298.2 L909.1,297.9 L910.4,297.1 L911.6,296.3 L912.9,295.6 L914.1,295.5 L915.4,294.5 L916.6,293.9 L917.9,293.4 L919.2,293.3 L920.4,292.5 L921.7,291.7 L922.9,290.7 L924.2,289.7 L925.5,290.2 L926.8,289.7 L928.1,288.7 L929.4,288.6 L930.8,288.3 L932.1,288.0 L933.5,287.7 L934.9,286.9 L936.3,287.5 L937.7,286.1 L939.1,287.0 L940.5,286.8 L941.9,286.9 L943.3,287.5 L944.6,287.4 L946.0,286.4 L947.4,286.3 L948.8,287.6 L950.2,287.0 L951.6,287.7 L953.0,288.3 L954.3,287.5 L955.7,287.6 L957.1,288.9 L958.4,289.1 L959.8,289.3 L961.2,289.8 L962.5,289.8 L963.9,289.8 L965.2,290.8 L966.5,290.9 L967.9,291.0 L969.2,292.5 L970.5,292.7 L971.8,293.4 L973.1,293.2 L974.4,294.0 L975.6,294.5 L976.7,295.4 L977.8,296.8 L978.8,297.4 L979.7,298.9 L980.6,300.0 L981.4,301.9 L982.1,301.6 L982.8,303.8 L983.4,304.6 L984.0,305.9 L984.5,306.6 L985.1,308.3 L985.8,310.1 L986.6,310.9 L987.5,312.0 L988.5,312.8 L989.6,314.3 L990.7,314.6 L991.9,314.4 L993.1,315.7 L994.4,315.7 L995.7,315.7 L997.0,317.5 L998.3,318.8 L999.6,318.8 L1000.7,319.0 L1002.0,319.5 L1003.4,320.0 L1004.6,318.9 L1005.7,318.1 L1006.7,317.1 L1007.6,316.0 L1008.4,315.2 L1009.1,313.9 L1009.7,312.4 L1010.3,310.6 L1010.8,310.0 L1011.4,308.2 L1011.9,307.7 L1012.4,305.3 L1012.9,304.5 L1013.3,303.3 L1013.8,301.3 L1014.3,301.4 L1014.7,300.0 L1015.3,297.8 L1015.8,297.1 L1016.4,295.6 L1017.0,293.0 L1017.6,293.0 L1018.3,291.7 L1019.0,290.5 L1019.7,288.8 L1020.4,288.0 L1021.2,286.9 L1022.1,286.4 L1023.2,285.1 L1024.3,284.1 L1025.5,284.1 L1026.7,282.4 L1027.9,281.8 L1029.2,280.5 L1030.4,281.4 L1031.7,280.5 L1032.9,279.9 L1034.2,279.2 L1035.5,278.3 L1036.7,277.8 L1038.0,277.0 L1039.3,276.5 L1040.6,276.1 L1041.9,276.2 L1043.2,275.3 L1044.5,274.4 L1045.7,273.5 L1046.9,272.8 L1048.1,273.1 L1049.4,272.0 L1050.7,271.2 L1052.0,270.5 L1053.3,269.7 L1054.6,269.8 L1056.0,270.0 L1057.4,269.3 L1058.8,269.5 L1060.2,269.7 L1061.5,270.2 L1062.9,269.8 L1064.2,270.9 L1065.5,271.3 L1066.6,272.8 L1067.8,272.9 L1068.9,274.4 L1069.9,275.7 L1071.0,275.8 L1072.0,276.6 L1073.1,277.8 L1074.2,278.6 L1075.4,278.9 L1076.6,280.3 L1077.8,281.7 L1079.0,281.4 L1080.2,282.2 L1081.3,282.6 L1082.4,284.1 L1083.4,284.3 L1084.4,285.4 L1085.2,287.6 L1085.8,287.9 L1086.3,290.1 L1086.6,291.7 L1086.9,292.5 L1087.0,294.0 L1087.2,296.0 L1087.3,296.4 L1087.4,297.7 L1087.5,298.7" fill="none" stroke="#4a90f5" stroke-width="3.4" stroke-linejoin="round" stroke-linecap="round"/>
<path d="M1089.9,300.0 L1090.0,299.3 L1090.2,297.6 L1090.3,295.4 L1090.5,294.0 L1090.6,292.8 L1090.8,291.8 L1091.0,290.2 L1091.1,289.0 L1091.3,287.6 L1091.5,286.0 L1091.6,284.7 L1091.8,283.4 L1092.0,281.9 L1092.2,280.8 L1092.4,280.0 L1092.6,278.0 L1092.8,276.4 L1093.0,274.2 L1093.3,273.8 L1093.6,271.4 L1094.0,270.3 L1094.4,270.0 L1094.9,268.6 L1095.4,266.9 L1096.0,264.9 L1096.7,264.3 L1097.4,263.0 L1098.2,262.4 L1099.2,262.1 L1100.3,260.3 L1101.4,259.1 L1102.7,258.3 L1104.0,258.5 L1105.4,258.7 L1106.7,258.8 L1108.1,259.4 L1109.3,258.1 L1110.2,258.0 L1110.9,256.9 L1111.7,255.7 L1112.5,253.8 L1113.3,253.1 L1114.1,251.7 L1114.9,250.4 L1115.7,249.3 L1116.4,247.7 L1117.3,246.5 L1118.1,246.4 L1119.0,244.9 L1120.0,244.1 L1121.1,243.5 L1122.2,241.5 L1123.4,241.1 L1124.6,240.9 L1125.9,240.3 L1127.1,239.4 L1128.4,239.5 L1129.7,238.6 L1131.0,237.4 L1132.3,237.0 L1133.6,237.4 L1135.0,236.8 L1136.3,235.3 L1137.6,236.4 L1139.0,235.7 L1140.3,235.6 L1141.7,234.4 L1143.0,234.0 L1144.3,233.2 L1145.7,234.4 L1147.0,232.8 L1148.3,233.1 L1149.6,231.6 L1151.0,231.6 L1152.3,230.3 L1153.6,230.4 L1154.9,230.6 L1156.3,229.1 L1157.6,229.7 L1158.9,229.0 L1160.3,227.9 L1161.6,227.8 L1163.0,227.4 L1164.3,227.2 L1165.6,226.6 L1167.0,226.1 L1168.3,225.9 L1169.7,225.2 L1171.0,224.6 L1172.3,224.8 L1173.7,224.8 L1175.0,223.2 L1176.3,223.5 L1177.6,222.7 L1179.0,222.1 L1180.3,222.4 L1181.6,221.3 L1182.9,221.8 L1184.2,220.3 L1185.6,220.4 L1186.9,219.8 L1188.3,219.3 L1189.7,219.8 L1191.1,219.5 L1192.5,220.0 L1193.9,219.7 L1195.3,219.3 L1196.7,219.7 L1198.0,219.4 L1199.2,219.0 L1200.1,217.1 L1201.0,216.4 L1201.9,214.6 L1202.8,214.6 L1203.7,212.7 L1204.6,211.3 L1205.5,211.0 L1206.3,210.4 L1207.2,208.2 L1208.1,207.3 L1209.0,206.3 L1209.9,205.1 L1210.8,204.7 L1211.7,203.1 L1212.6,202.0 L1213.5,201.6 L1214.4,199.9 L1215.3,199.4 L1216.3,197.7 L1217.2,196.6 L1218.2,195.3 L1219.1,195.9 L1220.1,193.9 L1221.1,193.2 L1222.0,192.1 L1223.0,191.2 L1224.0,190.1 L1225.0,190.0 L1226.0,187.6 L1227.0,186.4 L1228.0,185.7 L1229.0,184.5 L1230.0,184.5 L1231.0,183.6 L1232.0,181.8 L1233.0,180.6 L1234.0,180.1 L1235.1,180.0 L1236.1,177.2 L1237.2,177.8 L1238.3,176.2 L1239.4,176.3 L1240.5,174.5 L1241.7,174.1 L1242.9,172.8 L1244.1,172.3 L1245.3,172.6" fill="none" stroke="#4a90f5" stroke-width="3.4" stroke-linejoin="round" stroke-linecap="round"/>
<path d="M1087.6000000000001,300 L1088.7,341 L1089.8,300" fill="none" stroke="#4a90f5" stroke-width="2.8" stroke-linejoin="round" stroke-linecap="round"/>
<path d="M695.6,564.4 L697.0,563.9 L698.3,563.4 L699.7,562.7 L701.1,563.1 L702.5,563.0 L703.8,562.7 L705.2,562.5 L706.6,561.8 L708.0,562.0 L709.4,561.8 L710.7,562.2 L712.1,562.4 L713.5,561.4 L714.9,561.3 L716.3,561.9 L717.6,562.2 L718.8,562.7 L720.1,563.7 L721.2,564.0 L722.4,565.6 L723.5,566.2 L724.5,567.2 L725.6,568.0 L726.6,568.7 L727.6,569.6 L728.6,570.9 L729.5,571.8 L730.5,573.1 L731.5,574.0 L732.5,574.4 L733.5,576.0 L734.6,576.3 L735.6,577.6 L736.6,578.6 L737.7,578.8 L738.7,580.7 L739.8,581.6 L740.8,582.4 L741.9,583.2 L742.9,584.2 L743.9,584.9 L745.0,586.1 L746.0,586.9 L747.1,588.1 L748.2,588.4 L749.3,589.9 L750.5,590.6 L751.6,591.3 L752.8,591.8 L754.1,593.0 L755.3,592.6 L756.6,594.2 L757.8,594.7 L759.1,595.3 L760.4,595.9 L761.7,595.8 L763.1,596.1 L764.5,596.4 L765.9,595.9 L767.1,595.2 L768.4,593.7 L769.5,593.9 L770.6,593.3 L771.7,592.3 L772.7,591.0 L773.6,589.1 L774.5,589.2 L775.3,587.6 L776.2,585.4 L777.0,585.6 L777.8,583.6 L778.6,582.5 L779.3,581.6 L780.1,581.3 L780.8,579.4 L781.6,578.5 L782.4,578.0 L783.1,576.7 L783.9,574.8 L784.6,573.5 L785.4,571.9 L786.1,571.0 L786.9,570.3 L787.7,569.1 L788.5,567.9 L789.4,567.2 L790.2,565.3 L791.1,564.5 L792.1,563.8 L793.0,562.7 L793.9,561.9 L794.8,560.5 L795.8,559.2 L796.7,558.4 L797.6,556.7 L798.5,555.4 L799.5,555.4 L800.4,554.0 L801.3,553.1 L802.2,551.2 L803.2,550.7 L804.1,549.5 L804.9,548.3 L805.8,546.6 L806.6,546.4 L807.5,545.8 L808.3,544.4 L809.1,542.8 L809.9,542.0 L810.7,541.2 L811.5,538.4 L812.3,538.5 L813.1,537.6 L813.9,536.5 L814.7,535.8 L815.4,534.4 L816.2,532.8 L816.9,531.6 L817.7,530.7 L818.4,528.9 L819.2,527.9 L819.9,527.2 L820.6,526.4 L821.4,524.3 L822.1,523.2 L822.8,522.1 L823.6,521.4 L824.3,519.6 L825.0,519.0 L825.7,516.7 L826.4,515.9 L827.2,514.7" fill="none" stroke="#000" stroke-width="3.4" stroke-linejoin="round" stroke-linecap="round"/>
<path d="M838.5,433.1 L839.9,433.3 L841.2,431.8 L842.6,431.8 L844.0,432.0 L845.3,431.3 L846.7,430.6 L848.1,431.4 L849.4,430.8 L850.8,430.4 L852.1,429.6 L853.4,429.9 L854.8,428.8 L856.1,429.0 L857.4,427.6 L858.7,427.1 L860.0,427.1 L861.3,426.1 L862.6,426.2 L863.9,425.5 L865.2,424.4 L866.4,424.2 L867.7,423.4 L868.9,423.4 L870.2,422.0 L871.4,421.4 L872.6,421.5 L873.9,421.3 L875.1,420.5 L876.3,418.9 L877.5,418.3 L878.7,418.1 L879.9,416.7 L881.1,415.5 L882.2,415.3 L883.4,414.6 L884.6,413.3 L885.7,412.1 L886.9,411.4 L888.0,411.6 L889.2,410.1 L890.3,409.6 L891.4,408.9 L892.6,408.2 L893.7,407.0 L894.8,406.5 L895.9,405.1 L897.0,404.4 L898.1,403.3 L899.2,403.4 L900.3,402.0 L901.4,400.8 L902.5,400.1 L903.6,399.3 L904.7,398.8 L905.8,396.9 L906.9,396.3 L908.0,395.7 L909.1,396.1 L910.1,394.5 L911.2,393.2 L912.3,392.6 L913.4,392.4 L914.5,390.4 L915.5,389.5 L916.6,389.3 L917.7,388.1 L918.8,387.2 L919.8,385.8 L920.9,386.0 L921.9,385.0 L923.0,383.5 L924.0,382.6 L925.0,380.4 L926.0,380.7 L927.1,379.4 L928.2,378.8 L929.3,378.0 L930.4,376.7 L931.5,375.3 L932.7,375.5 L933.9,374.3 L935.2,373.9 L936.5,373.3 L937.9,373.1 L939.3,372.0 L940.7,373.5 L942.1,373.0 L943.5,373.3 L944.9,373.6 L946.3,372.7 L947.7,371.9 L949.1,372.3 L950.5,372.2 L951.9,372.5 L953.3,372.8 L954.7,371.9 L956.1,373.0 L957.5,372.2 L958.9,373.0 L960.3,372.9 L961.7,372.9 L963.1,373.1 L964.4,373.1 L965.8,373.2 L967.2,373.0 L968.6,374.1 L969.9,375.4 L971.2,375.9 L972.5,376.2 L973.7,376.5 L974.9,376.7 L975.9,378.6 L976.9,378.9 L977.8,380.0 L978.7,381.0 L979.6,382.2 L980.5,383.1 L981.3,384.4 L982.1,385.1 L982.8,386.6 L983.5,389.0 L984.0,389.2 L984.5,390.5 L984.9,392.2 L985.3,393.6 L985.9,394.0 L986.8,395.5 L987.8,397.0 L988.9,397.6 L990.1,398.2 L991.3,399.6 L992.5,399.3 L993.7,400.3 L995.0,400.6 L996.3,402.1 L997.5,401.2 L998.8,402.3 L1000.1,403.0 L1001.2,404.3 L1002.4,405.0 L1003.8,405.5 L1005.1,403.6 L1006.1,403.7 L1007.0,402.1 L1007.8,400.8 L1008.5,400.1 L1009.1,398.2 L1009.7,396.4 L1010.2,395.9 L1010.7,394.1 L1011.2,393.2 L1011.8,392.3 L1012.3,391.0 L1012.7,390.2 L1013.2,388.1 L1013.6,386.2 L1014.1,385.2 L1014.6,383.8 L1015.1,382.4 L1015.6,381.8 L1016.2,380.1 L1016.8,378.2 L1017.4,378.2 L1018.1,376.6 L1018.8,375.6 L1019.5,374.2 L1020.2,373.3 L1021.0,371.9 L1021.8,371.2 L1022.7,369.8 L1023.6,368.7 L1024.5,367.7 L1025.6,365.9 L1026.7,365.7 L1028.0,365.0 L1029.3,364.7 L1030.6,363.6 L1032.0,364.6 L1033.3,363.7 L1034.7,362.8 L1036.1,362.4 L1037.5,362.9 L1038.9,363.0 L1040.3,362.6 L1041.7,362.8 L1043.1,362.3 L1044.4,362.6 L1045.8,361.9 L1047.2,362.0 L1048.6,362.3 L1050.0,362.8 L1051.4,361.0 L1052.8,361.2 L1054.2,361.1 L1055.5,362.2 L1056.8,361.8 L1058.1,362.8 L1059.3,363.7 L1060.4,364.1 L1061.5,364.9 L1062.6,366.0 L1063.6,366.2 L1064.6,367.5 L1065.6,369.0 L1066.5,370.3 L1067.5,371.2 L1068.4,371.5 L1069.3,373.2 L1070.2,374.9 L1071.0,375.9 L1071.8,376.7 L1072.7,377.5 L1073.5,379.3 L1074.3,379.9 L1075.1,380.8 L1076.0,382.0 L1076.9,384.1 L1077.9,384.5 L1078.9,385.9 L1080.0,386.0 L1081.2,387.5 L1082.3,387.6 L1083.3,388.7 L1084.2,391.0 L1084.9,391.4 L1085.5,392.1 L1086.0,393.7 L1086.3,395.2 L1086.6,397.0 L1086.8,397.6 L1087.0,398.4 L1087.2,400.4 L1087.3,402.0 L1087.4,403.4 L1087.5,405.4 L1087.6,406.3 L1087.6,407.9 L1087.7,408.5" fill="none" stroke="#000" stroke-width="3.4" stroke-linejoin="round" stroke-linecap="round"/>
<path d="M1089.9,410.0 L1090.0,409.5 L1090.1,407.6 L1090.3,405.9 L1090.4,404.5 L1090.5,403.8 L1090.6,401.2 L1090.8,400.2 L1090.9,399.1 L1091.0,397.8 L1091.2,395.9 L1091.3,394.8 L1091.4,393.1 L1091.5,391.9 L1091.7,390.4 L1091.8,388.6 L1091.9,387.7 L1092.1,386.7 L1092.2,384.5 L1092.4,383.4 L1092.5,382.4 L1092.7,380.3 L1093.0,379.4 L1093.3,377.5 L1093.7,377.2 L1094.1,376.4 L1094.7,375.0 L1095.4,372.7 L1096.2,372.0 L1097.1,370.7 L1098.1,369.7 L1099.1,369.4 L1100.3,367.3 L1101.5,367.7 L1102.9,367.0 L1104.2,367.9 L1105.3,368.3 L1106.2,369.0 L1107.0,370.5 L1108.0,371.7 L1109.3,371.7 L1110.2,370.9 L1110.8,369.2 L1111.4,367.2 L1112.1,367.3 L1112.8,366.0 L1113.6,364.6 L1114.3,363.4 L1115.0,362.6 L1115.8,360.8 L1116.6,359.5 L1117.4,358.6 L1118.4,358.2 L1119.4,356.1 L1120.4,356.3 L1121.6,354.7 L1122.8,353.8 L1124.1,354.3 L1125.4,353.2 L1126.7,352.2 L1128.1,352.2 L1129.4,352.5 L1130.8,352.3 L1132.1,351.3 L1133.5,351.4 L1134.9,351.2 L1136.3,350.3 L1137.6,350.5 L1139.0,350.0 L1140.3,349.4 L1141.7,349.1 L1143.0,348.9 L1144.4,348.5 L1145.7,347.9 L1147.1,347.6 L1148.4,347.9 L1149.8,347.1 L1151.1,347.0 L1152.5,346.7 L1153.8,346.0 L1155.1,346.4 L1156.5,344.5 L1157.8,344.8 L1159.1,343.9 L1160.4,344.4 L1161.8,343.8 L1163.1,341.7 L1164.4,341.7 L1165.7,341.9 L1167.0,341.4 L1168.3,340.9 L1169.6,339.9 L1170.9,339.6 L1172.1,339.1 L1173.4,338.2 L1174.6,338.1 L1175.9,335.9 L1177.1,336.6 L1178.3,335.1 L1179.5,335.3 L1180.7,334.0 L1181.9,333.0 L1183.1,332.9 L1184.4,331.7 L1185.6,331.1 L1186.9,330.3 L1188.3,330.6 L1189.7,330.5 L1191.0,330.5 L1192.4,329.9 L1193.8,330.5 L1195.2,330.0 L1196.5,329.5 L1197.6,329.0 L1198.5,328.1 L1199.2,326.3 L1200.0,325.1 L1200.8,324.0 L1201.6,323.0 L1202.4,321.4 L1203.2,321.1 L1204.0,319.3 L1204.8,318.6 L1205.6,316.8 L1206.4,316.2 L1207.2,315.1 L1208.0,313.6 L1208.8,313.5 L1209.6,311.6 L1210.4,311.1 L1211.2,309.6 L1212.0,307.7 L1212.9,306.7 L1213.7,306.0 L1214.5,304.6 L1215.3,303.5 L1216.1,302.2 L1216.9,300.4 L1217.7,300.0 L1218.6,297.9 L1219.4,298.0 L1220.2,296.3 L1221.0,295.2 L1221.9,294.3 L1222.7,293.4 L1223.5,291.5 L1224.4,290.3 L1225.2,289.5 L1226.1,287.9 L1226.9,287.3 L1227.8,287.3 L1228.6,285.0 L1229.5,284.7 L1230.4,282.7 L1231.2,282.3 L1232.1,281.0 L1233.0,280.0 L1234.0,279.2 L1234.9,278.7 L1235.9,277.0 L1236.9,276.0 L1237.9,274.6 L1239.0,274.4 L1240.1,273.2 L1241.2,272.8 L1242.3,271.6 L1243.4,271.5 L1244.5,269.0 L1245.5,268.8" fill="none" stroke="#000" stroke-width="3.4" stroke-linejoin="round" stroke-linecap="round"/>
<path d="M1087.7,410 L1088.8,459.5 L1089.8999999999999,410" fill="none" stroke="#000" stroke-width="2.8" stroke-linejoin="round" stroke-linecap="round"/>
<path d="M695.5,609.7 L695.5,31.8 L1245.6,31.8 L1245.6,609.7 Z" fill="none" stroke="#000" stroke-width="3.5" stroke-linejoin="round"/>
<rect x="830" y="28.8" width="6" height="6" fill="#fff"/>
<rect x="830" y="606.7" width="6" height="6" fill="#fff"/>
<line x1="832.5" y1="14.2" x2="822.6" y2="49.5" stroke="#000" stroke-width="3.4" stroke-linecap="round"/>
<line x1="842.6" y1="14.2" x2="832.3" y2="49.5" stroke="#000" stroke-width="3.4" stroke-linecap="round"/>
<line x1="832.7" y1="599" x2="822.6" y2="621" stroke="#000" stroke-width="3.4" stroke-linecap="round"/>
<line x1="842.9" y1="599" x2="833" y2="621" stroke="#000" stroke-width="3.4" stroke-linecap="round"/>
<line x1="705.0" x2="705.0" y1="610.7" y2="615.4" stroke="#000" stroke-width="3.4" stroke-linecap="round"/>
<line x1="752.4" x2="752.4" y1="610.7" y2="620.8" stroke="#000" stroke-width="3.4" stroke-linecap="round"/>
<line x1="799.8" x2="799.8" y1="610.7" y2="615.4" stroke="#000" stroke-width="3.4" stroke-linecap="round"/>
<line x1="1245.5" x2="1245.5" y1="610.7" y2="620.8" stroke="#000" stroke-width="3.4" stroke-linecap="round"/>
<line x1="1194.5" x2="1194.5" y1="610.7" y2="615.4" stroke="#000" stroke-width="3.4" stroke-linecap="round"/>
<line x1="1143.4" x2="1143.4" y1="610.7" y2="620.8" stroke="#000" stroke-width="3.4" stroke-linecap="round"/>
<line x1="1092.3" x2="1092.3" y1="610.7" y2="615.4" stroke="#000" stroke-width="3.4" stroke-linecap="round"/>
<line x1="1041.3" x2="1041.3" y1="610.7" y2="620.8" stroke="#000" stroke-width="3.4" stroke-linecap="round"/>
<line x1="990.2" x2="990.2" y1="610.7" y2="615.4" stroke="#000" stroke-width="3.4" stroke-linecap="round"/>
<line x1="939.2" x2="939.2" y1="610.7" y2="620.8" stroke="#000" stroke-width="3.4" stroke-linecap="round"/>
<line x1="888.2" x2="888.2" y1="610.7" y2="615.4" stroke="#000" stroke-width="3.4" stroke-linecap="round"/>
<line x1="837.1" x2="837.1" y1="610.7" y2="620.8" stroke="#000" stroke-width="3.4" stroke-linecap="round"/>
<text x="752.4" y="655.9" font-size="29" text-anchor="middle">3500</text>
<text x="1246.0" y="655.9" font-size="29" text-anchor="middle">1000</text>
<text x="1143.9" y="655.9" font-size="29" text-anchor="middle">1250</text>
<text x="1041.8" y="655.9" font-size="29" text-anchor="middle">1500</text>
<text x="939.7" y="655.9" font-size="29" text-anchor="middle">1750</text>
<text x="837.6" y="655.9" font-size="29" text-anchor="middle">2000</text>
<text x="971.2" y="703.8" font-size="29" text-anchor="middle">Wavenumber (cm<tspan font-size="19.5" dy="-12">−1</tspan><tspan dy="12">)</tspan></text>
<text transform="translate(671,320) rotate(-90)" font-size="29" text-anchor="middle">Transmitance (%)</text>
<text x="732.3" y="68" font-size="25"><tspan font-style="italic" font-size="17" dy="-12.2">ν</tspan><tspan dy="12.2" dx="-0.5">(C-OH,</tspan></text>
<text x="706.2" y="97.2" font-size="25">COOH,H<tspan font-size="17" dy="9.5">2</tspan><tspan dy="-9.5">O)</tspan></text>
<text x="865.2" y="68" font-size="25"><tspan font-style="italic" font-size="17" dy="-12.2">ν</tspan><tspan dy="12.2" dx="-0.5">(C=O)</tspan></text>
<text x="967.6" y="68" font-size="25"><tspan font-style="italic" font-size="17" dy="-12.2">ν</tspan><tspan dy="12.2" dx="-0.5">(C=C)</tspan></text>
<text x="1057.3" y="68" font-size="25"><tspan font-style="italic" font-size="17" dy="-12.2">ν</tspan><tspan dy="12.2" dx="-0.5">(CH<tspan font-size="17" dy="9.5">3</tspan><tspan dy="-9.5">)</tspan></tspan></text>
<text x="1181.3" y="64.2" font-size="25" text-anchor="middle">ethers</text>
<text x="1181.3" y="92.9" font-size="25" text-anchor="middle">epoxides</text>
<text x="1146" y="170.6" font-size="25">OCNT</text>
<text x="1146.5" y="262.2" font-size="25">Pd<tspan font-family='"Liberation Serif", serif' font-size="26" dy="-10.5" style="stroke-width:0.5px">δ</tspan><tspan font-size="24">+</tspan><tspan dy="10.5">-</tspan></text>
<text x="1146.5" y="291.8" font-size="25">OCNT</text>
<text x="1146.5" y="394.2" font-size="25">H-Pd-</text>
<text x="1146.5" y="423" font-size="25">OCNT</text>
<text x="646" y="31" font-size="42" font-weight="bold">b</text>
</g>
<g id="panel-c">
<defs>
<linearGradient id="gB" x1="0" y1="0" x2="0" y2="1"><stop offset="0" stop-color="#2d7cf5"/><stop offset="0.12" stop-color="#2d7cf5"/><stop offset="1" stop-color="#94c0fb"/></linearGradient>
<linearGradient id="gL" x1="0" y1="0" x2="0" y2="1"><stop offset="0" stop-color="#62cefc"/><stop offset="1" stop-color="#a3e4fe"/></linearGradient>
<linearGradient id="gG" x1="0" y1="0" x2="0" y2="1"><stop offset="0" stop-color="#52c48b"/><stop offset="0.12" stop-color="#52c48b"/><stop offset="0.85" stop-color="#b0e6ce"/><stop offset="1" stop-color="#b0e6ce"/></linearGradient>
<linearGradient id="gO" x1="0" y1="0" x2="0" y2="1"><stop offset="0" stop-color="#ff9632"/><stop offset="1" stop-color="#ffc891"/></linearGradient>
</defs>
<rect x="1446.3" y="84.4" width="127.2" height="10.0" fill="#c1c1c1"/>
<rect x="1446.3" y="94.4" width="127.2" height="19.4" fill="url(#gO)"/>
<rect x="1446.3" y="113.8" width="127.2" height="181.7" fill="url(#gG)"/>
<rect x="1446.3" y="295.5" width="127.2" height="51.5" fill="url(#gL)"/>
<rect x="1446.3" y="347.0" width="127.2" height="262.6" fill="url(#gB)"/>
<rect x="1629.6" y="84.4" width="126.7" height="14.5" fill="#c1c1c1"/>
<rect x="1629.6" y="98.9" width="126.7" height="26.2" fill="url(#gO)"/>
<rect x="1629.6" y="125.1" width="126.7" height="158.7" fill="url(#gG)"/>
<rect x="1629.6" y="283.8" width="126.7" height="36.5" fill="url(#gL)"/>
<rect x="1629.6" y="320.3" width="126.7" height="289.3" fill="url(#gB)"/>
<rect x="1811.8" y="84.4" width="127.9" height="23.0" fill="#c1c1c1"/>
<rect x="1811.8" y="107.4" width="127.9" height="20.4" fill="url(#gO)"/>
<rect x="1811.8" y="127.8" width="127.9" height="119.0" fill="url(#gG)"/>
<rect x="1811.8" y="246.8" width="127.9" height="18.5" fill="url(#gL)"/>
<rect x="1811.8" y="265.3" width="127.9" height="344.3" fill="url(#gB)"/>
<rect x="1425.9" y="50.1" width="48.2" height="22.8" fill="url(#gB)"/>
<text x="1483.6" y="68.6" font-size="20.6">C=C</text>
<rect x="1534.8" y="50.1" width="48.2" height="22.8" fill="url(#gL)"/>
<text x="1590.2" y="68.6" font-size="20.6">C–C</text>
<rect x="1637.5" y="50.1" width="48.2" height="22.8" fill="url(#gG)"/>
<text x="1692.3" y="68.6" font-size="20.6">C–O</text>
<rect x="1741.4" y="50.1" width="48.2" height="22.8" fill="url(#gO)"/>
<text x="1798.3" y="68.6" font-size="20.6">C=O</text>
<rect x="1850.9" y="50.1" width="48.2" height="22.8" fill="#c1c1c1"/>
<text x="1908" y="69" font-size="26" style="stroke-width:0.6px" font-family='"Liberation Serif", serif'>π–π</text>
<path d="M1419.2,619.1 L1419.2,31.2 L1967.5,31.2 L1967.5,619.1" fill="none" stroke="#000" stroke-width="3.6" stroke-linecap="round" stroke-linejoin="round"/>
<line x1="1419.2" x2="1967.5" y1="609.6" y2="609.6" stroke="#000" stroke-width="3.6"/>
<line x1="1407.6" x2="1418.2" y1="609.6" y2="609.6" stroke="#000" stroke-width="3.6" stroke-linecap="round"/>
<text x="1394.6" y="619.1" font-size="29" text-anchor="end">0</text>
<line x1="1413.6" x2="1418.2" y1="557.0" y2="557.0" stroke="#000" stroke-width="3.6" stroke-linecap="round"/>
<line x1="1407.6" x2="1418.2" y1="504.4" y2="504.4" stroke="#000" stroke-width="3.6" stroke-linecap="round"/>
<text x="1394.6" y="513.9" font-size="29" text-anchor="end">20</text>
<line x1="1413.6" x2="1418.2" y1="451.9" y2="451.9" stroke="#000" stroke-width="3.6" stroke-linecap="round"/>
<line x1="1407.6" x2="1418.2" y1="399.3" y2="399.3" stroke="#000" stroke-width="3.6" stroke-linecap="round"/>
<text x="1394.6" y="408.8" font-size="29" text-anchor="end">40</text>
<line x1="1413.6" x2="1418.2" y1="346.7" y2="346.7" stroke="#000" stroke-width="3.6" stroke-linecap="round"/>
<line x1="1407.6" x2="1418.2" y1="294.1" y2="294.1" stroke="#000" stroke-width="3.6" stroke-linecap="round"/>
<text x="1394.6" y="303.6" font-size="29" text-anchor="end">60</text>
<line x1="1413.6" x2="1418.2" y1="241.5" y2="241.5" stroke="#000" stroke-width="3.6" stroke-linecap="round"/>
<line x1="1407.6" x2="1418.2" y1="189.0" y2="189.0" stroke="#000" stroke-width="3.6" stroke-linecap="round"/>
<text x="1394.6" y="198.5" font-size="29" text-anchor="end">80</text>
<line x1="1413.6" x2="1418.2" y1="136.4" y2="136.4" stroke="#000" stroke-width="3.6" stroke-linecap="round"/>
<line x1="1407.6" x2="1418.2" y1="83.8" y2="83.8" stroke="#000" stroke-width="3.6" stroke-linecap="round"/>
<text x="1394.6" y="93.3" font-size="29" text-anchor="end">100</text>
<line x1="1413.4" x2="1418.2" y1="31.2" y2="31.2" stroke="#000" stroke-width="3.6" stroke-linecap="round"/>
<line x1="1510" x2="1510" y1="610.6" y2="626.6" stroke="#000" stroke-width="3.6" stroke-linecap="round"/>
<line x1="1601.1" x2="1601.1" y1="610.6" y2="619.4" stroke="#000" stroke-width="3.6" stroke-linecap="round"/>
<line x1="1693.1" x2="1693.1" y1="610.6" y2="626.6" stroke="#000" stroke-width="3.6" stroke-linecap="round"/>
<line x1="1784.7" x2="1784.7" y1="610.6" y2="619.4" stroke="#000" stroke-width="3.6" stroke-linecap="round"/>
<line x1="1875.8" x2="1875.8" y1="610.6" y2="626.6" stroke="#000" stroke-width="3.6" stroke-linecap="round"/>
<text x="1510.5" y="669.6" font-size="29" text-anchor="middle">6.5h OCNT</text>
<text x="1693.5" y="669.6" font-size="29" text-anchor="middle">Pd<tspan font-family='"Liberation Serif", serif' font-size="22.5" dy="-11.5" style="stroke-width:0.5px">δ</tspan><tspan font-size="21">+</tspan><tspan dy="11.5">-OCNT</tspan></text>
<text x="1876" y="669.6" font-size="29" text-anchor="middle">H-Pd-OCNT</text>
<text transform="translate(1322,321) rotate(-90)" font-size="29" text-anchor="middle">Percentage (%)</text>
<text x="1297" y="32" font-size="42" font-weight="bold">c</text>
</g>
</svg>
</body></html>
